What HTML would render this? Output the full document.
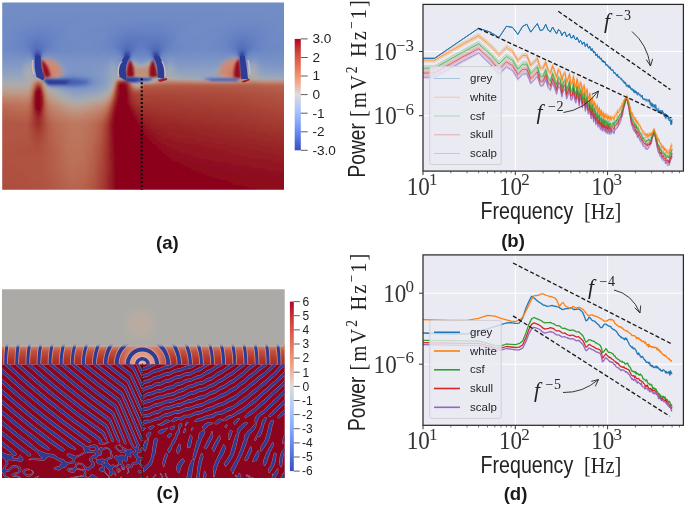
<!DOCTYPE html>
<html><head><meta charset="utf-8"><title>figure</title>
<style>
html,body{margin:0;padding:0;background:#fff;}
svg{display:block}
text{font-family:"Liberation Sans",sans-serif;fill:#262626}
.tk{font-family:"Liberation Serif",serif;font-size:24.8px;fill:#333}
.al{font-family:"Liberation Sans",sans-serif;font-size:23px;fill:#222}
.rm{font-family:"Liberation Serif",serif;font-size:24px;fill:#222}
.lg{font-family:"Liberation Sans",sans-serif;font-size:11.5px;fill:#262626}
.fl{font-family:"Liberation Serif",serif;font-style:italic;font-size:21.5px;fill:#222}
.fe{font-family:"Liberation Serif",serif;font-size:14px;fill:#222;letter-spacing:0.6px}
.pl{font-family:"Liberation Sans",sans-serif;font-weight:bold;font-size:18.6px;fill:#1a1a1a}
.cc{font-family:"Liberation Sans",sans-serif;font-size:12px;fill:#222}
.cb{font-family:"Liberation Sans",sans-serif;font-size:13.6px;fill:#222}
</style></head><body>
<svg width="685" height="505" viewBox="0 0 685 505">
<defs>
<clipPath id="cb"><rect x="423" y="4.4" width="261" height="166.7"/></clipPath>
<clipPath id="cd"><rect x="423" y="254.9" width="261" height="170.4"/></clipPath>
</defs>
<rect width="685" height="505" fill="#fff"/>
<defs>
<clipPath id="ca"><rect x="2.2" y="2.6" width="281.8" height="187.1"/></clipPath>
<linearGradient id="cwv" x1="0" y1="0" x2="0" y2="1">
<stop offset="0" stop-color="#b40426"/><stop offset="0.125" stop-color="#d0473d"/><stop offset="0.25" stop-color="#e7745b"/><stop offset="0.375" stop-color="#f3a283"/><stop offset="0.5" stop-color="#dddcdc"/>
<stop offset="0.625" stop-color="#b1c8f7"/><stop offset="0.75" stop-color="#85a7fa"/><stop offset="0.875" stop-color="#5d7ce6"/><stop offset="1" stop-color="#3b4cc0"/>
</linearGradient>
<linearGradient id="aR" x1="0" y1="3" x2="0" y2="189" gradientUnits="userSpaceOnUse">
<stop offset="0" stop-color="#7b94c9"/><stop offset="0.2" stop-color="#7f97cb"/><stop offset="0.33" stop-color="#8da3d2"/><stop offset="0.385" stop-color="#a3b4d9"/>
<stop offset="0.415" stop-color="#d6cfd3"/><stop offset="0.44" stop-color="#d68a72"/><stop offset="0.47" stop-color="#c35842"/><stop offset="0.58" stop-color="#b03a33"/><stop offset="0.75" stop-color="#9e1d28"/><stop offset="1" stop-color="#930f22"/>
</linearGradient>
<linearGradient id="aL" x1="0" y1="3" x2="0" y2="189" gradientUnits="userSpaceOnUse">
<stop offset="0" stop-color="#7b94c9"/><stop offset="0.25" stop-color="#8199cc"/><stop offset="0.36" stop-color="#98acd8"/><stop offset="0.42" stop-color="#b4c2e0"/>
<stop offset="0.47" stop-color="#dcd6d8"/><stop offset="0.53" stop-color="#e2b29c"/><stop offset="0.62" stop-color="#d17a62"/><stop offset="0.8" stop-color="#c7644d"/><stop offset="1" stop-color="#c25a44"/>
</linearGradient>
<linearGradient id="aLm" x1="2" y1="0" x2="284" y2="0" gradientUnits="userSpaceOnUse">
<stop offset="0" stop-color="#fff"/><stop offset="0.33" stop-color="#fff"/><stop offset="0.42" stop-color="#000"/><stop offset="1" stop-color="#000"/>
</linearGradient>
<mask id="mL"><rect x="0" y="0" width="290" height="195" fill="url(#aLm)"/></mask>
<filter id="b05" filterUnits="userSpaceOnUse" x="-40" y="-40" width="400" height="300"><feGaussianBlur stdDeviation="0.5"/></filter>
<filter id="b1" filterUnits="userSpaceOnUse" x="-40" y="-40" width="400" height="300"><feGaussianBlur stdDeviation="1"/></filter>
<filter id="b2" filterUnits="userSpaceOnUse" x="-40" y="-40" width="400" height="300"><feGaussianBlur stdDeviation="2.2"/></filter>
<filter id="b4" filterUnits="userSpaceOnUse" x="-40" y="-40" width="400" height="300"><feGaussianBlur stdDeviation="4.5"/></filter>
<filter id="b8" filterUnits="userSpaceOnUse" x="-40" y="-40" width="400" height="300"><feGaussianBlur stdDeviation="9"/></filter>
<filter id="b14" filterUnits="userSpaceOnUse" x="-40" y="-40" width="400" height="300"><feGaussianBlur stdDeviation="14"/></filter>
</defs>
<defs><linearGradient id="fa0" x1="2" x2="284.5" y1="0" y2="0" gradientUnits="userSpaceOnUse"><stop offset="0.000" stop-color="#728cc5"/><stop offset="1.000" stop-color="#728cc5"/></linearGradient><linearGradient id="fa1" x1="2" x2="284.5" y1="0" y2="0" gradientUnits="userSpaceOnUse"><stop offset="0.000" stop-color="#728cc5"/><stop offset="1.000" stop-color="#728cc5"/></linearGradient><linearGradient id="fa2" x1="2" x2="284.5" y1="0" y2="0" gradientUnits="userSpaceOnUse"><stop offset="0.000" stop-color="#728cc5"/><stop offset="1.000" stop-color="#728cc5"/></linearGradient><linearGradient id="fa3" x1="2" x2="284.5" y1="0" y2="0" gradientUnits="userSpaceOnUse"><stop offset="0.000" stop-color="#728cc5"/><stop offset="0.638" stop-color="#718cc5"/><stop offset="1.000" stop-color="#728cc5"/></linearGradient><linearGradient id="fa4" x1="2" x2="284.5" y1="0" y2="0" gradientUnits="userSpaceOnUse"><stop offset="0.000" stop-color="#718cc5"/><stop offset="0.241" stop-color="#718cc5"/><stop offset="0.596" stop-color="#708bc5"/><stop offset="1.000" stop-color="#718cc5"/></linearGradient><linearGradient id="fa5" x1="2" x2="284.5" y1="0" y2="0" gradientUnits="userSpaceOnUse"><stop offset="0.000" stop-color="#718cc5"/><stop offset="0.191" stop-color="#708bc5"/><stop offset="0.397" stop-color="#6f8ac5"/><stop offset="0.589" stop-color="#6f8ac5"/><stop offset="0.780" stop-color="#708bc5"/><stop offset="0.965" stop-color="#718bc5"/><stop offset="1.000" stop-color="#718cc5"/></linearGradient><linearGradient id="fa6" x1="2" x2="284.5" y1="0" y2="0" gradientUnits="userSpaceOnUse"><stop offset="0.000" stop-color="#718cc5"/><stop offset="0.170" stop-color="#6e89c5"/><stop offset="0.348" stop-color="#718bc5"/><stop offset="0.532" stop-color="#6c87c5"/><stop offset="0.738" stop-color="#718bc5"/><stop offset="0.894" stop-color="#6e89c5"/><stop offset="1.000" stop-color="#718cc5"/></linearGradient><linearGradient id="fa7" x1="2" x2="284.5" y1="0" y2="0" gradientUnits="userSpaceOnUse"><stop offset="0.000" stop-color="#718cc5"/><stop offset="0.156" stop-color="#6d88c5"/><stop offset="0.312" stop-color="#718cc5"/><stop offset="0.511" stop-color="#6a85c4"/><stop offset="0.723" stop-color="#718cc5"/><stop offset="0.879" stop-color="#6c88c5"/><stop offset="1.000" stop-color="#718cc5"/></linearGradient><linearGradient id="fa8" x1="2" x2="284.5" y1="0" y2="0" gradientUnits="userSpaceOnUse"><stop offset="0.000" stop-color="#718cc5"/><stop offset="0.142" stop-color="#6a85c4"/><stop offset="0.284" stop-color="#728cc5"/><stop offset="0.411" stop-color="#6b86c4"/><stop offset="0.546" stop-color="#6984c4"/><stop offset="0.695" stop-color="#728cc5"/><stop offset="0.872" stop-color="#6a85c4"/><stop offset="1.000" stop-color="#718cc5"/></linearGradient><linearGradient id="fa9" x1="2" x2="284.5" y1="0" y2="0" gradientUnits="userSpaceOnUse"><stop offset="0.000" stop-color="#718cc5"/><stop offset="0.135" stop-color="#6883c3"/><stop offset="0.262" stop-color="#718cc5"/><stop offset="0.376" stop-color="#6d88c5"/><stop offset="0.468" stop-color="#6681c3"/><stop offset="0.574" stop-color="#6984c4"/><stop offset="0.681" stop-color="#718cc5"/><stop offset="0.787" stop-color="#6d88c5"/><stop offset="0.865" stop-color="#6883c3"/><stop offset="0.986" stop-color="#718bc5"/><stop offset="1.000" stop-color="#718bc5"/></linearGradient><linearGradient id="fa10" x1="2" x2="284.5" y1="0" y2="0" gradientUnits="userSpaceOnUse"><stop offset="0.000" stop-color="#718cc5"/><stop offset="0.085" stop-color="#6984c4"/><stop offset="0.142" stop-color="#6681c3"/><stop offset="0.241" stop-color="#718bc5"/><stop offset="0.362" stop-color="#6e89c5"/><stop offset="0.454" stop-color="#637ec2"/><stop offset="0.567" stop-color="#6681c3"/><stop offset="0.652" stop-color="#708bc5"/><stop offset="0.766" stop-color="#6f8ac5"/><stop offset="0.851" stop-color="#6580c2"/><stop offset="0.972" stop-color="#708bc5"/><stop offset="1.000" stop-color="#718bc5"/></linearGradient><linearGradient id="fa11" x1="2" x2="284.5" y1="0" y2="0" gradientUnits="userSpaceOnUse"><stop offset="0.000" stop-color="#718cc5"/><stop offset="0.071" stop-color="#6a85c4"/><stop offset="0.128" stop-color="#627dc2"/><stop offset="0.234" stop-color="#708bc5"/><stop offset="0.355" stop-color="#6f8ac5"/><stop offset="0.447" stop-color="#607bc1"/><stop offset="0.560" stop-color="#627dc2"/><stop offset="0.638" stop-color="#6f8ac5"/><stop offset="0.752" stop-color="#708ac5"/><stop offset="0.851" stop-color="#627dc1"/><stop offset="0.957" stop-color="#708ac5"/><stop offset="1.000" stop-color="#718bc5"/></linearGradient><linearGradient id="fa12" x1="2" x2="284.5" y1="0" y2="0" gradientUnits="userSpaceOnUse"><stop offset="0.000" stop-color="#718cc5"/><stop offset="0.071" stop-color="#6a85c4"/><stop offset="0.121" stop-color="#5f7ac0"/><stop offset="0.163" stop-color="#6580c3"/><stop offset="0.220" stop-color="#6f8ac5"/><stop offset="0.348" stop-color="#6f8ac5"/><stop offset="0.404" stop-color="#6580c3"/><stop offset="0.447" stop-color="#5d78c0"/><stop offset="0.511" stop-color="#5f7ac0"/><stop offset="0.553" stop-color="#5e79c0"/><stop offset="0.631" stop-color="#6f8ac5"/><stop offset="0.745" stop-color="#708bc5"/><stop offset="0.801" stop-color="#6883c3"/><stop offset="0.851" stop-color="#5e79c0"/><stop offset="0.943" stop-color="#6e89c5"/><stop offset="1.000" stop-color="#708bc5"/></linearGradient><linearGradient id="fa13" x1="2" x2="284.5" y1="0" y2="0" gradientUnits="userSpaceOnUse"><stop offset="0.000" stop-color="#718bc5"/><stop offset="0.071" stop-color="#6a85c4"/><stop offset="0.121" stop-color="#5b76bf"/><stop offset="0.149" stop-color="#607bc1"/><stop offset="0.199" stop-color="#6d88c5"/><stop offset="0.312" stop-color="#718cc5"/><stop offset="0.383" stop-color="#6b86c4"/><stop offset="0.440" stop-color="#5974be"/><stop offset="0.504" stop-color="#5f7ac1"/><stop offset="0.546" stop-color="#5974be"/><stop offset="0.617" stop-color="#6d88c5"/><stop offset="0.716" stop-color="#718bc5"/><stop offset="0.787" stop-color="#6b86c4"/><stop offset="0.844" stop-color="#5b76bf"/><stop offset="0.872" stop-color="#5f7ac0"/><stop offset="0.922" stop-color="#6c87c4"/><stop offset="1.000" stop-color="#708bc5"/></linearGradient><linearGradient id="fa14" x1="2" x2="284.5" y1="0" y2="0" gradientUnits="userSpaceOnUse"><stop offset="0.000" stop-color="#718bc5"/><stop offset="0.071" stop-color="#6a85c4"/><stop offset="0.121" stop-color="#5772bd"/><stop offset="0.142" stop-color="#5b76bf"/><stop offset="0.184" stop-color="#6b86c4"/><stop offset="0.284" stop-color="#718cc5"/><stop offset="0.383" stop-color="#6b86c4"/><stop offset="0.418" stop-color="#5e79c0"/><stop offset="0.440" stop-color="#5570bc"/><stop offset="0.461" stop-color="#5973bd"/><stop offset="0.489" stop-color="#617cc1"/><stop offset="0.518" stop-color="#5c77bf"/><stop offset="0.546" stop-color="#5570bc"/><stop offset="0.603" stop-color="#6b86c4"/><stop offset="0.695" stop-color="#718cc5"/><stop offset="0.787" stop-color="#6b87c4"/><stop offset="0.823" stop-color="#5f7bc1"/><stop offset="0.844" stop-color="#5772bd"/><stop offset="0.865" stop-color="#5a75be"/><stop offset="0.908" stop-color="#6a85c4"/><stop offset="1.000" stop-color="#708ac5"/></linearGradient><linearGradient id="fa15" x1="2" x2="284.5" y1="0" y2="0" gradientUnits="userSpaceOnUse"><stop offset="0.000" stop-color="#718bc5"/><stop offset="0.078" stop-color="#6a85c4"/><stop offset="0.099" stop-color="#607cc1"/><stop offset="0.121" stop-color="#536dba"/><stop offset="0.135" stop-color="#556fbb"/><stop offset="0.163" stop-color="#6682c3"/><stop offset="0.213" stop-color="#6f8ac5"/><stop offset="0.333" stop-color="#708bc5"/><stop offset="0.397" stop-color="#6984c4"/><stop offset="0.418" stop-color="#5e79c0"/><stop offset="0.440" stop-color="#516ab9"/><stop offset="0.454" stop-color="#536dba"/><stop offset="0.482" stop-color="#627dc1"/><stop offset="0.504" stop-color="#627dc2"/><stop offset="0.539" stop-color="#516bb9"/><stop offset="0.553" stop-color="#536dba"/><stop offset="0.582" stop-color="#6681c3"/><stop offset="0.617" stop-color="#6d88c5"/><stop offset="0.723" stop-color="#718bc5"/><stop offset="0.801" stop-color="#6a85c4"/><stop offset="0.823" stop-color="#607bc1"/><stop offset="0.844" stop-color="#526dba"/><stop offset="0.858" stop-color="#536ebb"/><stop offset="0.887" stop-color="#6580c3"/><stop offset="0.936" stop-color="#6d88c5"/><stop offset="1.000" stop-color="#6f8ac5"/></linearGradient><linearGradient id="fa16" x1="2" x2="284.5" y1="0" y2="0" gradientUnits="userSpaceOnUse"><stop offset="0.000" stop-color="#738dc5"/><stop offset="0.092" stop-color="#6b86c4"/><stop offset="0.106" stop-color="#5f7ac0"/><stop offset="0.121" stop-color="#4961b3"/><stop offset="0.128" stop-color="#465eb1"/><stop offset="0.149" stop-color="#647fc2"/><stop offset="0.163" stop-color="#6c87c5"/><stop offset="0.284" stop-color="#738dc5"/><stop offset="0.397" stop-color="#6d89c5"/><stop offset="0.418" stop-color="#637ec2"/><stop offset="0.426" stop-color="#5a75be"/><stop offset="0.440" stop-color="#455db0"/><stop offset="0.447" stop-color="#465eb1"/><stop offset="0.461" stop-color="#5a75be"/><stop offset="0.475" stop-color="#6580c3"/><stop offset="0.504" stop-color="#6782c3"/><stop offset="0.518" stop-color="#637ec2"/><stop offset="0.525" stop-color="#5c77bf"/><stop offset="0.539" stop-color="#4860b2"/><stop offset="0.546" stop-color="#445caf"/><stop offset="0.553" stop-color="#4c64b5"/><stop offset="0.567" stop-color="#617cc1"/><stop offset="0.582" stop-color="#6b86c4"/><stop offset="0.652" stop-color="#738dc5"/><stop offset="0.766" stop-color="#718bc5"/><stop offset="0.816" stop-color="#6b86c4"/><stop offset="0.830" stop-color="#607bc1"/><stop offset="0.844" stop-color="#4962b3"/><stop offset="0.851" stop-color="#455db0"/><stop offset="0.872" stop-color="#627dc1"/><stop offset="0.887" stop-color="#6b86c4"/><stop offset="1.000" stop-color="#718cc5"/></linearGradient><linearGradient id="fa17" x1="2" x2="284.5" y1="0" y2="0" gradientUnits="userSpaceOnUse"><stop offset="0.000" stop-color="#7690c6"/><stop offset="0.099" stop-color="#708bc5"/><stop offset="0.106" stop-color="#6782c3"/><stop offset="0.113" stop-color="#506ab8"/><stop offset="0.121" stop-color="#35469e"/><stop offset="0.128" stop-color="#2e3c96"/><stop offset="0.135" stop-color="#4359ad"/><stop offset="0.142" stop-color="#5f7ac0"/><stop offset="0.149" stop-color="#6e89c5"/><stop offset="0.163" stop-color="#748ec5"/><stop offset="0.355" stop-color="#748ec5"/><stop offset="0.404" stop-color="#718cc5"/><stop offset="0.418" stop-color="#6b86c4"/><stop offset="0.426" stop-color="#5e7ac0"/><stop offset="0.433" stop-color="#445caf"/><stop offset="0.440" stop-color="#2e3c96"/><stop offset="0.447" stop-color="#32419a"/><stop offset="0.454" stop-color="#4b64b5"/><stop offset="0.461" stop-color="#617cc1"/><stop offset="0.468" stop-color="#6a85c4"/><stop offset="0.518" stop-color="#6b86c4"/><stop offset="0.525" stop-color="#6480c2"/><stop offset="0.532" stop-color="#526bb9"/><stop offset="0.539" stop-color="#3749a0"/><stop offset="0.546" stop-color="#2e3b95"/><stop offset="0.553" stop-color="#3d53a8"/><stop offset="0.560" stop-color="#5974be"/><stop offset="0.567" stop-color="#6984c4"/><stop offset="0.582" stop-color="#718cc5"/><stop offset="0.695" stop-color="#7790c6"/><stop offset="0.823" stop-color="#738dc5"/><stop offset="0.830" stop-color="#6b86c4"/><stop offset="0.837" stop-color="#556fbb"/><stop offset="0.844" stop-color="#3749a1"/><stop offset="0.851" stop-color="#2e3b95"/><stop offset="0.858" stop-color="#4056ab"/><stop offset="0.865" stop-color="#5b76bf"/><stop offset="0.872" stop-color="#6a86c4"/><stop offset="0.887" stop-color="#718cc5"/><stop offset="1.000" stop-color="#748ec5"/></linearGradient><linearGradient id="fa18" x1="2" x2="284.5" y1="0" y2="0" gradientUnits="userSpaceOnUse"><stop offset="0.000" stop-color="#7992c6"/><stop offset="0.078" stop-color="#7891c6"/><stop offset="0.099" stop-color="#7a93c6"/><stop offset="0.106" stop-color="#758ec6"/><stop offset="0.113" stop-color="#627dc2"/><stop offset="0.121" stop-color="#4157ac"/><stop offset="0.128" stop-color="#3749a1"/><stop offset="0.135" stop-color="#536dba"/><stop offset="0.142" stop-color="#708bc5"/><stop offset="0.149" stop-color="#7d96c6"/><stop offset="0.163" stop-color="#7f97c5"/><stop offset="0.220" stop-color="#7790c6"/><stop offset="0.376" stop-color="#7891c6"/><stop offset="0.397" stop-color="#7992c6"/><stop offset="0.418" stop-color="#728cc5"/><stop offset="0.426" stop-color="#6b87c4"/><stop offset="0.433" stop-color="#556fbb"/><stop offset="0.440" stop-color="#394ca3"/><stop offset="0.447" stop-color="#3f55aa"/><stop offset="0.454" stop-color="#5f7ac0"/><stop offset="0.461" stop-color="#708bc5"/><stop offset="0.475" stop-color="#728cc5"/><stop offset="0.525" stop-color="#728cc5"/><stop offset="0.532" stop-color="#6581c3"/><stop offset="0.539" stop-color="#475fb1"/><stop offset="0.546" stop-color="#3648a0"/><stop offset="0.553" stop-color="#4d66b6"/><stop offset="0.560" stop-color="#6883c3"/><stop offset="0.567" stop-color="#728cc5"/><stop offset="0.596" stop-color="#7b93c6"/><stop offset="0.645" stop-color="#7892c6"/><stop offset="0.787" stop-color="#7a93c6"/><stop offset="0.823" stop-color="#8399c5"/><stop offset="0.830" stop-color="#8098c5"/><stop offset="0.837" stop-color="#6e89c5"/><stop offset="0.844" stop-color="#465db0"/><stop offset="0.851" stop-color="#3648a0"/><stop offset="0.858" stop-color="#4f69b8"/><stop offset="0.865" stop-color="#6a85c4"/><stop offset="0.872" stop-color="#748ec5"/><stop offset="0.894" stop-color="#7992c6"/><stop offset="0.929" stop-color="#758fc6"/><stop offset="1.000" stop-color="#7690c6"/></linearGradient><linearGradient id="fa19" x1="2" x2="284.5" y1="0" y2="0" gradientUnits="userSpaceOnUse"><stop offset="0.000" stop-color="#7c95c6"/><stop offset="0.071" stop-color="#7c94c6"/><stop offset="0.092" stop-color="#869bc4"/><stop offset="0.106" stop-color="#8098c5"/><stop offset="0.113" stop-color="#768fc6"/><stop offset="0.121" stop-color="#637ec2"/><stop offset="0.128" stop-color="#5c77bf"/><stop offset="0.135" stop-color="#6c87c4"/><stop offset="0.142" stop-color="#8299c5"/><stop offset="0.149" stop-color="#93a4bf"/><stop offset="0.156" stop-color="#97a5bd"/><stop offset="0.199" stop-color="#7f97c5"/><stop offset="0.234" stop-color="#7992c6"/><stop offset="0.369" stop-color="#7b93c6"/><stop offset="0.390" stop-color="#8399c5"/><stop offset="0.404" stop-color="#7e96c6"/><stop offset="0.426" stop-color="#758ec6"/><stop offset="0.440" stop-color="#647fc2"/><stop offset="0.447" stop-color="#708bc5"/><stop offset="0.454" stop-color="#8399c5"/><stop offset="0.461" stop-color="#889cc4"/><stop offset="0.489" stop-color="#7a92c6"/><stop offset="0.504" stop-color="#7c95c6"/><stop offset="0.525" stop-color="#899dc3"/><stop offset="0.532" stop-color="#859bc4"/><stop offset="0.539" stop-color="#748ec5"/><stop offset="0.546" stop-color="#627dc2"/><stop offset="0.553" stop-color="#6984c4"/><stop offset="0.560" stop-color="#738dc5"/><stop offset="0.596" stop-color="#849ac5"/><stop offset="0.624" stop-color="#7b94c6"/><stop offset="0.766" stop-color="#7d96c6"/><stop offset="0.794" stop-color="#889dc4"/><stop offset="0.823" stop-color="#9ba7ba"/><stop offset="0.830" stop-color="#9ca7ba"/><stop offset="0.837" stop-color="#8fa2c1"/><stop offset="0.844" stop-color="#6d88c5"/><stop offset="0.851" stop-color="#5c77bf"/><stop offset="0.865" stop-color="#768fc6"/><stop offset="0.887" stop-color="#849ac5"/><stop offset="0.901" stop-color="#8098c5"/><stop offset="0.922" stop-color="#7891c6"/><stop offset="1.000" stop-color="#7992c6"/></linearGradient><linearGradient id="fa20" x1="2" x2="284.5" y1="0" y2="0" gradientUnits="userSpaceOnUse"><stop offset="0.000" stop-color="#8198c5"/><stop offset="0.064" stop-color="#8097c5"/><stop offset="0.092" stop-color="#92a3bf"/><stop offset="0.099" stop-color="#92a3bf"/><stop offset="0.113" stop-color="#849ac5"/><stop offset="0.121" stop-color="#7992c6"/><stop offset="0.128" stop-color="#758fc6"/><stop offset="0.135" stop-color="#7d95c6"/><stop offset="0.142" stop-color="#97a5bd"/><stop offset="0.149" stop-color="#b2a7a1"/><stop offset="0.156" stop-color="#b6a49a"/><stop offset="0.163" stop-color="#b2a7a1"/><stop offset="0.170" stop-color="#ababab"/><stop offset="0.184" stop-color="#99a6bb"/><stop offset="0.206" stop-color="#849ac5"/><stop offset="0.227" stop-color="#7c95c6"/><stop offset="0.355" stop-color="#7d95c6"/><stop offset="0.376" stop-color="#8399c5"/><stop offset="0.390" stop-color="#8c9fc2"/><stop offset="0.404" stop-color="#879cc4"/><stop offset="0.418" stop-color="#7d96c6"/><stop offset="0.433" stop-color="#7d95c6"/><stop offset="0.440" stop-color="#869bc4"/><stop offset="0.447" stop-color="#9ea8b8"/><stop offset="0.454" stop-color="#adaaa8"/><stop offset="0.461" stop-color="#afa9a5"/><stop offset="0.468" stop-color="#ababac"/><stop offset="0.482" stop-color="#97a5bd"/><stop offset="0.489" stop-color="#91a2c0"/><stop offset="0.496" stop-color="#92a3bf"/><stop offset="0.504" stop-color="#9aa6bb"/><stop offset="0.518" stop-color="#adaaa9"/><stop offset="0.525" stop-color="#b0a8a4"/><stop offset="0.532" stop-color="#aeaaa7"/><stop offset="0.539" stop-color="#9fa8b7"/><stop offset="0.546" stop-color="#869bc4"/><stop offset="0.553" stop-color="#7b94c6"/><stop offset="0.574" stop-color="#8098c5"/><stop offset="0.589" stop-color="#8b9fc2"/><stop offset="0.596" stop-color="#8da0c2"/><stop offset="0.624" stop-color="#8097c5"/><stop offset="0.759" stop-color="#8299c5"/><stop offset="0.780" stop-color="#8c9fc2"/><stop offset="0.794" stop-color="#9aa6bb"/><stop offset="0.809" stop-color="#ababac"/><stop offset="0.823" stop-color="#b8a296"/><stop offset="0.830" stop-color="#ba9f92"/><stop offset="0.837" stop-color="#b0a8a4"/><stop offset="0.844" stop-color="#8b9fc2"/><stop offset="0.851" stop-color="#768fc6"/><stop offset="0.858" stop-color="#7891c6"/><stop offset="0.879" stop-color="#8da0c2"/><stop offset="0.887" stop-color="#91a2c0"/><stop offset="0.894" stop-color="#90a2c0"/><stop offset="0.915" stop-color="#7f97c5"/><stop offset="0.943" stop-color="#7c94c6"/><stop offset="1.000" stop-color="#7c94c6"/></linearGradient><linearGradient id="fa21" x1="2" x2="284.5" y1="0" y2="0" gradientUnits="userSpaceOnUse"><stop offset="0.000" stop-color="#859bc4"/><stop offset="0.064" stop-color="#869bc4"/><stop offset="0.078" stop-color="#90a2c0"/><stop offset="0.092" stop-color="#9fa8b8"/><stop offset="0.099" stop-color="#9ea8b8"/><stop offset="0.121" stop-color="#859bc4"/><stop offset="0.128" stop-color="#8198c5"/><stop offset="0.135" stop-color="#899dc3"/><stop offset="0.142" stop-color="#adaaa9"/><stop offset="0.149" stop-color="#bf826a"/><stop offset="0.156" stop-color="#bd755e"/><stop offset="0.163" stop-color="#bf8169"/><stop offset="0.170" stop-color="#bf927d"/><stop offset="0.177" stop-color="#b9a093"/><stop offset="0.184" stop-color="#aeaaa7"/><stop offset="0.191" stop-color="#a1a9b5"/><stop offset="0.206" stop-color="#8da0c2"/><stop offset="0.227" stop-color="#7f97c6"/><stop offset="0.277" stop-color="#7b94c6"/><stop offset="0.362" stop-color="#8198c5"/><stop offset="0.376" stop-color="#889dc3"/><stop offset="0.390" stop-color="#94a4be"/><stop offset="0.397" stop-color="#94a4be"/><stop offset="0.418" stop-color="#849ac5"/><stop offset="0.426" stop-color="#839ac5"/><stop offset="0.433" stop-color="#879cc4"/><stop offset="0.440" stop-color="#97a5bd"/><stop offset="0.447" stop-color="#b1a8a3"/><stop offset="0.454" stop-color="#bd9a8a"/><stop offset="0.461" stop-color="#be9583"/><stop offset="0.468" stop-color="#be9684"/><stop offset="0.489" stop-color="#b6a49a"/><stop offset="0.496" stop-color="#b7a398"/><stop offset="0.511" stop-color="#bd9988"/><stop offset="0.518" stop-color="#be9683"/><stop offset="0.525" stop-color="#be9582"/><stop offset="0.532" stop-color="#bd9a8a"/><stop offset="0.539" stop-color="#b1a8a2"/><stop offset="0.546" stop-color="#97a5bd"/><stop offset="0.553" stop-color="#889cc4"/><stop offset="0.560" stop-color="#849ac5"/><stop offset="0.574" stop-color="#899dc3"/><stop offset="0.589" stop-color="#95a5be"/><stop offset="0.596" stop-color="#98a6bc"/><stop offset="0.624" stop-color="#869bc4"/><stop offset="0.752" stop-color="#889dc4"/><stop offset="0.773" stop-color="#92a3bf"/><stop offset="0.787" stop-color="#a4a9b4"/><stop offset="0.794" stop-color="#aea9a7"/><stop offset="0.801" stop-color="#b9a194"/><stop offset="0.809" stop-color="#bf9480"/><stop offset="0.816" stop-color="#bf836b"/><stop offset="0.823" stop-color="#bc725a"/><stop offset="0.830" stop-color="#ba6a54"/><stop offset="0.837" stop-color="#bf866f"/><stop offset="0.844" stop-color="#a3a9b4"/><stop offset="0.851" stop-color="#869bc4"/><stop offset="0.858" stop-color="#849ac5"/><stop offset="0.872" stop-color="#90a2c0"/><stop offset="0.887" stop-color="#9ea8b8"/><stop offset="0.894" stop-color="#9da8b9"/><stop offset="0.915" stop-color="#879cc4"/><stop offset="0.936" stop-color="#8198c5"/><stop offset="1.000" stop-color="#8198c5"/></linearGradient><linearGradient id="fa22" x1="2" x2="284.5" y1="0" y2="0" gradientUnits="userSpaceOnUse"><stop offset="0.000" stop-color="#8a9ec3"/><stop offset="0.064" stop-color="#8b9fc2"/><stop offset="0.078" stop-color="#97a5bd"/><stop offset="0.092" stop-color="#a6aab1"/><stop offset="0.099" stop-color="#a6aab2"/><stop offset="0.121" stop-color="#8c9fc2"/><stop offset="0.128" stop-color="#899dc3"/><stop offset="0.135" stop-color="#92a3bf"/><stop offset="0.142" stop-color="#bb9d8e"/><stop offset="0.149" stop-color="#aa4639"/><stop offset="0.156" stop-color="#9c2e2a"/><stop offset="0.163" stop-color="#aa4639"/><stop offset="0.170" stop-color="#b96852"/><stop offset="0.177" stop-color="#bf8770"/><stop offset="0.184" stop-color="#bb9d8d"/><stop offset="0.191" stop-color="#aea9a7"/><stop offset="0.199" stop-color="#a0a9b7"/><stop offset="0.213" stop-color="#8b9ec3"/><stop offset="0.234" stop-color="#7d96c6"/><stop offset="0.284" stop-color="#7b94c6"/><stop offset="0.362" stop-color="#8399c5"/><stop offset="0.376" stop-color="#8c9fc2"/><stop offset="0.390" stop-color="#99a6bc"/><stop offset="0.397" stop-color="#99a6bc"/><stop offset="0.418" stop-color="#8a9ec3"/><stop offset="0.426" stop-color="#899ec3"/><stop offset="0.433" stop-color="#8ea1c1"/><stop offset="0.440" stop-color="#9ea8b9"/><stop offset="0.447" stop-color="#b5a59b"/><stop offset="0.454" stop-color="#be9583"/><stop offset="0.461" stop-color="#bf8f7a"/><stop offset="0.482" stop-color="#bf907b"/><stop offset="0.496" stop-color="#bf927d"/><stop offset="0.518" stop-color="#bf8e79"/><stop offset="0.525" stop-color="#bf8f7a"/><stop offset="0.532" stop-color="#be9582"/><stop offset="0.539" stop-color="#b6a49b"/><stop offset="0.546" stop-color="#9ea8b8"/><stop offset="0.553" stop-color="#8fa1c1"/><stop offset="0.560" stop-color="#8b9fc2"/><stop offset="0.574" stop-color="#8fa2c1"/><stop offset="0.589" stop-color="#9ca8b9"/><stop offset="0.596" stop-color="#9fa8b8"/><stop offset="0.624" stop-color="#8ca0c2"/><stop offset="0.745" stop-color="#8da0c2"/><stop offset="0.766" stop-color="#96a5bd"/><stop offset="0.780" stop-color="#a6aab1"/><stop offset="0.787" stop-color="#b1a8a2"/><stop offset="0.794" stop-color="#bc9c8d"/><stop offset="0.801" stop-color="#bf8973"/><stop offset="0.809" stop-color="#bb6e57"/><stop offset="0.816" stop-color="#ad4d3e"/><stop offset="0.823" stop-color="#9c2d2a"/><stop offset="0.830" stop-color="#931923"/><stop offset="0.837" stop-color="#af5241"/><stop offset="0.844" stop-color="#b3a6a0"/><stop offset="0.851" stop-color="#90a2c0"/><stop offset="0.858" stop-color="#8c9fc2"/><stop offset="0.865" stop-color="#90a2c0"/><stop offset="0.879" stop-color="#a2a9b5"/><stop offset="0.887" stop-color="#a7aab0"/><stop offset="0.894" stop-color="#a5aab2"/><stop offset="0.915" stop-color="#8da0c2"/><stop offset="0.936" stop-color="#879cc4"/><stop offset="1.000" stop-color="#879cc4"/></linearGradient><linearGradient id="fa23" x1="2" x2="284.5" y1="0" y2="0" gradientUnits="userSpaceOnUse"><stop offset="0.000" stop-color="#90a2c0"/><stop offset="0.064" stop-color="#91a2c0"/><stop offset="0.078" stop-color="#9ca7ba"/><stop offset="0.092" stop-color="#a9abae"/><stop offset="0.099" stop-color="#a9abae"/><stop offset="0.121" stop-color="#92a3bf"/><stop offset="0.128" stop-color="#8fa1c1"/><stop offset="0.135" stop-color="#99a6bc"/><stop offset="0.142" stop-color="#bf927e"/><stop offset="0.149" stop-color="#941b23"/><stop offset="0.156" stop-color="#8c031d"/><stop offset="0.163" stop-color="#941e24"/><stop offset="0.170" stop-color="#ad4d3e"/><stop offset="0.177" stop-color="#bd765e"/><stop offset="0.184" stop-color="#bf9480"/><stop offset="0.191" stop-color="#b4a59d"/><stop offset="0.199" stop-color="#a5aab2"/><stop offset="0.206" stop-color="#97a5bd"/><stop offset="0.220" stop-color="#859bc4"/><stop offset="0.241" stop-color="#7b93c6"/><stop offset="0.291" stop-color="#7b93c6"/><stop offset="0.362" stop-color="#869bc4"/><stop offset="0.376" stop-color="#8ea1c1"/><stop offset="0.390" stop-color="#9ba7ba"/><stop offset="0.397" stop-color="#9ba7ba"/><stop offset="0.418" stop-color="#90a2c0"/><stop offset="0.426" stop-color="#90a2c0"/><stop offset="0.433" stop-color="#95a4be"/><stop offset="0.440" stop-color="#a3a9b4"/><stop offset="0.447" stop-color="#b7a397"/><stop offset="0.454" stop-color="#bf9481"/><stop offset="0.461" stop-color="#bf8f79"/><stop offset="0.525" stop-color="#bf8e79"/><stop offset="0.532" stop-color="#bf9481"/><stop offset="0.539" stop-color="#b8a397"/><stop offset="0.546" stop-color="#a4a9b4"/><stop offset="0.553" stop-color="#96a5bd"/><stop offset="0.560" stop-color="#92a3bf"/><stop offset="0.574" stop-color="#96a5bd"/><stop offset="0.589" stop-color="#a1a9b6"/><stop offset="0.596" stop-color="#a3a9b4"/><stop offset="0.624" stop-color="#93a3bf"/><stop offset="0.745" stop-color="#93a3bf"/><stop offset="0.766" stop-color="#9da8b9"/><stop offset="0.773" stop-color="#a4aab3"/><stop offset="0.780" stop-color="#adaaa8"/><stop offset="0.787" stop-color="#b8a295"/><stop offset="0.794" stop-color="#bf917d"/><stop offset="0.801" stop-color="#bd7860"/><stop offset="0.809" stop-color="#b05442"/><stop offset="0.816" stop-color="#992828"/><stop offset="0.823" stop-color="#8c031d"/><stop offset="0.830" stop-color="#8c031d"/><stop offset="0.837" stop-color="#9c2d2a"/><stop offset="0.844" stop-color="#ba9f91"/><stop offset="0.851" stop-color="#98a6bc"/><stop offset="0.858" stop-color="#93a3bf"/><stop offset="0.872" stop-color="#9ea8b8"/><stop offset="0.887" stop-color="#aaabac"/><stop offset="0.894" stop-color="#a9abae"/><stop offset="0.915" stop-color="#93a4bf"/><stop offset="0.936" stop-color="#8ea1c1"/><stop offset="1.000" stop-color="#8da0c2"/></linearGradient><linearGradient id="fa24" x1="2" x2="284.5" y1="0" y2="0" gradientUnits="userSpaceOnUse"><stop offset="0.000" stop-color="#96a5bd"/><stop offset="0.064" stop-color="#97a5bd"/><stop offset="0.085" stop-color="#a5aab2"/><stop offset="0.092" stop-color="#a9abae"/><stop offset="0.099" stop-color="#a8abaf"/><stop offset="0.121" stop-color="#98a6bc"/><stop offset="0.128" stop-color="#96a5bd"/><stop offset="0.135" stop-color="#9da8b9"/><stop offset="0.142" stop-color="#bd9988"/><stop offset="0.149" stop-color="#ad4d3e"/><stop offset="0.156" stop-color="#a53d33"/><stop offset="0.163" stop-color="#b15543"/><stop offset="0.170" stop-color="#bc745d"/><stop offset="0.177" stop-color="#bf8f7a"/><stop offset="0.184" stop-color="#b8a297"/><stop offset="0.191" stop-color="#a9abae"/><stop offset="0.199" stop-color="#99a6bb"/><stop offset="0.213" stop-color="#8399c5"/><stop offset="0.227" stop-color="#7790c6"/><stop offset="0.255" stop-color="#718bc5"/><stop offset="0.333" stop-color="#7f97c6"/><stop offset="0.369" stop-color="#8a9ec3"/><stop offset="0.390" stop-color="#9aa6bb"/><stop offset="0.426" stop-color="#9ca7ba"/><stop offset="0.433" stop-color="#a0a9b7"/><stop offset="0.440" stop-color="#a9abae"/><stop offset="0.447" stop-color="#b7a398"/><stop offset="0.454" stop-color="#bd9987"/><stop offset="0.461" stop-color="#bf9581"/><stop offset="0.525" stop-color="#bf9581"/><stop offset="0.532" stop-color="#bd9987"/><stop offset="0.539" stop-color="#b7a499"/><stop offset="0.546" stop-color="#a7aab0"/><stop offset="0.553" stop-color="#9da8b9"/><stop offset="0.567" stop-color="#9aa7bb"/><stop offset="0.596" stop-color="#a6aab2"/><stop offset="0.624" stop-color="#9aa7bb"/><stop offset="0.716" stop-color="#93a4bf"/><stop offset="0.752" stop-color="#90a2c0"/><stop offset="0.766" stop-color="#95a5be"/><stop offset="0.780" stop-color="#a4a9b3"/><stop offset="0.787" stop-color="#aea9a7"/><stop offset="0.794" stop-color="#b9a093"/><stop offset="0.801" stop-color="#bf8f7a"/><stop offset="0.809" stop-color="#bd775f"/><stop offset="0.816" stop-color="#b35946"/><stop offset="0.823" stop-color="#a33b31"/><stop offset="0.830" stop-color="#992828"/><stop offset="0.837" stop-color="#af5241"/><stop offset="0.844" stop-color="#b9a195"/><stop offset="0.851" stop-color="#9ea8b8"/><stop offset="0.858" stop-color="#9aa6bb"/><stop offset="0.872" stop-color="#a2a9b5"/><stop offset="0.887" stop-color="#ababab"/><stop offset="0.894" stop-color="#aaabad"/><stop offset="0.915" stop-color="#99a6bb"/><stop offset="0.943" stop-color="#95a4be"/><stop offset="1.000" stop-color="#94a4be"/></linearGradient><linearGradient id="fa25" x1="2" x2="284.5" y1="0" y2="0" gradientUnits="userSpaceOnUse"><stop offset="0.000" stop-color="#9ea8b9"/><stop offset="0.071" stop-color="#9fa8b8"/><stop offset="0.099" stop-color="#aaabad"/><stop offset="0.128" stop-color="#b1a7a2"/><stop offset="0.149" stop-color="#aeaaa7"/><stop offset="0.163" stop-color="#9ba7ba"/><stop offset="0.177" stop-color="#879cc4"/><stop offset="0.199" stop-color="#6f89c5"/><stop offset="0.220" stop-color="#617cc1"/><stop offset="0.248" stop-color="#5c78bf"/><stop offset="0.291" stop-color="#6a85c4"/><stop offset="0.362" stop-color="#869cc4"/><stop offset="0.390" stop-color="#9aa7bb"/><stop offset="0.397" stop-color="#a0a9b6"/><stop offset="0.404" stop-color="#acabab"/><stop offset="0.411" stop-color="#b9a195"/><stop offset="0.418" stop-color="#bd9988"/><stop offset="0.426" stop-color="#bf9582"/><stop offset="0.433" stop-color="#bf9480"/><stop offset="0.440" stop-color="#be9784"/><stop offset="0.447" stop-color="#ba9f91"/><stop offset="0.454" stop-color="#b1a8a3"/><stop offset="0.461" stop-color="#a9abae"/><stop offset="0.475" stop-color="#a0a9b7"/><stop offset="0.504" stop-color="#a3a9b4"/><stop offset="0.525" stop-color="#a4a9b3"/><stop offset="0.582" stop-color="#ababab"/><stop offset="0.596" stop-color="#aeaaa7"/><stop offset="0.631" stop-color="#a8aaaf"/><stop offset="0.695" stop-color="#a1a9b6"/><stop offset="0.759" stop-color="#8c9fc2"/><stop offset="0.780" stop-color="#8da0c2"/><stop offset="0.801" stop-color="#9aa7bb"/><stop offset="0.823" stop-color="#aeaaa8"/><stop offset="0.830" stop-color="#b3a69f"/><stop offset="0.837" stop-color="#b3a69f"/><stop offset="0.844" stop-color="#ababac"/><stop offset="0.851" stop-color="#a6aab1"/><stop offset="0.872" stop-color="#ababab"/><stop offset="0.887" stop-color="#b1a8a3"/><stop offset="0.901" stop-color="#adaaa9"/><stop offset="0.922" stop-color="#a5aab2"/><stop offset="1.000" stop-color="#a3a9b4"/></linearGradient><linearGradient id="fa26" x1="2" x2="284.5" y1="0" y2="0" gradientUnits="userSpaceOnUse"><stop offset="0.000" stop-color="#a5aab2"/><stop offset="0.078" stop-color="#a6aab1"/><stop offset="0.092" stop-color="#ababab"/><stop offset="0.099" stop-color="#b0a8a4"/><stop offset="0.106" stop-color="#b8a397"/><stop offset="0.113" stop-color="#bf9581"/><stop offset="0.121" stop-color="#bf8169"/><stop offset="0.128" stop-color="#bd755d"/><stop offset="0.135" stop-color="#bf7f67"/><stop offset="0.142" stop-color="#be9785"/><stop offset="0.149" stop-color="#adaaa9"/><stop offset="0.156" stop-color="#96a5bd"/><stop offset="0.163" stop-color="#849ac5"/><stop offset="0.177" stop-color="#708ac5"/><stop offset="0.213" stop-color="#5671bc"/><stop offset="0.241" stop-color="#5069b8"/><stop offset="0.270" stop-color="#5771bc"/><stop offset="0.319" stop-color="#728cc5"/><stop offset="0.369" stop-color="#8b9fc2"/><stop offset="0.383" stop-color="#97a5bd"/><stop offset="0.390" stop-color="#a0a9b7"/><stop offset="0.397" stop-color="#b1a7a2"/><stop offset="0.404" stop-color="#bf846d"/><stop offset="0.411" stop-color="#ad4c3d"/><stop offset="0.418" stop-color="#9d2f2b"/><stop offset="0.426" stop-color="#972427"/><stop offset="0.433" stop-color="#972426"/><stop offset="0.440" stop-color="#9f332d"/><stop offset="0.447" stop-color="#b05442"/><stop offset="0.454" stop-color="#bf8169"/><stop offset="0.461" stop-color="#b9a194"/><stop offset="0.468" stop-color="#a3a9b4"/><stop offset="0.475" stop-color="#92a3c0"/><stop offset="0.482" stop-color="#8fa1c1"/><stop offset="0.489" stop-color="#9ca7ba"/><stop offset="0.496" stop-color="#a9abae"/><stop offset="0.504" stop-color="#a9abad"/><stop offset="0.511" stop-color="#a5aab3"/><stop offset="0.518" stop-color="#a5aab2"/><stop offset="0.525" stop-color="#acabaa"/><stop offset="0.539" stop-color="#bc9c8c"/><stop offset="0.546" stop-color="#bf937f"/><stop offset="0.560" stop-color="#bf8871"/><stop offset="0.596" stop-color="#bf7f67"/><stop offset="0.652" stop-color="#bf846d"/><stop offset="0.738" stop-color="#bf8d77"/><stop offset="0.794" stop-color="#bf907b"/><stop offset="0.872" stop-color="#bf836c"/><stop offset="0.894" stop-color="#bf8068"/><stop offset="0.922" stop-color="#bf8972"/><stop offset="1.000" stop-color="#bf8b75"/></linearGradient><linearGradient id="fa27" x1="2" x2="284.5" y1="0" y2="0" gradientUnits="userSpaceOnUse"><stop offset="0.000" stop-color="#adaaa8"/><stop offset="0.078" stop-color="#acabaa"/><stop offset="0.092" stop-color="#b0a8a4"/><stop offset="0.099" stop-color="#b6a49a"/><stop offset="0.106" stop-color="#be9887"/><stop offset="0.113" stop-color="#bf7f67"/><stop offset="0.121" stop-color="#b35a46"/><stop offset="0.128" stop-color="#a84337"/><stop offset="0.135" stop-color="#af5241"/><stop offset="0.142" stop-color="#be7b63"/><stop offset="0.149" stop-color="#bb9e8f"/><stop offset="0.156" stop-color="#a7aab0"/><stop offset="0.163" stop-color="#96a5bd"/><stop offset="0.177" stop-color="#859ac4"/><stop offset="0.220" stop-color="#6a85c4"/><stop offset="0.248" stop-color="#637ec2"/><stop offset="0.284" stop-color="#6b86c4"/><stop offset="0.355" stop-color="#879cc4"/><stop offset="0.383" stop-color="#9ca7ba"/><stop offset="0.390" stop-color="#a7aab0"/><stop offset="0.397" stop-color="#bb9e8f"/><stop offset="0.404" stop-color="#b96852"/><stop offset="0.411" stop-color="#9b2b29"/><stop offset="0.418" stop-color="#8c031d"/><stop offset="0.433" stop-color="#8c031d"/><stop offset="0.440" stop-color="#8f0e20"/><stop offset="0.447" stop-color="#9f332d"/><stop offset="0.454" stop-color="#b45c48"/><stop offset="0.461" stop-color="#bf846d"/><stop offset="0.468" stop-color="#ba9f92"/><stop offset="0.475" stop-color="#adaaa9"/><stop offset="0.482" stop-color="#ababac"/><stop offset="0.489" stop-color="#b7a398"/><stop offset="0.496" stop-color="#bf826a"/><stop offset="0.504" stop-color="#b96751"/><stop offset="0.582" stop-color="#b35b47"/><stop offset="0.872" stop-color="#b55f4a"/><stop offset="0.894" stop-color="#b55e49"/><stop offset="0.936" stop-color="#b8654f"/><stop offset="1.000" stop-color="#b86650"/></linearGradient><linearGradient id="fa28" x1="2" x2="284.5" y1="0" y2="0" gradientUnits="userSpaceOnUse"><stop offset="0.000" stop-color="#b6a49b"/><stop offset="0.085" stop-color="#b4a59d"/><stop offset="0.092" stop-color="#b7a499"/><stop offset="0.099" stop-color="#bb9d8e"/><stop offset="0.106" stop-color="#bf8c77"/><stop offset="0.113" stop-color="#b96952"/><stop offset="0.121" stop-color="#a1372f"/><stop offset="0.128" stop-color="#8f0d20"/><stop offset="0.135" stop-color="#9a2928"/><stop offset="0.142" stop-color="#b55e49"/><stop offset="0.149" stop-color="#bf8c76"/><stop offset="0.156" stop-color="#b7a499"/><stop offset="0.163" stop-color="#aaabad"/><stop offset="0.177" stop-color="#9ca8b9"/><stop offset="0.227" stop-color="#8299c5"/><stop offset="0.255" stop-color="#7992c6"/><stop offset="0.298" stop-color="#7f97c6"/><stop offset="0.355" stop-color="#8ea1c1"/><stop offset="0.376" stop-color="#9ca7b9"/><stop offset="0.383" stop-color="#a5aab3"/><stop offset="0.390" stop-color="#b2a7a0"/><stop offset="0.397" stop-color="#bf8c76"/><stop offset="0.404" stop-color="#b05342"/><stop offset="0.411" stop-color="#962125"/><stop offset="0.418" stop-color="#8c031d"/><stop offset="0.433" stop-color="#8c031d"/><stop offset="0.440" stop-color="#8d091f"/><stop offset="0.447" stop-color="#992828"/><stop offset="0.454" stop-color="#a94538"/><stop offset="0.461" stop-color="#b7624c"/><stop offset="0.468" stop-color="#bd7860"/><stop offset="0.475" stop-color="#bf846d"/><stop offset="0.482" stop-color="#bf866f"/><stop offset="0.489" stop-color="#bf7d65"/><stop offset="0.496" stop-color="#b8654f"/><stop offset="0.504" stop-color="#b05543"/><stop offset="0.688" stop-color="#b05342"/><stop offset="0.908" stop-color="#b35a47"/><stop offset="1.000" stop-color="#b55f4a"/></linearGradient><linearGradient id="fa29" x1="2" x2="284.5" y1="0" y2="0" gradientUnits="userSpaceOnUse"><stop offset="0.000" stop-color="#bc9d8d"/><stop offset="0.085" stop-color="#ba9f91"/><stop offset="0.092" stop-color="#bc9c8d"/><stop offset="0.099" stop-color="#bf9481"/><stop offset="0.106" stop-color="#bf7f67"/><stop offset="0.113" stop-color="#b05342"/><stop offset="0.121" stop-color="#8f0f20"/><stop offset="0.128" stop-color="#8c031d"/><stop offset="0.135" stop-color="#8c031d"/><stop offset="0.142" stop-color="#a94437"/><stop offset="0.149" stop-color="#be7b63"/><stop offset="0.156" stop-color="#bd9987"/><stop offset="0.163" stop-color="#b5a59c"/><stop offset="0.170" stop-color="#aeaaa8"/><stop offset="0.199" stop-color="#9fa8b7"/><stop offset="0.248" stop-color="#879cc4"/><stop offset="0.277" stop-color="#859bc4"/><stop offset="0.348" stop-color="#93a3bf"/><stop offset="0.369" stop-color="#9fa8b7"/><stop offset="0.376" stop-color="#a6aab2"/><stop offset="0.383" stop-color="#afa9a6"/><stop offset="0.390" stop-color="#bc9c8c"/><stop offset="0.397" stop-color="#bd7860"/><stop offset="0.404" stop-color="#a84337"/><stop offset="0.411" stop-color="#931a23"/><stop offset="0.418" stop-color="#8c031d"/><stop offset="0.433" stop-color="#8c031d"/><stop offset="0.440" stop-color="#8d061e"/><stop offset="0.447" stop-color="#952025"/><stop offset="0.454" stop-color="#a0362e"/><stop offset="0.461" stop-color="#aa4639"/><stop offset="0.468" stop-color="#af5241"/><stop offset="0.475" stop-color="#b25845"/><stop offset="0.482" stop-color="#b35a46"/><stop offset="0.489" stop-color="#b25745"/><stop offset="0.504" stop-color="#ad4d3d"/><stop offset="0.816" stop-color="#af5140"/><stop offset="1.000" stop-color="#b35b47"/></linearGradient><linearGradient id="fa30" x1="2" x2="284.5" y1="0" y2="0" gradientUnits="userSpaceOnUse"><stop offset="0.000" stop-color="#bf937f"/><stop offset="0.085" stop-color="#be9684"/><stop offset="0.092" stop-color="#bf937f"/><stop offset="0.099" stop-color="#bf8973"/><stop offset="0.106" stop-color="#bc7159"/><stop offset="0.113" stop-color="#a74135"/><stop offset="0.121" stop-color="#8c031d"/><stop offset="0.135" stop-color="#8c031d"/><stop offset="0.142" stop-color="#9d302b"/><stop offset="0.149" stop-color="#ba6b54"/><stop offset="0.156" stop-color="#bf8e78"/><stop offset="0.163" stop-color="#bb9d8e"/><stop offset="0.170" stop-color="#b7a499"/><stop offset="0.199" stop-color="#a9abae"/><stop offset="0.234" stop-color="#97a5bd"/><stop offset="0.262" stop-color="#8ea1c1"/><stop offset="0.333" stop-color="#9aa6bb"/><stop offset="0.362" stop-color="#a5aab2"/><stop offset="0.369" stop-color="#aaabad"/><stop offset="0.376" stop-color="#b0a8a4"/><stop offset="0.383" stop-color="#b9a093"/><stop offset="0.390" stop-color="#bf8b75"/><stop offset="0.397" stop-color="#b7634d"/><stop offset="0.404" stop-color="#a1372f"/><stop offset="0.411" stop-color="#901221"/><stop offset="0.418" stop-color="#8c031d"/><stop offset="0.440" stop-color="#8c041e"/><stop offset="0.454" stop-color="#9c2c2a"/><stop offset="0.461" stop-color="#a33a31"/><stop offset="0.475" stop-color="#a94538"/><stop offset="0.823" stop-color="#ad4c3d"/><stop offset="1.000" stop-color="#b15744"/></linearGradient><linearGradient id="fa31" x1="2" x2="284.5" y1="0" y2="0" gradientUnits="userSpaceOnUse"><stop offset="0.000" stop-color="#bf8871"/><stop offset="0.085" stop-color="#bf8c77"/><stop offset="0.092" stop-color="#bf8972"/><stop offset="0.099" stop-color="#bf7e66"/><stop offset="0.106" stop-color="#b8644e"/><stop offset="0.113" stop-color="#a0342e"/><stop offset="0.121" stop-color="#8c031d"/><stop offset="0.135" stop-color="#8c031d"/><stop offset="0.142" stop-color="#962125"/><stop offset="0.149" stop-color="#b55e4a"/><stop offset="0.156" stop-color="#bf836b"/><stop offset="0.163" stop-color="#bf9480"/><stop offset="0.170" stop-color="#bc9c8c"/><stop offset="0.206" stop-color="#afa9a6"/><stop offset="0.227" stop-color="#a5aab2"/><stop offset="0.255" stop-color="#9aa7bb"/><stop offset="0.284" stop-color="#9ba7ba"/><stop offset="0.348" stop-color="#aaabad"/><stop offset="0.369" stop-color="#b4a59d"/><stop offset="0.376" stop-color="#ba9f92"/><stop offset="0.383" stop-color="#bf927e"/><stop offset="0.390" stop-color="#bd7860"/><stop offset="0.397" stop-color="#ae503f"/><stop offset="0.404" stop-color="#9b2b29"/><stop offset="0.411" stop-color="#8e0a1f"/><stop offset="0.418" stop-color="#8c031d"/><stop offset="0.440" stop-color="#8c031d"/><stop offset="0.454" stop-color="#992728"/><stop offset="0.461" stop-color="#9f342e"/><stop offset="0.475" stop-color="#a64034"/><stop offset="0.539" stop-color="#a84337"/><stop offset="0.830" stop-color="#ab493b"/><stop offset="1.000" stop-color="#b05342"/></linearGradient><linearGradient id="fa32" x1="2" x2="284.5" y1="0" y2="0" gradientUnits="userSpaceOnUse"><stop offset="0.000" stop-color="#bf7e66"/><stop offset="0.085" stop-color="#bf836c"/><stop offset="0.092" stop-color="#bf7f67"/><stop offset="0.099" stop-color="#bc745d"/><stop offset="0.106" stop-color="#b45b48"/><stop offset="0.113" stop-color="#9d2f2b"/><stop offset="0.121" stop-color="#8c031d"/><stop offset="0.135" stop-color="#8c031d"/><stop offset="0.142" stop-color="#941b24"/><stop offset="0.149" stop-color="#b15644"/><stop offset="0.156" stop-color="#be7961"/><stop offset="0.163" stop-color="#bf8b75"/><stop offset="0.177" stop-color="#be9887"/><stop offset="0.220" stop-color="#b1a8a3"/><stop offset="0.241" stop-color="#a8abaf"/><stop offset="0.270" stop-color="#a4a9b3"/><stop offset="0.319" stop-color="#aeaaa8"/><stop offset="0.355" stop-color="#b7a499"/><stop offset="0.369" stop-color="#bc9c8c"/><stop offset="0.376" stop-color="#bf937e"/><stop offset="0.383" stop-color="#bf8169"/><stop offset="0.390" stop-color="#b7644e"/><stop offset="0.397" stop-color="#a64035"/><stop offset="0.404" stop-color="#962125"/><stop offset="0.411" stop-color="#8c031d"/><stop offset="0.440" stop-color="#8c031d"/><stop offset="0.447" stop-color="#901021"/><stop offset="0.454" stop-color="#972326"/><stop offset="0.461" stop-color="#9d2f2b"/><stop offset="0.475" stop-color="#a33b32"/><stop offset="0.511" stop-color="#a64034"/><stop offset="0.830" stop-color="#aa4639"/><stop offset="1.000" stop-color="#af5140"/></linearGradient><linearGradient id="fa33" x1="2" x2="284.5" y1="0" y2="0" gradientUnits="userSpaceOnUse"><stop offset="0.000" stop-color="#bc745c"/><stop offset="0.085" stop-color="#be7a62"/><stop offset="0.092" stop-color="#bd765e"/><stop offset="0.099" stop-color="#ba6b54"/><stop offset="0.106" stop-color="#b05442"/><stop offset="0.113" stop-color="#9b2c2a"/><stop offset="0.121" stop-color="#8c031d"/><stop offset="0.135" stop-color="#8c031d"/><stop offset="0.142" stop-color="#941c24"/><stop offset="0.149" stop-color="#ae503f"/><stop offset="0.156" stop-color="#bb7058"/><stop offset="0.163" stop-color="#bf816a"/><stop offset="0.170" stop-color="#bf8a74"/><stop offset="0.213" stop-color="#ba9f90"/><stop offset="0.248" stop-color="#b0a8a3"/><stop offset="0.277" stop-color="#afa9a6"/><stop offset="0.348" stop-color="#bc9b8b"/><stop offset="0.362" stop-color="#bf9581"/><stop offset="0.369" stop-color="#bf8e79"/><stop offset="0.376" stop-color="#bf826b"/><stop offset="0.383" stop-color="#bb6e57"/><stop offset="0.397" stop-color="#9e322c"/><stop offset="0.404" stop-color="#911321"/><stop offset="0.411" stop-color="#8c031d"/><stop offset="0.440" stop-color="#8c031d"/><stop offset="0.447" stop-color="#8e0c20"/><stop offset="0.454" stop-color="#941e24"/><stop offset="0.468" stop-color="#9e322c"/><stop offset="0.489" stop-color="#a33b31"/><stop offset="0.844" stop-color="#a94538"/><stop offset="1.000" stop-color="#ae4e3e"/></linearGradient><linearGradient id="fa34" x1="2" x2="284.5" y1="0" y2="0" gradientUnits="userSpaceOnUse"><stop offset="0.000" stop-color="#ba6b54"/><stop offset="0.064" stop-color="#bc7159"/><stop offset="0.085" stop-color="#bc715a"/><stop offset="0.092" stop-color="#bb6d56"/><stop offset="0.099" stop-color="#b7634d"/><stop offset="0.106" stop-color="#ae4f3f"/><stop offset="0.113" stop-color="#9c2e2a"/><stop offset="0.121" stop-color="#8c031d"/><stop offset="0.135" stop-color="#8c031d"/><stop offset="0.142" stop-color="#972226"/><stop offset="0.149" stop-color="#ad4c3d"/><stop offset="0.156" stop-color="#b96852"/><stop offset="0.163" stop-color="#bd7961"/><stop offset="0.177" stop-color="#bf8770"/><stop offset="0.234" stop-color="#bb9e8f"/><stop offset="0.262" stop-color="#b8a297"/><stop offset="0.298" stop-color="#bb9e90"/><stop offset="0.355" stop-color="#bf8d77"/><stop offset="0.369" stop-color="#bf8068"/><stop offset="0.376" stop-color="#bc725a"/><stop offset="0.383" stop-color="#b45c48"/><stop offset="0.390" stop-color="#a74135"/><stop offset="0.397" stop-color="#982627"/><stop offset="0.404" stop-color="#8d091f"/><stop offset="0.411" stop-color="#8c031d"/><stop offset="0.447" stop-color="#8c031d"/><stop offset="0.461" stop-color="#951f24"/><stop offset="0.475" stop-color="#9d2f2b"/><stop offset="0.496" stop-color="#a1372f"/><stop offset="0.851" stop-color="#a74236"/><stop offset="1.000" stop-color="#ad4c3d"/></linearGradient><linearGradient id="fa35" x1="2" x2="284.5" y1="0" y2="0" gradientUnits="userSpaceOnUse"><stop offset="0.000" stop-color="#b86751"/><stop offset="0.064" stop-color="#ba6c55"/><stop offset="0.085" stop-color="#bb6d55"/><stop offset="0.092" stop-color="#b96952"/><stop offset="0.099" stop-color="#b6604b"/><stop offset="0.106" stop-color="#ae4e3e"/><stop offset="0.113" stop-color="#9f342e"/><stop offset="0.121" stop-color="#8e0b1f"/><stop offset="0.128" stop-color="#8c031d"/><stop offset="0.135" stop-color="#8c031d"/><stop offset="0.142" stop-color="#9c2d2a"/><stop offset="0.149" stop-color="#ad4d3d"/><stop offset="0.156" stop-color="#b8654f"/><stop offset="0.163" stop-color="#bc735c"/><stop offset="0.177" stop-color="#bf8169"/><stop offset="0.241" stop-color="#be9886"/><stop offset="0.270" stop-color="#bc9b8a"/><stop offset="0.305" stop-color="#bf9481"/><stop offset="0.355" stop-color="#bf836b"/><stop offset="0.369" stop-color="#bc735c"/><stop offset="0.376" stop-color="#b7644e"/><stop offset="0.390" stop-color="#a0362f"/><stop offset="0.397" stop-color="#941d24"/><stop offset="0.404" stop-color="#8c031d"/><stop offset="0.447" stop-color="#8c031d"/><stop offset="0.454" stop-color="#8c061e"/><stop offset="0.468" stop-color="#951f25"/><stop offset="0.489" stop-color="#9d302b"/><stop offset="0.539" stop-color="#a0362f"/><stop offset="0.816" stop-color="#a53d33"/><stop offset="1.000" stop-color="#ab493b"/></linearGradient><linearGradient id="fa36" x1="2" x2="284.5" y1="0" y2="0" gradientUnits="userSpaceOnUse"><stop offset="0.000" stop-color="#b7634d"/><stop offset="0.085" stop-color="#b96851"/><stop offset="0.092" stop-color="#b8644e"/><stop offset="0.099" stop-color="#b45c48"/><stop offset="0.106" stop-color="#ad4d3e"/><stop offset="0.121" stop-color="#952025"/><stop offset="0.128" stop-color="#8e0b1f"/><stop offset="0.135" stop-color="#921823"/><stop offset="0.142" stop-color="#9f342e"/><stop offset="0.149" stop-color="#ad4d3d"/><stop offset="0.156" stop-color="#b6614c"/><stop offset="0.163" stop-color="#bb6e57"/><stop offset="0.177" stop-color="#be7b63"/><stop offset="0.241" stop-color="#bf907b"/><stop offset="0.277" stop-color="#bf927e"/><stop offset="0.340" stop-color="#bf8169"/><stop offset="0.362" stop-color="#bc725b"/><stop offset="0.369" stop-color="#b96751"/><stop offset="0.376" stop-color="#b25745"/><stop offset="0.390" stop-color="#9b2c2a"/><stop offset="0.397" stop-color="#911221"/><stop offset="0.404" stop-color="#8c031d"/><stop offset="0.454" stop-color="#8c031d"/><stop offset="0.461" stop-color="#8d091f"/><stop offset="0.475" stop-color="#951f24"/><stop offset="0.496" stop-color="#9c2d2a"/><stop offset="0.539" stop-color="#9f332d"/><stop offset="0.837" stop-color="#a43c32"/><stop offset="1.000" stop-color="#aa4639"/></linearGradient><linearGradient id="fa37" x1="2" x2="284.5" y1="0" y2="0" gradientUnits="userSpaceOnUse"><stop offset="0.000" stop-color="#b6604b"/><stop offset="0.085" stop-color="#b7644e"/><stop offset="0.099" stop-color="#b25946"/><stop offset="0.113" stop-color="#a43b32"/><stop offset="0.121" stop-color="#9a2929"/><stop offset="0.128" stop-color="#951f24"/><stop offset="0.135" stop-color="#982627"/><stop offset="0.149" stop-color="#ad4c3d"/><stop offset="0.156" stop-color="#b55e49"/><stop offset="0.163" stop-color="#b96953"/><stop offset="0.177" stop-color="#bd755d"/><stop offset="0.241" stop-color="#bf8972"/><stop offset="0.277" stop-color="#bf8a74"/><stop offset="0.333" stop-color="#be7c64"/><stop offset="0.355" stop-color="#bb7059"/><stop offset="0.362" stop-color="#b96852"/><stop offset="0.369" stop-color="#b45d48"/><stop offset="0.383" stop-color="#a23930"/><stop offset="0.397" stop-color="#8e0b1f"/><stop offset="0.404" stop-color="#8c031d"/><stop offset="0.461" stop-color="#8c031d"/><stop offset="0.482" stop-color="#941e24"/><stop offset="0.504" stop-color="#9a2a29"/><stop offset="0.553" stop-color="#9d302c"/><stop offset="0.844" stop-color="#a33a31"/><stop offset="1.000" stop-color="#a84337"/></linearGradient><linearGradient id="fa38" x1="2" x2="284.5" y1="0" y2="0" gradientUnits="userSpaceOnUse"><stop offset="0.000" stop-color="#b45d48"/><stop offset="0.085" stop-color="#b6604b"/><stop offset="0.099" stop-color="#b15543"/><stop offset="0.121" stop-color="#9d2f2b"/><stop offset="0.128" stop-color="#992728"/><stop offset="0.135" stop-color="#9c2d2a"/><stop offset="0.149" stop-color="#ac4b3c"/><stop offset="0.156" stop-color="#b35a47"/><stop offset="0.170" stop-color="#ba6c55"/><stop offset="0.206" stop-color="#be7961"/><stop offset="0.255" stop-color="#bf836c"/><stop offset="0.298" stop-color="#bf7f67"/><stop offset="0.340" stop-color="#bc725a"/><stop offset="0.355" stop-color="#b96851"/><stop offset="0.369" stop-color="#b05241"/><stop offset="0.383" stop-color="#9e312c"/><stop offset="0.397" stop-color="#8c051e"/><stop offset="0.440" stop-color="#8c031d"/><stop offset="0.468" stop-color="#8c031d"/><stop offset="0.489" stop-color="#941c24"/><stop offset="0.511" stop-color="#992728"/><stop offset="0.574" stop-color="#9c2e2a"/><stop offset="0.858" stop-color="#a23830"/><stop offset="1.000" stop-color="#a74135"/></linearGradient><linearGradient id="fa39" x1="2" x2="284.5" y1="0" y2="0" gradientUnits="userSpaceOnUse"><stop offset="0.000" stop-color="#b35946"/><stop offset="0.085" stop-color="#b45b48"/><stop offset="0.099" stop-color="#af5241"/><stop offset="0.121" stop-color="#9e322c"/><stop offset="0.128" stop-color="#9b2c2a"/><stop offset="0.135" stop-color="#9e312c"/><stop offset="0.156" stop-color="#b15644"/><stop offset="0.170" stop-color="#b86750"/><stop offset="0.206" stop-color="#bc745c"/><stop offset="0.262" stop-color="#bf7d65"/><stop offset="0.312" stop-color="#bd765e"/><stop offset="0.340" stop-color="#ba6b54"/><stop offset="0.355" stop-color="#b6604b"/><stop offset="0.369" stop-color="#ab493b"/><stop offset="0.383" stop-color="#9a2928"/><stop offset="0.397" stop-color="#8c031d"/><stop offset="0.475" stop-color="#8c041e"/><stop offset="0.504" stop-color="#951f24"/><stop offset="0.546" stop-color="#9a2828"/><stop offset="0.887" stop-color="#a13830"/><stop offset="1.000" stop-color="#a53e33"/></linearGradient><linearGradient id="fa40" x1="2" x2="284.5" y1="0" y2="0" gradientUnits="userSpaceOnUse"><stop offset="0.000" stop-color="#b15644"/><stop offset="0.085" stop-color="#b25744"/><stop offset="0.099" stop-color="#ae4e3e"/><stop offset="0.121" stop-color="#9f332d"/><stop offset="0.128" stop-color="#9d2f2b"/><stop offset="0.135" stop-color="#9e322d"/><stop offset="0.163" stop-color="#b45c48"/><stop offset="0.184" stop-color="#b96952"/><stop offset="0.248" stop-color="#bd7860"/><stop offset="0.291" stop-color="#bd765e"/><stop offset="0.333" stop-color="#b96852"/><stop offset="0.355" stop-color="#b25845"/><stop offset="0.369" stop-color="#a74236"/><stop offset="0.383" stop-color="#972226"/><stop offset="0.390" stop-color="#8f0e20"/><stop offset="0.397" stop-color="#8c031d"/><stop offset="0.482" stop-color="#8c041e"/><stop offset="0.511" stop-color="#931b23"/><stop offset="0.539" stop-color="#972426"/><stop offset="0.922" stop-color="#a1372f"/><stop offset="1.000" stop-color="#a43c32"/></linearGradient><linearGradient id="fa41" x1="2" x2="284.5" y1="0" y2="0" gradientUnits="userSpaceOnUse"><stop offset="0.000" stop-color="#b25744"/><stop offset="0.085" stop-color="#b25745"/><stop offset="0.099" stop-color="#ae4f3f"/><stop offset="0.121" stop-color="#a23930"/><stop offset="0.128" stop-color="#a0352e"/><stop offset="0.135" stop-color="#a23830"/><stop offset="0.163" stop-color="#b45c48"/><stop offset="0.184" stop-color="#b96851"/><stop offset="0.248" stop-color="#bd775f"/><stop offset="0.291" stop-color="#bc755d"/><stop offset="0.333" stop-color="#b96751"/><stop offset="0.355" stop-color="#b15644"/><stop offset="0.369" stop-color="#a64035"/><stop offset="0.383" stop-color="#972326"/><stop offset="0.390" stop-color="#8f0f20"/><stop offset="0.397" stop-color="#8c031d"/><stop offset="0.482" stop-color="#8c031d"/><stop offset="0.496" stop-color="#8e0b1f"/><stop offset="0.525" stop-color="#941d24"/><stop offset="0.574" stop-color="#972426"/><stop offset="0.851" stop-color="#9d302b"/><stop offset="1.000" stop-color="#a23930"/></linearGradient><linearGradient id="fa42" x1="2" x2="284.5" y1="0" y2="0" gradientUnits="userSpaceOnUse"><stop offset="0.000" stop-color="#b25745"/><stop offset="0.085" stop-color="#b25745"/><stop offset="0.106" stop-color="#ac4a3c"/><stop offset="0.121" stop-color="#a53d33"/><stop offset="0.128" stop-color="#a33b31"/><stop offset="0.142" stop-color="#a84437"/><stop offset="0.163" stop-color="#b45c48"/><stop offset="0.191" stop-color="#b96a53"/><stop offset="0.255" stop-color="#bd775f"/><stop offset="0.298" stop-color="#bc735b"/><stop offset="0.333" stop-color="#b86650"/><stop offset="0.355" stop-color="#b05442"/><stop offset="0.376" stop-color="#9e322c"/><stop offset="0.390" stop-color="#901021"/><stop offset="0.397" stop-color="#8c031d"/><stop offset="0.489" stop-color="#8c031d"/><stop offset="0.539" stop-color="#941d24"/><stop offset="0.610" stop-color="#972326"/><stop offset="0.844" stop-color="#9b2c2a"/><stop offset="1.000" stop-color="#a0362f"/></linearGradient><linearGradient id="fa43" x1="2" x2="284.5" y1="0" y2="0" gradientUnits="userSpaceOnUse"><stop offset="0.000" stop-color="#b25745"/><stop offset="0.085" stop-color="#b25744"/><stop offset="0.106" stop-color="#ad4c3d"/><stop offset="0.121" stop-color="#a74135"/><stop offset="0.135" stop-color="#a74135"/><stop offset="0.170" stop-color="#b6614b"/><stop offset="0.234" stop-color="#bc745c"/><stop offset="0.277" stop-color="#bd765e"/><stop offset="0.319" stop-color="#ba6b54"/><stop offset="0.348" stop-color="#b35a47"/><stop offset="0.369" stop-color="#a53e33"/><stop offset="0.383" stop-color="#972326"/><stop offset="0.397" stop-color="#8c031d"/><stop offset="0.496" stop-color="#8c031d"/><stop offset="0.546" stop-color="#931a23"/><stop offset="0.596" stop-color="#962125"/><stop offset="0.887" stop-color="#9b2c2a"/><stop offset="1.000" stop-color="#9f332d"/></linearGradient><linearGradient id="fa44" x1="2" x2="284.5" y1="0" y2="0" gradientUnits="userSpaceOnUse"><stop offset="0.000" stop-color="#b25744"/><stop offset="0.085" stop-color="#b15744"/><stop offset="0.106" stop-color="#ad4d3e"/><stop offset="0.128" stop-color="#a84337"/><stop offset="0.142" stop-color="#ac4a3b"/><stop offset="0.170" stop-color="#b6604b"/><stop offset="0.234" stop-color="#bc745c"/><stop offset="0.277" stop-color="#bd765e"/><stop offset="0.319" stop-color="#ba6a54"/><stop offset="0.348" stop-color="#b25946"/><stop offset="0.369" stop-color="#a43d32"/><stop offset="0.383" stop-color="#972326"/><stop offset="0.397" stop-color="#8c031d"/><stop offset="0.504" stop-color="#8c031d"/><stop offset="0.553" stop-color="#921823"/><stop offset="0.617" stop-color="#952025"/><stop offset="0.936" stop-color="#9b2c2a"/><stop offset="1.000" stop-color="#9d302b"/></linearGradient><linearGradient id="fa45" x1="2" x2="284.5" y1="0" y2="0" gradientUnits="userSpaceOnUse"><stop offset="0.000" stop-color="#b15644"/><stop offset="0.092" stop-color="#b05443"/><stop offset="0.128" stop-color="#aa4639"/><stop offset="0.142" stop-color="#ad4c3d"/><stop offset="0.170" stop-color="#b6604b"/><stop offset="0.241" stop-color="#bc745d"/><stop offset="0.284" stop-color="#bc745c"/><stop offset="0.326" stop-color="#b86650"/><stop offset="0.348" stop-color="#b25744"/><stop offset="0.369" stop-color="#a43c32"/><stop offset="0.383" stop-color="#972326"/><stop offset="0.397" stop-color="#8c041e"/><stop offset="0.518" stop-color="#8c051e"/><stop offset="0.560" stop-color="#921522"/><stop offset="0.645" stop-color="#951e24"/><stop offset="1.000" stop-color="#9c2d2a"/></linearGradient><linearGradient id="fa46" x1="2" x2="284.5" y1="0" y2="0" gradientUnits="userSpaceOnUse"><stop offset="0.000" stop-color="#b15643"/><stop offset="0.092" stop-color="#b05442"/><stop offset="0.128" stop-color="#ab493b"/><stop offset="0.149" stop-color="#b05341"/><stop offset="0.184" stop-color="#b8644e"/><stop offset="0.248" stop-color="#bc755d"/><stop offset="0.291" stop-color="#bc725a"/><stop offset="0.326" stop-color="#b8654f"/><stop offset="0.348" stop-color="#b15543"/><stop offset="0.369" stop-color="#a33a31"/><stop offset="0.383" stop-color="#962226"/><stop offset="0.397" stop-color="#8c041e"/><stop offset="0.525" stop-color="#8c041e"/><stop offset="0.574" stop-color="#911422"/><stop offset="0.688" stop-color="#941d24"/><stop offset="1.000" stop-color="#9a2a29"/></linearGradient><linearGradient id="fa47" x1="2" x2="284.5" y1="0" y2="0" gradientUnits="userSpaceOnUse"><stop offset="0.000" stop-color="#b05443"/><stop offset="0.092" stop-color="#b05342"/><stop offset="0.128" stop-color="#ac4b3c"/><stop offset="0.156" stop-color="#b25845"/><stop offset="0.227" stop-color="#bb7059"/><stop offset="0.270" stop-color="#bc745c"/><stop offset="0.312" stop-color="#ba6a53"/><stop offset="0.340" stop-color="#b35a47"/><stop offset="0.362" stop-color="#a84337"/><stop offset="0.383" stop-color="#962226"/><stop offset="0.397" stop-color="#8c051e"/><stop offset="0.532" stop-color="#8c031e"/><stop offset="0.589" stop-color="#911321"/><stop offset="0.844" stop-color="#962125"/><stop offset="1.000" stop-color="#992828"/></linearGradient><linearGradient id="fa48" x1="2" x2="284.5" y1="0" y2="0" gradientUnits="userSpaceOnUse"><stop offset="0.000" stop-color="#b05342"/><stop offset="0.099" stop-color="#af5140"/><stop offset="0.128" stop-color="#ad4d3d"/><stop offset="0.227" stop-color="#bb6f58"/><stop offset="0.270" stop-color="#bc735c"/><stop offset="0.312" stop-color="#b96952"/><stop offset="0.340" stop-color="#b25845"/><stop offset="0.362" stop-color="#a74236"/><stop offset="0.383" stop-color="#962226"/><stop offset="0.397" stop-color="#8c061e"/><stop offset="0.426" stop-color="#8c031d"/><stop offset="0.539" stop-color="#8c031d"/><stop offset="0.603" stop-color="#901221"/><stop offset="1.000" stop-color="#982627"/></linearGradient><linearGradient id="fa49" x1="2" x2="284.5" y1="0" y2="0" gradientUnits="userSpaceOnUse"><stop offset="0.000" stop-color="#b05341"/><stop offset="0.106" stop-color="#af5040"/><stop offset="0.135" stop-color="#ae503f"/><stop offset="0.234" stop-color="#bb7059"/><stop offset="0.277" stop-color="#bc725a"/><stop offset="0.319" stop-color="#b8654f"/><stop offset="0.348" stop-color="#af5140"/><stop offset="0.369" stop-color="#a1372f"/><stop offset="0.383" stop-color="#962226"/><stop offset="0.397" stop-color="#8d061e"/><stop offset="0.411" stop-color="#8c031d"/><stop offset="0.553" stop-color="#8c041e"/><stop offset="0.617" stop-color="#901121"/><stop offset="1.000" stop-color="#972326"/></linearGradient><linearGradient id="fa50" x1="2" x2="284.5" y1="0" y2="0" gradientUnits="userSpaceOnUse"><stop offset="0.000" stop-color="#af5241"/><stop offset="0.135" stop-color="#af5140"/><stop offset="0.241" stop-color="#bc7159"/><stop offset="0.284" stop-color="#bb7059"/><stop offset="0.319" stop-color="#b8644e"/><stop offset="0.348" stop-color="#ae503f"/><stop offset="0.376" stop-color="#9c2d2a"/><stop offset="0.397" stop-color="#8d071e"/><stop offset="0.404" stop-color="#8c031d"/><stop offset="0.560" stop-color="#8c031e"/><stop offset="0.631" stop-color="#901021"/><stop offset="1.000" stop-color="#962125"/></linearGradient><linearGradient id="fa51" x1="2" x2="284.5" y1="0" y2="0" gradientUnits="userSpaceOnUse"><stop offset="0.000" stop-color="#af5241"/><stop offset="0.135" stop-color="#af5241"/><stop offset="0.241" stop-color="#bb7059"/><stop offset="0.284" stop-color="#bb7058"/><stop offset="0.319" stop-color="#b7634e"/><stop offset="0.348" stop-color="#ae4f3f"/><stop offset="0.376" stop-color="#9c2d2a"/><stop offset="0.397" stop-color="#8d081f"/><stop offset="0.404" stop-color="#8c031d"/><stop offset="0.574" stop-color="#8c041e"/><stop offset="0.660" stop-color="#901021"/><stop offset="1.000" stop-color="#951f24"/></linearGradient><linearGradient id="fa52" x1="2" x2="284.5" y1="0" y2="0" gradientUnits="userSpaceOnUse"><stop offset="0.000" stop-color="#af5241"/><stop offset="0.135" stop-color="#b05341"/><stop offset="0.248" stop-color="#bc7159"/><stop offset="0.291" stop-color="#bb6d56"/><stop offset="0.326" stop-color="#b55e4a"/><stop offset="0.355" stop-color="#aa4739"/><stop offset="0.383" stop-color="#962226"/><stop offset="0.397" stop-color="#8d091f"/><stop offset="0.404" stop-color="#8c031d"/><stop offset="0.589" stop-color="#8c051e"/><stop offset="0.688" stop-color="#8f0f20"/><stop offset="1.000" stop-color="#941b24"/></linearGradient><linearGradient id="fa53" x1="2" x2="284.5" y1="0" y2="0" gradientUnits="userSpaceOnUse"><stop offset="0.000" stop-color="#af5140"/><stop offset="0.135" stop-color="#b05342"/><stop offset="0.248" stop-color="#bb7058"/><stop offset="0.291" stop-color="#ba6c55"/><stop offset="0.326" stop-color="#b45d49"/><stop offset="0.355" stop-color="#a94639"/><stop offset="0.383" stop-color="#972226"/><stop offset="0.397" stop-color="#8e0a1f"/><stop offset="0.404" stop-color="#8c031d"/><stop offset="0.603" stop-color="#8c041e"/><stop offset="0.723" stop-color="#8f0e20"/><stop offset="1.000" stop-color="#931923"/></linearGradient><linearGradient id="fa54" x1="2" x2="284.5" y1="0" y2="0" gradientUnits="userSpaceOnUse"><stop offset="0.000" stop-color="#af5140"/><stop offset="0.135" stop-color="#b05342"/><stop offset="0.248" stop-color="#bb6f57"/><stop offset="0.291" stop-color="#ba6b54"/><stop offset="0.326" stop-color="#b45c48"/><stop offset="0.355" stop-color="#a94538"/><stop offset="0.383" stop-color="#972326"/><stop offset="0.397" stop-color="#8e0a1f"/><stop offset="0.404" stop-color="#8c031d"/><stop offset="0.624" stop-color="#8c051e"/><stop offset="0.865" stop-color="#901121"/><stop offset="1.000" stop-color="#921622"/></linearGradient><linearGradient id="fa55" x1="2" x2="284.5" y1="0" y2="0" gradientUnits="userSpaceOnUse"><stop offset="0.000" stop-color="#af5040"/><stop offset="0.135" stop-color="#b05342"/><stop offset="0.248" stop-color="#bb6e56"/><stop offset="0.291" stop-color="#ba6a53"/><stop offset="0.326" stop-color="#b35b47"/><stop offset="0.362" stop-color="#a43d32"/><stop offset="0.383" stop-color="#972326"/><stop offset="0.397" stop-color="#8e0b1f"/><stop offset="0.404" stop-color="#8c031d"/><stop offset="0.638" stop-color="#8c051e"/><stop offset="1.000" stop-color="#911422"/></linearGradient><linearGradient id="fa56" x1="2" x2="284.5" y1="0" y2="0" gradientUnits="userSpaceOnUse"><stop offset="0.000" stop-color="#ae503f"/><stop offset="0.135" stop-color="#b05341"/><stop offset="0.248" stop-color="#ba6c55"/><stop offset="0.291" stop-color="#b96952"/><stop offset="0.326" stop-color="#b35a46"/><stop offset="0.362" stop-color="#a43c32"/><stop offset="0.390" stop-color="#921722"/><stop offset="0.404" stop-color="#8c031d"/><stop offset="0.660" stop-color="#8c051e"/><stop offset="1.000" stop-color="#901121"/></linearGradient><linearGradient id="fa57" x1="2" x2="284.5" y1="0" y2="0" gradientUnits="userSpaceOnUse"><stop offset="0.000" stop-color="#ae503f"/><stop offset="0.135" stop-color="#b05241"/><stop offset="0.248" stop-color="#ba6b54"/><stop offset="0.291" stop-color="#b96751"/><stop offset="0.326" stop-color="#b25845"/><stop offset="0.362" stop-color="#a43b32"/><stop offset="0.390" stop-color="#921823"/><stop offset="0.404" stop-color="#8c031d"/><stop offset="0.681" stop-color="#8c051e"/><stop offset="1.000" stop-color="#8f0f20"/></linearGradient><linearGradient id="fa58" x1="2" x2="284.5" y1="0" y2="0" gradientUnits="userSpaceOnUse"><stop offset="0.000" stop-color="#ae4f3f"/><stop offset="0.142" stop-color="#b05342"/><stop offset="0.248" stop-color="#b96a53"/><stop offset="0.291" stop-color="#b86650"/><stop offset="0.326" stop-color="#b25744"/><stop offset="0.362" stop-color="#a33a31"/><stop offset="0.390" stop-color="#921823"/><stop offset="0.404" stop-color="#8c031d"/><stop offset="0.709" stop-color="#8c051e"/><stop offset="1.000" stop-color="#8f0d20"/></linearGradient><linearGradient id="fa59" x1="2" x2="284.5" y1="0" y2="0" gradientUnits="userSpaceOnUse"><stop offset="0.000" stop-color="#ae4f3f"/><stop offset="0.142" stop-color="#b05241"/><stop offset="0.248" stop-color="#b96852"/><stop offset="0.291" stop-color="#b8644e"/><stop offset="0.326" stop-color="#b15643"/><stop offset="0.362" stop-color="#a33a31"/><stop offset="0.390" stop-color="#921823"/><stop offset="0.404" stop-color="#8c031d"/><stop offset="0.745" stop-color="#8c051e"/><stop offset="1.000" stop-color="#8e0b1f"/></linearGradient><linearGradient id="fa60" x1="2" x2="284.5" y1="0" y2="0" gradientUnits="userSpaceOnUse"><stop offset="0.000" stop-color="#ae4e3e"/><stop offset="0.142" stop-color="#af5241"/><stop offset="0.248" stop-color="#b86650"/><stop offset="0.291" stop-color="#b7634d"/><stop offset="0.326" stop-color="#b05442"/><stop offset="0.362" stop-color="#a23930"/><stop offset="0.390" stop-color="#921823"/><stop offset="0.404" stop-color="#8c031d"/><stop offset="0.794" stop-color="#8c061e"/><stop offset="1.000" stop-color="#8e091f"/></linearGradient><linearGradient id="fa61" x1="2" x2="284.5" y1="0" y2="0" gradientUnits="userSpaceOnUse"><stop offset="0.000" stop-color="#ae4e3e"/><stop offset="0.142" stop-color="#af5140"/><stop offset="0.248" stop-color="#b8654f"/><stop offset="0.291" stop-color="#b6614c"/><stop offset="0.326" stop-color="#b05341"/><stop offset="0.362" stop-color="#a23830"/><stop offset="0.390" stop-color="#921823"/><stop offset="0.404" stop-color="#8c031e"/><stop offset="0.851" stop-color="#8c061e"/><stop offset="1.000" stop-color="#8d081f"/></linearGradient><filter id="favb" filterUnits="userSpaceOnUse" x="-18" y="-17.4" width="322.5" height="227.4"><feGaussianBlur stdDeviation="0 1.3"/></filter></defs>
<g clip-path="url(#ca)">
<g filter="url(#favb)"><rect x="-6" y="-9.4" width="298.5" height="12.5" fill="url(#fa0)"/><rect x="-6" y="2.00" width="298.5" height="4.22" fill="url(#fa0)"/><rect x="-6" y="5.02" width="298.5" height="4.22" fill="url(#fa1)"/><rect x="-6" y="8.05" width="298.5" height="4.22" fill="url(#fa2)"/><rect x="-6" y="11.07" width="298.5" height="4.22" fill="url(#fa3)"/><rect x="-6" y="14.09" width="298.5" height="4.22" fill="url(#fa4)"/><rect x="-6" y="17.11" width="298.5" height="4.22" fill="url(#fa5)"/><rect x="-6" y="20.14" width="298.5" height="4.22" fill="url(#fa6)"/><rect x="-6" y="23.16" width="298.5" height="4.22" fill="url(#fa7)"/><rect x="-6" y="26.18" width="298.5" height="4.22" fill="url(#fa8)"/><rect x="-6" y="29.20" width="298.5" height="4.22" fill="url(#fa9)"/><rect x="-6" y="32.23" width="298.5" height="4.22" fill="url(#fa10)"/><rect x="-6" y="35.25" width="298.5" height="4.22" fill="url(#fa11)"/><rect x="-6" y="38.27" width="298.5" height="4.22" fill="url(#fa12)"/><rect x="-6" y="41.29" width="298.5" height="4.22" fill="url(#fa13)"/><rect x="-6" y="44.32" width="298.5" height="4.22" fill="url(#fa14)"/><rect x="-6" y="47.34" width="298.5" height="4.22" fill="url(#fa15)"/><rect x="-6" y="50.36" width="298.5" height="4.22" fill="url(#fa16)"/><rect x="-6" y="53.38" width="298.5" height="4.22" fill="url(#fa17)"/><rect x="-6" y="56.41" width="298.5" height="4.22" fill="url(#fa18)"/><rect x="-6" y="59.43" width="298.5" height="4.22" fill="url(#fa19)"/><rect x="-6" y="62.45" width="298.5" height="4.22" fill="url(#fa20)"/><rect x="-6" y="65.47" width="298.5" height="4.22" fill="url(#fa21)"/><rect x="-6" y="68.50" width="298.5" height="4.22" fill="url(#fa22)"/><rect x="-6" y="71.52" width="298.5" height="4.22" fill="url(#fa23)"/><rect x="-6" y="74.54" width="298.5" height="4.22" fill="url(#fa24)"/><rect x="-6" y="77.56" width="298.5" height="4.22" fill="url(#fa25)"/><rect x="-6" y="80.59" width="298.5" height="4.22" fill="url(#fa26)"/><rect x="-6" y="83.61" width="298.5" height="4.22" fill="url(#fa27)"/><rect x="-6" y="86.63" width="298.5" height="4.22" fill="url(#fa28)"/><rect x="-6" y="89.65" width="298.5" height="4.22" fill="url(#fa29)"/><rect x="-6" y="92.68" width="298.5" height="4.22" fill="url(#fa30)"/><rect x="-6" y="95.70" width="298.5" height="4.22" fill="url(#fa31)"/><rect x="-6" y="98.72" width="298.5" height="4.22" fill="url(#fa32)"/><rect x="-6" y="101.75" width="298.5" height="4.22" fill="url(#fa33)"/><rect x="-6" y="104.77" width="298.5" height="4.22" fill="url(#fa34)"/><rect x="-6" y="107.79" width="298.5" height="4.22" fill="url(#fa35)"/><rect x="-6" y="110.81" width="298.5" height="4.22" fill="url(#fa36)"/><rect x="-6" y="113.84" width="298.5" height="4.22" fill="url(#fa37)"/><rect x="-6" y="116.86" width="298.5" height="4.22" fill="url(#fa38)"/><rect x="-6" y="119.88" width="298.5" height="4.22" fill="url(#fa39)"/><rect x="-6" y="122.90" width="298.5" height="4.22" fill="url(#fa40)"/><rect x="-6" y="125.93" width="298.5" height="4.22" fill="url(#fa41)"/><rect x="-6" y="128.95" width="298.5" height="4.22" fill="url(#fa42)"/><rect x="-6" y="131.97" width="298.5" height="4.22" fill="url(#fa43)"/><rect x="-6" y="134.99" width="298.5" height="4.22" fill="url(#fa44)"/><rect x="-6" y="138.02" width="298.5" height="4.22" fill="url(#fa45)"/><rect x="-6" y="141.04" width="298.5" height="4.22" fill="url(#fa46)"/><rect x="-6" y="144.06" width="298.5" height="4.22" fill="url(#fa47)"/><rect x="-6" y="147.08" width="298.5" height="4.22" fill="url(#fa48)"/><rect x="-6" y="150.11" width="298.5" height="4.22" fill="url(#fa49)"/><rect x="-6" y="153.13" width="298.5" height="4.22" fill="url(#fa50)"/><rect x="-6" y="156.15" width="298.5" height="4.22" fill="url(#fa51)"/><rect x="-6" y="159.17" width="298.5" height="4.22" fill="url(#fa52)"/><rect x="-6" y="162.20" width="298.5" height="4.22" fill="url(#fa53)"/><rect x="-6" y="165.22" width="298.5" height="4.22" fill="url(#fa54)"/><rect x="-6" y="168.24" width="298.5" height="4.22" fill="url(#fa55)"/><rect x="-6" y="171.26" width="298.5" height="4.22" fill="url(#fa56)"/><rect x="-6" y="174.29" width="298.5" height="4.22" fill="url(#fa57)"/><rect x="-6" y="177.31" width="298.5" height="4.22" fill="url(#fa58)"/><rect x="-6" y="180.33" width="298.5" height="4.22" fill="url(#fa59)"/><rect x="-6" y="183.35" width="298.5" height="4.22" fill="url(#fa60)"/><rect x="-6" y="186.38" width="298.5" height="4.22" fill="url(#fa61)"/><rect x="-6" y="189.5" width="298.5" height="12.5" fill="url(#fa61)"/></g>
<path d="M42 58.5L52 59.5Q61 63 63 76L45 79Q41.5 68 42 58.5Z" fill="#d4846c" opacity="0.85" filter="url(#b2)"/>
<path d="M239.5 58.5L229 59.5Q219 63 218 76L240.5 79Z" fill="#d4846c" opacity="0.85" filter="url(#b2)"/>
<path d="M41.5 59.5Q48 64 50.5 76L45.5 77.5Q41.5 68 41.5 59.5Z" fill="#941022" filter="url(#b1)"/>
<path d="M130 59.5Q134.5 66 134 77L126.5 77Q126 66 130 59.5Z" fill="#900d1e" filter="url(#b1)"/>
<path d="M153 59.5Q148.5 66 149.5 77L157.5 77Q156.5 66 153 59.5Z" fill="#900d1e" filter="url(#b1)"/>
<path d="M239.8 59Q233.5 61 234 77.5L241 78.5Z" fill="#941022" filter="url(#b1)"/>
<path d="M43 79L90 81L86 84L50 85.2Z" fill="#3d52a8" opacity="0.85" filter="url(#b2)"/>
<path d="M43 79.2L70 80.8L66 84L48 84.6Z" fill="#2e3b95" filter="url(#b1)"/>
<path d="M123 77.8L153.5 78L150 80.6L136 82.2L127 81.5Z" fill="#3a50a8" filter="url(#b1)"/><path d="M123 78L140 78.2L134 81.8L127 81.2Z" fill="#2e3b95" filter="url(#b1)"/>
<path d="M203 78.6L238 78.3L238 81.2L212 80.9Z" fill="#4560b8" filter="url(#b1)"/>
<path d="M35 55.5Q33.8 68 36.5 77L43 80.5L44.5 77.5Q40.5 68 40.8 55.5Z" fill="#2e3b95" filter="url(#b05)"/>
<path d="M125 55.5Q116.5 66 119.5 77L125.5 80L126.5 76.5Q124 66 130 56.5Z" fill="#2e3b95" filter="url(#b05)"/>
<path d="M153.5 56.5Q158.5 66 157.5 77.5L164 79Q165.5 66 159 55.5Z" fill="#2e3b95" filter="url(#b05)"/>
<path d="M239.8 56Q240.3 68 241.2 79.2L248 79Q247 66 244.7 56Z" fill="#2e3b95" filter="url(#b05)"/>
<path d="M157.5 79.8L167 78L167 80L160 82Z" fill="#a51625" filter="url(#b05)"/>
<path d="M241 81.5L249.5 78.5L249.5 80.3L244 82.5Z" fill="#a51625" filter="url(#b05)"/>
<path d="M33 60Q31.5 66 34 74" stroke="#dcc3c0" stroke-opacity="0.75" stroke-width="1.6" fill="none" filter="url(#b05)"/>
<path d="M122 61Q117 67 118.6 76" stroke="#dcc8c6" stroke-opacity="0.7" stroke-width="1.4" fill="none" filter="url(#b05)"/>
<path d="M161.8 61Q165.8 68 165.2 76" stroke="#dcc8c6" stroke-opacity="0.7" stroke-width="1.4" fill="none" filter="url(#b05)"/>
<path d="M248 60Q250 66 249.5 75" stroke="#dcc3c0" stroke-opacity="0.75" stroke-width="1.6" fill="none" filter="url(#b05)"/>
<line x1="141.75" x2="141.75" y1="78.35" y2="190" stroke="#0a0a0a" stroke-width="2.1" stroke-dasharray="2 1.95"/>
</g>
<rect x="294.7" y="38.9" width="6.1" height="111.4" fill="url(#cwv)"/>
<line x1="300.8" x2="307.7" y1="38.9" y2="38.9" stroke="#333" stroke-width="0.8"/>
<text x="312.5" y="43.3" class="cb">3.0</text>
<line x1="300.8" x2="307.7" y1="57.5" y2="57.5" stroke="#333" stroke-width="0.8"/>
<text x="312.5" y="61.9" class="cb">2</text>
<line x1="300.8" x2="307.7" y1="76.0" y2="76.0" stroke="#333" stroke-width="0.8"/>
<text x="312.5" y="80.4" class="cb">1</text>
<line x1="300.8" x2="307.7" y1="94.6" y2="94.6" stroke="#333" stroke-width="0.8"/>
<text x="312.5" y="99.0" class="cb">0</text>
<line x1="300.8" x2="307.7" y1="113.2" y2="113.2" stroke="#333" stroke-width="0.8"/>
<text x="312.5" y="117.6" class="cb">-1</text>
<line x1="300.8" x2="307.7" y1="131.8" y2="131.8" stroke="#333" stroke-width="0.8"/>
<text x="312.5" y="136.2" class="cb">-2</text>
<line x1="300.8" x2="307.7" y1="150.3" y2="150.3" stroke="#333" stroke-width="0.8"/>
<text x="312.5" y="154.7" class="cb">-3.0</text>
<defs>
<clipPath id="cc"><rect x="2.0" y="289.3" width="282.7" height="188.7"/></clipPath>
<clipPath id="ccl"><rect x="2.0" y="364.5" width="282.7" height="113.5"/></clipPath>
<clipPath id="ccb"><rect x="2.0" y="344.8" width="282.7" height="19.7"/></clipPath>
<linearGradient id="bandg" x1="0" y1="345.0" x2="0" y2="364.5" gradientUnits="userSpaceOnUse">
<stop offset="0" stop-color="#aeaaa4"/><stop offset="0.1" stop-color="#cc7d64"/><stop offset="0.3" stop-color="#c25540"/><stop offset="0.7" stop-color="#b2362b"/><stop offset="1" stop-color="#a82a26"/>
</linearGradient>
<linearGradient id="fadeg" x1="0" y1="344.4" x2="0" y2="347.6" gradientUnits="userSpaceOnUse">
<stop offset="0" stop-color="#abaaa6" stop-opacity="1"/><stop offset="0.4" stop-color="#b0b2bd" stop-opacity="0.7"/><stop offset="1" stop-color="#b8bccb" stop-opacity="0"/>
</linearGradient>
<radialGradient id="srcg" cx="142.4" cy="364.2" r="30" gradientUnits="userSpaceOnUse">
<stop offset="0" stop-color="#ecb59c" stop-opacity="1"/><stop offset="0.45" stop-color="#e09a80" stop-opacity="0.9"/><stop offset="1" stop-color="#d4765c" stop-opacity="0"/>
</radialGradient>
<radialGradient id="glow" cx="140" cy="324" r="21" gradientUnits="userSpaceOnUse">
<stop offset="0" stop-color="#c9ac98" stop-opacity="0.6"/><stop offset="0.6" stop-color="#c2ae9f" stop-opacity="0.4"/><stop offset="1" stop-color="#abaaa6" stop-opacity="0"/>
</radialGradient>
</defs>
<g clip-path="url(#cc)">
<rect x="0" y="287.3" width="290" height="60.69999999999999" fill="#abaaa6"/>
<circle cx="140" cy="324" r="21" fill="url(#glow)"/>
<ellipse cx="232" cy="332" rx="38" ry="17" fill="none" stroke="#bcb8ae" stroke-width="3" opacity="0.6" filter="url(#b2)"/>
<rect x="0" y="345.0" width="290" height="19.5" fill="url(#bandg)"/>
<g clip-path="url(#ccb)"><circle cx="142.4" cy="364.2" r="30" fill="url(#srcg)"/>
<path d="M6.0 342.0L8.9 342.0L8.1 347.6L7.4 354.4L7.2 360.4L7.1 366.0L4.1 366.0L4.4 354.8L5.2 347.2L5.9 342.0ZM17.2 342.0L20.2 342.0L19.3 347.6L18.6 354.0L18.3 360.0L18.2 366.0L15.2 366.0L15.3 360.4L15.6 354.1L16.4 346.8L17.2 342.0ZM28.4 342.2L28.4 342.0L31.5 342.0L30.6 347.2L29.8 353.6L29.4 359.6L29.3 366.0L26.3 366.0L26.4 359.3L26.8 353.4L27.6 346.9L28.4 342.4ZM40.0 342.0L42.8 342.0L41.8 347.6L40.9 353.6L40.5 359.6L40.4 366.0L37.4 366.0L37.5 359.2L38.0 353.2L38.8 347.1L39.8 342.0ZM51.2 342.0L54.2 342.0L53.0 347.6L52.1 353.6L51.6 359.6L51.5 366.0L48.5 366.0L48.5 365.6L48.6 359.2L49.2 352.8L50.0 347.5L51.2 342.0ZM62.8 342.0L65.7 342.0L64.3 348.0L63.3 353.6L62.7 360.0L62.6 366.0L59.6 366.0L59.6 364.0L59.8 358.4L60.4 352.7L61.2 348.0L62.6 342.0ZM74.4 342.0L77.4 342.0L75.7 347.6L74.5 353.6L73.8 360.0L73.7 366.0L70.7 366.0L70.7 362.8L71.0 358.0L71.6 352.8L72.8 346.9L74.2 342.0ZM86.0 342.0L89.3 342.0L87.4 347.2L85.8 353.6L85.0 359.6L84.9 366.0L81.8 366.0L81.8 361.2L82.4 355.6L83.2 351.1L84.4 346.5L86.0 342.0ZM98.0 342.1L101.7 342.0L99.1 347.6L97.4 353.2L96.3 359.6L96.1 366.0L92.8 366.0L92.9 360.8L93.5 356.0L94.4 351.6L96.0 346.6L97.8 342.4ZM110.8 342.0L115.3 342.0L113.5 344.4L111.7 347.2L110.2 350.4L109.1 353.2L108.2 356.4L107.7 359.2L107.4 362.4L107.4 366.0L103.8 366.0L103.8 362.8L104.1 359.2L104.8 355.1L106.4 350.1L108.4 345.8L110.7 342.0ZM125.6 342.1L125.8 342.0L133.8 342.0L130.0 343.9L127.2 345.8L124.6 348.4L122.2 351.6L120.5 354.8L119.3 358.4L118.7 362.0L118.6 366.0L114.7 366.0L114.8 361.4L115.6 357.1L117.2 352.6L119.2 349.0L122.0 345.4L125.3 342.4ZM151.2 342.0L159.0 342.0L161.6 344.2L164.0 346.8L166.8 351.0L168.8 355.7L169.5 358.4L169.9 360.8L170.1 363.2L170.1 366.0L166.2 366.0L166.1 361.6L165.7 359.2L165.1 356.8L163.3 352.8L160.9 349.2L158.8 346.9L156.4 344.9L154.0 343.4L151.0 342.0ZM169.6 342.0L174.1 342.0L175.6 344.4L177.2 347.3L179.2 352.3L180.4 356.8L181.0 361.2L181.0 366.0L177.4 366.0L177.4 362.4L177.1 359.2L176.6 356.4L175.7 353.2L174.6 350.4L173.1 347.2L171.3 344.4L169.5 342.0ZM183.2 342.0L186.8 342.0L188.8 346.6L190.4 351.6L191.3 355.6L191.9 360.8L192.0 366.0L188.7 366.0L188.5 359.6L187.4 353.2L185.7 347.6L183.1 342.0ZM195.6 342.0L198.8 342.0L200.4 346.5L201.6 351.1L202.4 355.6L202.9 360.8L203.0 366.0L199.9 366.0L199.8 359.6L199.0 353.6L197.4 347.2L195.5 342.0ZM207.6 342.0L210.6 342.0L211.6 345.4L212.8 350.6L213.6 355.7L214.0 361.2L214.0 366.0L211.1 366.0L211.0 360.0L210.3 353.6L209.1 347.6L207.4 342.0ZM219.2 342.0L222.2 342.0L222.8 344.4L224.0 350.1L224.8 356.0L225.1 361.2L225.2 366.0L222.2 366.0L222.1 360.0L221.5 353.6L220.5 348.0L219.1 342.0ZM230.8 342.0L233.6 342.0L234.0 343.5L235.2 349.9L235.8 354.8L236.2 360.4L236.3 366.0L233.3 366.0L233.2 359.6L232.7 353.6L231.8 347.6L230.6 342.0ZM242.0 342.0L245.0 342.0L245.2 342.8L246.4 349.7L246.9 354.0L247.3 360.0L247.4 366.0L244.4 366.0L244.3 359.6L243.9 353.6L243.0 347.6L242.0 342.0ZM253.6 342.0L256.4 342.0L256.4 342.2L257.2 346.9L258.0 353.4L258.4 359.3L258.5 366.0L255.5 366.0L255.4 359.6L255.0 353.6L254.2 347.2L253.3 342.0ZM264.8 342.0L267.6 342.0L268.4 346.8L269.2 354.1L269.5 360.4L269.6 366.0L266.6 366.0L266.5 360.0L266.2 354.0L265.5 347.6L264.6 342.0ZM276.0 342.0L278.9 342.0L279.6 347.2L280.4 354.8L280.7 366.0L277.7 366.0L277.6 360.4L277.4 354.4L276.7 347.6L275.9 342.0ZM140.8 347.6L144.4 347.6L148.0 348.5L151.2 350.0L154.2 352.4L156.5 355.2L158.1 358.4L159.0 362.0L159.1 364.0L159.0 366.0L154.9 366.0L155.0 362.8L154.2 359.6L152.7 356.8L150.8 354.7L148.8 353.3L146.8 352.3L144.8 351.8L142.4 351.5L140.0 351.8L138.0 352.3L136.0 353.3L134.0 354.7L132.1 356.8L130.6 359.6L129.8 362.8L129.9 366.0L125.8 366.0L125.7 362.8L126.3 359.6L127.6 356.4L129.2 353.9L131.4 351.6L134.3 349.6L137.2 348.3L140.4 347.6Z" fill="#2e3b95" stroke="#e0ad9a" stroke-width="1.6" stroke-opacity="0.75" paint-order="stroke" fill-rule="evenodd"/>
<path d="M136.70000000000002 365.2A5.7 5.7 0 1 1 148.1 363.7Q147.9 366.7 142.9 367.2" fill="none" stroke="#e3b9a8" stroke-width="4.8" stroke-opacity="0.8"/>
<path d="M136.70000000000002 365.2A5.7 5.7 0 1 1 148.1 363.7Q147.9 366.7 142.9 367.2" fill="none" stroke="#2e3b95" stroke-width="3.4"/>
</g>
<rect x="0" y="344.4" width="290" height="3.2" fill="url(#fadeg)"/>
<rect x="0" y="364.5" width="290" height="115.5" fill="#8c031d"/>
<g clip-path="url(#ccl)"><path d="M4.8 363.5L8.7 363.5L8.9 364.7L19.6 374.5L34.8 387.7L49.2 399.7L73.6 418.8L101.0 438.7L101.3 439.1L101.7 441.5L102.7 442.7L103.6 443.2L104.8 443.4L106.0 442.8L107.2 441.7L108.4 441.9L108.8 442.3L104.8 443.9L104.0 444.0L99.6 443.9L99.4 443.5L99.2 441.3L98.0 439.9L72.0 421.1L48.4 402.7L34.4 391.1L19.2 377.9L4.7 364.7L4.5 363.5ZM16.0 363.5L19.8 363.5L20.0 364.7L27.2 371.2L41.6 383.7L56.0 395.7L79.6 414.1L104.1 431.9L106.8 438.3L107.0 439.5L106.8 440.3L106.0 440.0L105.2 439.1L103.2 434.7L102.8 434.3L76.9 415.5L52.4 396.3L38.0 384.3L25.6 373.5L15.8 364.7L15.6 363.5ZM26.8 363.5L30.9 363.5L31.1 364.7L34.4 367.6L48.8 380.1L62.8 391.7L84.8 408.9L107.2 425.2L113.7 440.7L113.6 441.2L112.8 441.5L111.6 441.2L111.4 439.9L106.0 427.7L81.6 409.9L59.2 392.3L45.2 380.7L32.8 369.9L26.9 364.7L26.7 363.5ZM38.0 363.5L42.0 363.5L42.0 364.3L42.4 364.9L56.4 376.9L70.0 388.1L90.0 403.7L110.4 418.7L118.8 438.9L119.7 441.5L119.6 442.6L118.4 441.9L117.2 440.2L109.2 421.1L86.8 404.7L66.4 388.7L52.4 377.1L40.3 366.7L38.0 364.7L37.8 363.5ZM49.2 363.5L53.1 363.5L53.1 364.3L53.3 364.7L75.6 383.3L94.0 397.7L113.2 411.9L113.6 412.4L116.8 419.9L125.2 440.3L126.0 443.1L126.0 443.9L125.6 444.2L125.2 444.0L124.4 443.0L123.2 440.5L112.4 414.7L92.4 399.9L73.5 385.1L49.1 364.7L48.9 363.5ZM60.4 363.5L64.2 363.5L64.2 364.3L64.4 364.7L81.6 378.9L98.4 392.1L116.4 405.5L122.8 420.2L131.9 442.3L134.0 446.4L135.2 447.8L136.0 447.9L136.7 447.1L136.7 445.5L136.1 443.5L127.0 421.5L118.4 401.6L92.0 381.5L77.6 369.9L71.1 364.3L71.1 363.5L75.3 363.5L75.3 364.3L75.5 364.7L86.4 373.6L101.2 385.3L119.5 399.1L128.0 418.7L137.1 440.7L139.0 444.3L139.1 445.5L138.1 448.3L138.0 449.7L138.7 450.3L139.8 450.3L140.4 449.8L141.2 448.2L141.6 447.9L142.1 447.9L142.3 449.1L142.0 450.7L141.8 451.1L140.4 452.0L138.4 452.1L137.7 452.3L137.2 453.0L137.0 453.9L137.7 455.9L139.2 457.4L140.0 457.6L142.0 457.1L142.2 458.7L142.1 459.9L140.8 459.9L140.4 460.1L140.0 461.1L140.2 462.7L140.6 463.9L142.0 465.6L142.0 467.6L141.2 466.3L138.4 463.3L136.8 463.9L133.8 463.9L133.0 464.7L132.2 467.1L131.6 467.7L128.8 466.7L128.4 466.7L128.1 467.1L128.1 468.3L128.7 470.3L128.6 472.3L127.9 473.1L127.6 473.3L127.2 473.1L128.2 472.3L128.4 471.1L128.1 469.9L126.9 467.1L126.7 465.9L127.0 464.7L127.6 464.3L128.0 464.4L130.0 465.4L130.8 465.5L131.2 465.2L132.8 462.7L136.0 462.1L136.6 461.5L137.1 460.3L136.7 458.7L134.8 456.3L133.6 453.9L132.4 452.6L131.2 452.1L130.8 452.4L130.5 453.1L130.9 456.3L130.8 457.1L130.4 457.1L128.4 455.8L127.6 455.8L127.2 456.3L127.0 457.1L127.5 459.5L127.2 460.6L126.8 461.2L126.4 461.4L125.6 461.2L123.2 459.7L122.8 459.7L122.4 460.5L122.0 462.3L122.2 463.5L124.1 466.3L124.7 467.5L124.6 468.7L124.2 469.5L122.8 469.6L122.2 469.1L121.7 465.5L121.2 464.7L120.0 464.0L119.2 464.2L118.8 464.5L117.2 467.0L114.0 466.5L113.0 467.1L112.4 468.3L112.3 469.5L113.0 470.7L115.4 473.1L115.8 475.1L115.6 475.7L114.6 473.5L114.0 472.9L113.2 472.6L112.8 472.7L112.4 473.1L111.6 475.3L111.2 475.6L110.7 475.5L110.2 474.7L109.8 471.5L108.8 469.5L107.6 468.0L106.4 466.9L105.6 466.5L105.2 466.4L104.8 466.7L104.1 468.3L104.2 469.9L105.7 472.7L109.1 476.3L109.2 478.0L108.5 476.3L104.0 471.6L103.2 471.2L101.6 471.7L100.8 471.3L100.0 470.5L99.6 469.5L99.8 468.3L100.4 467.8L102.4 467.6L102.8 466.7L102.7 465.5L102.0 464.6L100.8 463.8L98.8 463.9L97.6 463.5L96.7 462.7L96.4 461.5L96.5 460.3L96.8 459.5L99.6 460.1L101.6 459.1L102.4 459.0L105.2 459.7L106.0 459.5L107.6 458.0L110.0 457.6L110.8 457.2L111.1 456.7L111.1 455.9L110.0 450.7L109.1 449.5L107.6 448.6L106.0 448.5L102.1 449.9L101.7 450.7L101.5 453.5L101.2 454.7L100.4 455.3L98.4 455.3L97.6 455.7L96.4 458.1L96.0 458.3L93.6 457.7L92.8 457.9L92.3 458.3L91.9 459.1L92.0 459.9L94.2 463.1L94.4 464.3L94.2 465.5L93.6 466.8L91.2 467.9L89.2 470.1L88.0 470.1L85.2 469.2L83.1 465.5L82.4 464.7L81.6 464.2L79.2 463.8L78.0 463.9L77.2 464.3L76.7 465.1L76.3 466.7L76.2 467.5L76.5 468.3L78.0 468.9L84.4 469.7L85.2 470.2L85.8 472.3L85.5 475.9L85.8 476.7L87.6 477.5L88.8 477.7L89.7 477.1L90.8 475.0L91.2 474.7L92.0 474.6L96.4 476.8L97.6 478.1L98.4 479.9L94.8 479.9L94.0 479.1L92.8 478.7L92.2 479.1L92.0 479.9L85.6 479.9L85.2 477.2L84.8 476.7L84.0 476.4L81.6 476.6L79.6 476.3L82.8 475.7L83.8 475.1L84.4 474.2L84.6 472.7L84.1 471.5L83.2 470.6L82.0 470.1L78.4 469.5L76.0 469.6L75.2 470.2L74.4 472.2L74.0 472.5L73.2 472.6L68.8 471.5L67.7 470.7L67.2 469.9L67.3 469.1L67.6 468.7L68.4 468.4L73.2 468.4L74.4 468.1L75.2 466.7L75.7 463.9L76.0 463.4L76.8 463.2L80.0 463.2L82.0 463.6L83.2 464.3L84.8 466.4L86.0 467.4L87.6 468.0L88.8 467.8L90.4 465.9L91.9 464.7L92.2 463.9L91.8 462.7L89.7 460.3L89.6 459.5L89.7 458.7L90.4 457.5L91.6 456.4L93.2 455.7L94.4 455.7L95.2 455.3L95.8 453.9L95.6 453.1L95.2 452.8L88.4 452.3L86.4 452.6L84.4 453.2L75.4 457.9L74.7 459.1L74.5 462.3L74.0 462.7L70.0 463.4L68.4 463.9L67.3 464.7L65.6 466.8L62.3 467.9L59.6 469.9L58.0 469.9L55.0 469.1L54.2 468.7L54.0 468.3L54.2 467.9L55.0 467.5L58.7 466.7L60.0 465.9L61.4 463.1L61.5 462.3L61.0 461.5L57.2 460.0L54.4 458.1L52.8 457.3L49.6 456.6L48.0 456.6L47.2 457.0L45.5 459.5L44.8 460.0L43.7 460.3L40.0 460.2L34.4 459.4L30.4 459.7L28.8 459.5L30.8 459.2L33.2 458.1L38.0 459.1L40.4 459.2L41.9 458.7L42.0 458.3L41.9 457.9L40.2 456.3L38.4 453.5L36.0 451.2L30.0 447.1L21.2 440.3L0.0 423.1L0.0 419.1L17.6 433.6L33.4 445.9L36.4 448.9L38.0 450.2L40.4 451.3L47.6 454.0L52.4 454.4L54.0 454.8L55.2 455.5L58.7 458.3L64.0 460.0L66.4 462.4L68.4 462.5L71.6 462.0L72.6 461.5L73.1 460.3L72.9 459.1L72.2 458.3L68.8 456.8L67.6 455.9L67.1 455.1L67.2 454.2L68.0 453.9L70.0 454.1L71.9 454.7L74.8 456.2L76.8 456.2L78.8 455.6L80.4 454.7L84.0 452.3L84.9 451.1L84.6 450.3L83.1 449.1L84.2 448.7L84.6 448.3L84.4 447.9L78.8 444.6L52.4 425.1L33.2 409.9L15.2 394.7L0.0 381.2L0.0 377.3L21.2 396.1L42.0 413.3L64.8 430.9L86.4 446.4L87.2 446.8L88.0 446.7L92.0 445.3L93.6 445.0L95.2 445.0L96.4 445.4L97.9 447.1L98.3 448.3L97.5 452.3L98.0 453.1L99.2 453.6L100.0 453.5L100.4 452.7L100.4 451.4L99.7 448.3L100.3 447.5L103.2 448.4L106.0 447.8L106.8 447.8L108.2 448.3L110.0 449.3L110.6 449.9L110.9 450.7L111.4 453.5L112.6 456.3L112.6 457.1L112.2 457.9L111.2 458.6L108.8 458.8L108.0 459.2L107.2 460.3L107.0 461.5L107.7 462.7L110.8 466.0L111.2 466.1L112.4 465.1L113.2 465.0L115.6 465.8L116.8 465.9L117.6 465.1L118.2 463.9L118.6 462.7L118.7 461.9L114.9 458.3L114.4 457.1L114.8 456.3L116.0 455.9L118.8 456.5L120.8 455.2L121.6 455.1L124.0 456.3L124.8 456.4L125.2 456.1L125.7 455.1L125.6 453.9L124.4 452.6L122.8 451.9L120.8 452.1L120.0 451.9L118.8 451.1L115.3 447.9L115.0 447.1L115.5 446.3L116.4 445.4L116.9 445.5L116.2 446.7L116.5 447.9L118.4 449.9L119.6 450.7L120.8 450.8L122.3 449.9L122.8 449.1L122.4 447.5L123.2 447.3L125.0 448.7L128.0 450.1L128.8 450.0L130.4 449.2L131.2 449.2L132.0 449.8L134.0 452.1L134.8 452.5L135.6 452.1L136.1 451.1L136.0 450.3L133.1 447.9L130.8 444.3L129.6 441.9L119.8 418.3L115.2 407.9L96.4 393.9L79.6 380.7L60.3 364.7L60.0 364.3L60.0 363.5ZM92.0 446.7L90.8 447.0L90.1 447.5L89.4 448.7L89.4 449.5L90.0 450.2L91.2 450.7L94.0 450.8L95.2 450.5L95.9 449.9L96.1 449.1L95.9 448.3L95.2 447.5L94.4 447.0L92.0 446.7ZM123.5 449.5L123.8 450.3L124.6 451.1L126.0 451.9L126.4 451.5L126.0 450.7L124.4 449.6L123.6 449.4ZM102.7 461.1L102.4 461.9L102.8 462.7L103.6 463.6L104.5 463.9L105.0 463.1L104.8 461.9L103.7 461.1L102.8 461.1ZM122.7 467.1L122.4 468.3L122.8 469.3L123.6 469.4L124.1 469.1L124.0 467.7L123.2 466.7L122.8 466.8ZM69.1 469.5L68.9 469.9L69.0 470.3L70.0 471.0L71.6 471.3L72.8 471.1L73.2 470.3L72.5 469.5L70.8 469.1L69.2 469.4ZM82.4 363.5L86.4 363.5L86.4 364.3L86.6 364.7L92.8 369.7L108.0 381.7L122.4 392.5L131.6 413.4L142.0 438.3L142.0 440.9L141.6 441.0L140.8 440.4L140.1 439.1L131.0 417.1L121.4 395.1L104.0 381.9L90.8 371.5L82.5 364.7L82.2 364.3L82.2 363.5ZM93.6 363.5L97.5 363.5L97.5 364.3L98.0 364.9L125.5 386.3L132.8 402.7L142.0 424.2L142.4 422.0L144.8 420.7L146.4 420.4L150.8 420.3L154.9 418.3L159.2 417.2L163.4 414.7L165.1 413.9L169.6 413.0L174.8 411.0L180.0 410.4L185.6 407.8L187.2 407.5L190.8 407.2L196.0 405.0L202.0 403.6L208.8 400.0L214.8 398.0L220.4 394.6L225.6 392.5L230.5 389.1L235.6 386.5L239.5 383.1L244.0 380.1L248.8 375.5L253.2 372.4L258.8 367.7L262.9 364.7L263.1 364.3L263.1 363.5L267.1 363.5L266.9 364.7L264.8 366.7L258.4 371.3L253.2 375.7L249.2 378.5L244.4 383.1L240.4 385.7L235.9 389.5L230.8 392.2L225.9 395.5L220.0 397.8L213.2 401.4L207.6 403.2L201.6 406.3L196.0 407.3L190.6 409.5L184.4 411.0L179.4 413.1L174.4 413.5L169.2 415.8L164.8 416.4L159.6 419.4L155.2 420.1L150.9 421.9L145.2 423.3L142.4 424.7L142.2 425.1L142.2 427.5L142.4 428.6L144.4 428.1L145.5 428.3L144.9 429.1L142.4 431.6L142.0 429.5L139.4 423.1L124.4 388.7L107.1 375.5L93.6 364.7L93.3 364.3L93.3 363.5ZM104.8 363.5L108.6 363.5L108.6 364.3L108.8 364.7L128.4 379.8L142.0 410.4L142.4 408.6L144.4 407.9L148.8 407.1L155.1 403.9L160.4 402.9L166.8 400.3L170.8 400.0L172.4 399.7L178.1 397.1L183.6 395.6L189.2 392.3L194.0 391.2L199.2 388.8L203.2 388.3L204.8 387.7L208.5 385.5L213.6 383.5L217.6 380.6L222.4 378.2L227.0 374.7L232.0 372.1L241.0 364.7L241.3 364.3L241.3 363.5L245.5 363.5L245.3 364.7L244.4 365.5L237.6 370.7L232.8 374.7L227.6 377.4L223.2 380.8L218.4 383.0L213.7 386.3L209.6 387.7L204.4 390.6L199.6 391.5L194.4 393.9L189.2 395.0L184.0 397.9L182.1 398.7L177.6 399.7L171.2 402.3L165.6 402.9L159.2 405.8L154.0 406.9L148.8 409.6L142.4 411.0L142.2 411.5L142.1 413.1L142.4 415.0L144.0 414.6L148.4 414.2L153.6 411.8L158.4 410.6L163.0 407.9L164.8 407.1L170.0 406.4L175.7 404.3L181.2 403.2L188.0 399.9L193.2 399.0L199.2 396.4L203.2 395.6L205.2 394.9L210.0 392.1L215.2 390.2L219.6 387.2L224.0 385.3L228.7 381.9L233.2 379.7L237.3 376.3L243.2 372.1L248.4 367.0L251.2 364.7L251.5 364.3L251.5 363.5L256.3 363.5L256.3 364.3L256.0 364.7L249.2 369.6L242.8 375.7L238.0 378.9L234.4 382.0L229.2 384.7L225.2 387.6L220.4 389.6L215.0 393.1L210.0 394.8L205.2 397.6L203.2 398.5L198.0 399.6L192.0 402.1L186.8 403.0L180.0 406.1L175.2 406.8L169.6 408.9L164.4 409.7L162.8 410.4L158.8 413.1L153.6 414.1L149.2 416.4L148.0 416.6L144.4 416.6L142.4 417.2L142.0 415.5L139.8 410.3L127.3 382.3L104.7 364.7L104.4 364.3L104.4 363.5ZM115.6 363.5L119.7 363.5L119.7 364.3L119.9 364.7L131.2 373.4L142.0 397.0L142.4 396.1L147.2 393.1L152.4 392.0L157.2 389.8L161.6 389.4L162.8 389.0L167.2 386.7L170.8 386.1L172.4 385.6L176.4 383.1L181.2 382.1L185.6 379.7L190.8 378.8L195.6 376.5L200.4 375.2L202.0 374.3L206.4 371.2L210.8 369.2L212.8 368.1L217.6 364.7L217.9 364.3L217.9 363.5L223.6 363.5L223.6 364.3L223.2 364.7L217.6 367.6L211.6 371.9L206.0 374.4L201.2 377.5L196.0 378.8L191.2 381.0L186.4 382.0L182.0 384.5L177.2 385.6L173.7 387.9L172.4 388.5L168.0 389.2L163.2 391.6L161.6 391.9L157.6 392.2L152.4 394.5L148.0 395.4L146.4 395.9L142.4 398.5L142.0 402.0L130.2 375.9L115.8 364.7L115.5 364.3L115.5 363.5ZM126.8 363.5L130.8 363.5L130.8 364.3L131.0 364.7L134.1 367.1L142.0 384.0L142.4 382.1L143.3 381.5L145.1 380.7L149.2 379.7L154.0 376.8L158.8 375.8L164.0 373.3L169.2 372.5L175.2 369.5L180.4 368.6L186.1 366.3L191.2 365.3L192.6 364.7L193.0 364.3L193.0 363.5L196.7 363.5L196.7 364.3L196.4 364.7L192.9 367.1L191.2 367.9L189.6 368.4L185.6 368.9L180.0 371.2L174.8 372.1L169.2 375.1L164.0 375.9L159.2 378.3L155.6 378.9L154.0 379.4L149.6 382.0L144.8 383.3L142.3 385.1L142.0 388.9L133.2 369.7L126.9 364.7L126.6 364.3L126.6 363.5ZM136.8 363.5L138.8 363.5L138.9 364.7L142.1 371.5L142.2 374.3L142.4 375.2L144.0 374.5L148.4 373.2L152.8 370.3L154.4 369.6L159.6 368.5L165.6 365.9L170.0 365.2L171.6 364.7L172.2 364.3L172.2 363.5L177.6 363.5L177.6 364.3L175.2 365.3L170.8 367.6L168.8 368.2L164.8 368.7L158.8 371.4L154.0 372.4L152.4 373.2L148.4 375.8L144.0 377.0L142.4 377.7L142.0 376.0L136.7 364.7L136.6 363.5ZM152.0 363.5L156.4 363.5L156.4 364.3L153.6 365.7L148.8 368.6L144.4 370.0L142.4 371.0L142.2 370.3L142.4 368.6L145.1 367.1L150.4 365.3L151.7 364.3L151.7 363.5ZM205.2 363.5L209.5 363.5L209.5 364.3L206.4 366.3L202.0 369.6L200.0 370.7L195.6 372.2L190.4 374.9L184.8 375.7L180.3 377.9L175.2 379.0L170.8 381.6L165.6 382.6L161.6 384.8L156.4 385.6L152.0 387.9L147.2 389.0L145.6 389.7L142.4 391.9L142.3 389.5L146.0 386.9L151.2 385.7L154.8 383.5L155.9 383.1L160.4 382.5L165.2 380.0L170.0 379.2L175.2 376.3L180.0 375.4L185.2 373.1L189.2 372.7L190.8 372.3L196.4 369.2L202.0 366.7L204.9 364.7L205.1 364.3L205.1 363.5ZM230.4 363.5L235.2 363.5L235.2 364.3L234.0 365.4L227.6 369.3L221.6 373.7L216.4 376.3L212.3 379.5L207.6 381.3L203.6 383.7L202.0 384.2L198.0 384.8L193.6 386.8L188.8 387.9L183.6 391.1L178.8 392.5L173.2 395.5L167.6 396.2L161.6 398.5L156.4 399.2L150.7 401.9L145.2 403.2L142.4 404.6L142.2 403.1L142.4 402.3L146.0 400.3L151.2 399.1L157.2 396.5L162.4 395.9L168.0 393.7L173.2 392.9L178.4 389.9L183.6 388.4L188.0 385.7L192.8 384.6L197.2 382.5L201.2 381.9L202.8 381.3L206.4 379.1L211.2 377.2L216.7 373.1L222.4 370.2L229.8 364.7L230.2 364.3L230.2 363.5ZM272.8 363.5L276.4 363.5L276.2 364.7L273.2 367.7L264.0 376.2L259.2 379.5L255.5 383.1L250.8 386.5L246.7 390.3L241.6 393.7L236.8 397.9L234.8 399.3L229.6 401.6L224.2 404.7L220.4 405.9L218.0 406.4L211.0 409.9L206.0 411.2L201.0 413.5L195.6 414.6L190.5 416.7L188.8 417.1L187.6 416.8L186.4 416.9L184.8 417.8L182.0 419.8L180.8 419.9L179.2 419.3L178.4 419.3L173.2 421.7L171.7 421.1L171.6 420.7L173.5 418.7L174.8 417.9L176.8 417.5L178.8 417.9L180.0 417.7L184.4 415.4L185.6 415.2L187.2 415.4L189.2 415.1L191.2 414.4L195.1 412.3L200.8 411.2L206.4 408.3L212.0 406.9L217.2 404.2L223.2 402.3L230.4 397.9L235.2 395.6L237.2 394.2L241.6 390.3L246.0 387.5L250.0 383.6L254.4 380.5L258.5 376.7L264.4 372.6L272.4 364.7L272.7 363.5ZM281.6 363.5L285.7 363.5L285.5 364.7L280.4 369.6L274.8 375.7L270.0 379.6L265.6 383.9L261.6 386.9L257.2 391.1L252.0 394.8L245.8 400.3L243.2 402.3L239.2 404.5L235.2 407.5L232.0 409.5L226.8 411.5L222.8 413.9L220.4 414.4L218.8 414.2L218.0 414.3L216.4 415.0L214.0 416.6L211.6 417.6L210.4 417.9L206.8 418.1L201.6 420.5L197.6 420.9L194.8 421.6L194.6 421.5L194.7 421.1L195.3 420.3L197.6 418.8L201.6 418.0L206.4 415.8L211.2 414.9L216.0 412.4L220.0 412.0L226.4 408.6L231.6 406.8L233.6 405.8L240.0 400.8L246.4 396.3L251.8 391.5L256.8 388.0L261.0 383.9L265.2 380.9L269.0 377.1L273.2 373.7L275.1 371.9L281.4 364.7L281.6 363.5ZM0.3 367.1L20.8 385.6L43.2 404.5L64.0 420.9L89.7 439.9L90.9 441.5L90.8 442.0L90.4 442.4L89.6 442.5L88.8 442.2L86.2 440.7L62.7 423.5L40.4 405.9L20.4 389.1L0.0 370.7L0.0 366.8ZM286.4 370.1L286.4 373.9L285.6 374.7L280.0 379.4L276.0 383.6L272.0 386.8L267.6 391.2L262.4 395.3L256.4 401.1L254.0 403.1L248.4 406.9L242.8 411.4L239.2 413.3L236.8 414.2L235.2 415.5L233.2 416.6L229.6 418.1L226.4 420.1L225.6 420.2L224.4 420.0L223.6 420.6L222.6 420.3L222.4 419.9L222.7 419.5L224.4 418.9L225.9 417.5L228.0 416.2L231.2 415.4L232.4 414.9L236.1 412.3L242.4 408.5L244.8 406.8L250.1 402.3L256.4 397.6L262.4 391.9L267.2 388.2L271.2 384.1L275.6 380.6L279.6 376.4L283.9 372.7L286.2 370.3ZM286.4 379.7L286.4 383.1L282.4 386.2L278.4 390.4L272.8 395.2L265.2 402.7L258.8 407.9L253.5 412.7L247.9 416.3L246.0 417.9L245.2 417.8L244.8 417.1L245.4 415.5L247.3 413.5L254.4 408.7L260.8 402.7L267.6 397.0L272.8 391.7L277.6 387.7L281.6 383.6L286.2 379.9ZM0.2 387.9L16.8 402.5L35.2 417.7L50.0 429.3L71.4 445.1L75.8 448.7L76.1 449.1L75.6 449.4L74.0 449.1L70.8 447.9L68.8 446.8L49.2 432.3L32.8 419.5L16.8 406.3L0.0 391.7L0.0 387.7ZM286.4 388.7L286.4 392.2L283.2 394.9L276.4 402.0L270.0 407.4L265.2 412.3L262.4 414.3L261.6 414.6L260.8 415.2L258.6 417.9L256.2 423.1L255.9 425.9L255.2 427.9L253.8 429.9L249.4 434.7L248.2 436.7L245.2 446.0L243.2 451.2L239.6 459.2L234.5 469.1L233.4 471.9L233.7 472.3L233.2 472.5L232.8 473.7L232.4 471.8L232.0 471.5L232.1 471.1L231.6 470.4L230.8 470.1L230.8 469.5L232.0 467.1L236.6 459.5L239.0 454.3L241.9 446.7L243.1 442.7L244.6 439.9L244.6 438.7L244.0 438.3L245.2 434.7L246.7 432.7L252.8 426.7L255.1 423.9L255.4 422.7L255.0 420.3L255.0 419.1L256.1 416.7L258.4 414.1L263.6 410.4L270.9 403.1L278.0 396.8L283.2 391.3L286.4 388.7ZM0.1 398.3L17.6 413.3L34.4 426.9L58.4 445.2L63.4 448.3L64.3 449.5L64.3 450.3L64.0 450.7L63.2 451.0L62.4 450.9L60.4 450.0L47.0 440.3L30.4 427.5L15.1 415.1L0.0 402.1L0.0 398.2ZM286.4 398.5L286.4 402.2L280.0 407.7L275.2 412.6L272.8 414.5L271.2 416.2L269.6 416.6L268.8 416.5L268.6 416.3L268.8 415.5L269.7 414.3L271.2 412.7L274.0 410.4L281.6 402.7L286.1 398.7ZM286.4 408.1L286.4 411.5L284.4 413.6L281.1 416.3L279.6 417.8L278.8 418.1L278.2 417.9L278.0 417.5L278.1 416.7L278.7 415.5L280.3 413.5L286.2 408.3ZM0.0 408.7L22.8 427.7L48.5 447.5L49.4 448.3L49.8 449.1L49.7 449.5L49.2 450.0L47.6 449.9L41.5 446.3L39.2 444.7L34.6 440.7L14.4 424.7L0.1 412.7L0.0 408.7ZM265.2 417.8L266.4 417.7L266.5 418.3L263.8 424.7L262.4 430.3L260.4 435.5L260.0 436.4L258.8 435.8L258.0 436.1L257.2 437.1L255.6 440.4L255.2 440.6L254.8 440.5L254.3 439.9L260.6 428.3L261.3 425.9L262.0 422.3L262.8 420.3L263.9 418.7L264.9 417.9ZM237.6 418.7L239.2 418.5L239.5 418.7L239.3 419.1L235.2 424.3L234.8 424.3L234.0 423.8L233.8 423.5L233.8 422.7L235.4 420.3L237.5 418.7ZM219.6 419.1L221.2 419.2L222.4 419.9L222.2 420.3L220.3 421.9L217.2 423.9L215.2 423.9L214.8 423.5L214.7 423.1L215.2 422.3L217.4 420.3L219.6 419.1ZM166.0 420.3L168.0 420.1L169.8 420.7L170.2 421.1L169.1 421.9L165.6 423.3L162.4 425.1L161.2 425.1L159.2 424.7L158.0 425.0L157.6 424.7L158.3 424.3L159.2 424.4L161.2 423.7L164.8 420.9L165.9 420.3ZM271.2 420.6L273.2 420.3L273.4 421.5L271.8 426.7L270.4 433.5L269.2 437.8L268.0 440.9L266.8 443.2L261.2 451.3L260.8 451.2L260.6 449.9L261.2 446.3L263.7 442.7L265.4 439.5L267.8 431.1L269.3 424.3L270.1 422.3L271.1 420.7ZM186.4 422.3L186.8 422.1L187.6 422.2L188.2 422.3L188.4 422.7L186.8 424.0L185.7 425.5L185.6 425.9L185.7 423.9L186.4 422.3ZM208.0 422.6L210.0 422.5L211.2 423.1L212.0 423.0L213.0 423.5L212.7 423.9L212.0 424.2L211.2 423.6L208.8 425.2L206.2 427.5L204.5 429.5L204.4 430.3L204.6 432.3L204.4 433.5L202.2 437.5L199.1 445.5L194.5 459.5L194.4 460.3L194.1 460.7L192.6 467.5L191.5 475.9L191.0 478.3L190.2 479.9L185.6 479.9L186.7 477.9L186.2 477.5L187.0 477.1L187.4 475.9L189.1 467.1L192.0 459.9L193.6 460.1L194.0 459.9L193.0 457.1L193.1 456.7L196.8 442.0L197.2 440.8L198.0 440.2L198.3 439.5L199.2 434.7L200.0 432.8L201.0 431.5L202.8 431.0L203.5 429.9L203.4 428.7L202.4 427.1L202.6 426.3L203.8 425.1L207.7 422.7ZM245.2 422.6L246.4 422.4L247.2 422.6L247.2 423.5L245.6 425.5L240.9 429.9L239.7 431.5L238.9 433.1L235.2 449.1L232.9 455.9L231.2 458.9L225.6 466.8L224.3 463.5L228.8 457.1L230.6 453.5L235.6 436.0L236.0 434.8L236.4 434.3L237.1 433.9L237.5 433.1L237.5 432.3L237.2 430.7L237.5 429.9L238.7 427.9L240.8 425.7L243.2 423.7L245.0 422.7ZM180.8 423.4L181.2 423.3L181.6 423.7L181.8 424.7L181.2 426.2L179.4 429.1L179.5 431.1L179.2 432.6L176.9 436.3L176.3 438.7L175.6 440.4L174.0 443.2L172.4 445.1L170.9 449.5L168.8 452.8L168.4 452.5L168.0 449.5L171.0 444.7L172.7 440.7L175.3 436.7L175.5 434.3L175.8 433.5L178.8 429.1L178.6 426.3L178.9 425.1L179.6 424.0L180.5 423.5ZM226.4 424.6L226.9 424.7L227.1 425.5L226.0 427.8L224.9 426.7L225.3 425.9L226.3 424.7ZM174.0 425.9L174.5 425.9L174.7 427.1L174.2 428.3L173.2 429.4L171.2 429.8L170.3 429.1L170.0 428.3L171.6 426.9L172.8 426.7L174.0 425.9ZM151.2 426.3L153.6 426.0L154.2 426.3L152.9 427.9L150.8 429.3L150.0 429.2L148.5 427.9L148.6 427.5L149.3 427.1L151.2 426.3ZM192.4 427.3L192.9 427.5L193.1 428.3L192.4 429.9L191.6 430.6L191.4 429.9L191.6 428.7L192.3 427.5ZM166.0 428.2L166.8 428.0L167.5 428.3L167.2 429.1L164.0 431.9L160.8 433.7L159.6 433.4L158.6 432.3L158.6 431.5L159.4 430.7L162.0 429.6L164.4 429.2L165.9 428.3ZM185.2 428.3L185.8 429.9L185.7 430.7L184.8 432.3L184.0 432.7L183.5 432.7L184.1 430.7L184.8 428.9L185.1 428.7ZM0.3 429.9L14.8 441.6L25.6 450.1L28.4 452.0L30.2 453.9L30.8 455.1L30.8 455.5L30.4 455.8L27.9 455.9L26.8 454.3L25.6 453.2L22.0 451.0L0.4 433.9L0.0 433.6L0.0 429.6ZM230.4 430.2L232.3 431.1L229.2 440.0L229.0 436.7L228.6 434.7L229.6 431.6L230.3 430.3ZM286.4 430.5L286.4 438.4L283.6 442.9L282.8 444.0L282.5 443.5L283.2 438.7L286.3 430.7ZM212.0 431.3L212.2 434.3L212.9 436.3L206.8 448.2L205.6 448.7L204.8 448.5L204.2 447.9L208.0 440.1L210.6 435.5L211.9 431.5ZM149.2 432.2L150.0 432.2L150.4 432.4L150.7 433.1L150.7 433.9L148.4 437.9L147.9 441.9L145.6 450.3L145.2 451.2L143.0 447.5L143.1 447.1L145.2 440.9L146.4 441.4L147.0 440.7L147.5 439.5L147.6 437.9L147.3 437.1L146.7 436.7L146.7 434.7L147.6 433.3L149.1 432.3ZM170.4 433.4L171.2 433.6L171.6 434.7L170.9 435.9L169.2 437.5L167.4 436.7L167.3 435.9L168.1 434.7L170.1 433.5ZM190.4 434.8L191.2 435.5L192.1 437.5L190.4 446.3L190.0 447.3L188.8 447.3L187.6 448.0L187.4 447.1L188.0 443.3L190.0 435.7L190.3 435.1ZM219.2 435.7L219.6 435.7L219.8 436.3L220.3 439.1L217.4 443.9L214.0 451.5L212.1 448.7L212.3 448.3L214.4 443.9L219.1 435.9ZM155.2 438.3L157.4 439.1L157.7 439.5L157.6 440.7L156.7 442.7L154.9 453.9L153.2 457.5L152.4 462.3L150.8 465.1L149.2 467.0L143.6 471.6L143.3 471.5L144.3 467.1L146.8 465.1L148.6 463.1L149.8 461.1L151.0 458.3L152.2 453.5L153.0 446.3L153.8 442.7L154.1 440.3L154.7 438.7L155.2 438.3ZM0.3 440.3L13.9 451.1L15.8 453.1L16.2 453.9L16.3 454.7L15.6 455.2L12.8 455.9L12.1 457.1L12.6 457.9L15.1 458.7L18.0 458.8L18.8 458.3L19.0 456.7L19.2 456.3L20.8 455.8L22.7 458.7L23.0 459.5L22.8 460.2L22.3 460.7L20.8 461.3L16.0 460.4L9.2 459.7L8.0 459.9L7.5 460.7L7.8 463.1L7.7 464.3L5.5 467.1L5.2 468.3L5.3 469.1L6.0 469.8L6.8 470.0L8.0 469.9L9.4 469.1L11.4 466.3L13.2 465.6L16.5 465.9L18.4 466.4L19.6 467.0L20.4 467.9L20.7 468.7L20.8 470.3L20.5 471.5L19.8 472.3L18.8 473.0L14.7 474.3L14.2 474.7L14.2 475.1L14.8 475.6L17.6 476.2L19.2 476.8L21.2 478.4L21.4 478.7L21.2 479.0L20.0 477.8L18.4 477.0L16.8 476.6L12.9 476.3L12.0 475.6L12.0 474.7L12.6 473.9L13.6 473.5L17.2 472.6L18.3 471.9L18.9 471.1L19.1 469.5L18.4 468.0L16.9 467.1L15.2 466.8L14.0 466.8L12.8 467.2L10.0 470.5L8.4 471.2L5.6 471.8L4.7 472.7L4.7 474.3L5.6 476.1L6.8 476.9L10.0 477.9L10.7 478.7L11.0 479.9L9.3 479.9L8.4 478.9L5.2 477.5L4.1 475.9L2.5 471.9L1.6 471.2L0.0 470.7L0.0 469.6L2.0 469.6L3.0 469.1L4.2 466.7L6.0 464.3L6.3 462.7L5.2 459.8L4.0 458.0L2.4 457.1L0.0 456.6L0.0 450.6L4.0 453.4L6.0 454.2L11.2 455.3L12.3 455.1L12.5 454.7L12.5 454.3L11.1 452.7L0.0 444.0L0.0 440.1ZM272.8 442.4L273.0 442.7L273.0 446.3L269.8 452.3L266.8 461.5L265.2 465.1L264.8 465.8L264.4 465.9L263.6 460.9L265.6 455.4L267.1 451.9L272.6 442.7ZM179.2 443.9L179.6 444.1L180.0 444.7L180.5 446.3L180.5 448.7L180.0 450.3L178.0 453.8L177.6 453.7L177.2 452.9L176.5 450.7L179.2 443.9ZM120.0 444.2L120.8 444.5L121.8 445.5L122.0 446.3L121.6 446.7L118.7 445.1L119.9 444.3ZM223.6 444.5L224.8 446.3L225.4 447.9L225.4 448.7L223.3 453.9L219.4 460.7L217.7 464.3L216.6 467.5L214.0 477.2L213.8 476.3L213.8 471.9L213.2 468.7L213.6 467.5L215.6 461.9L223.5 444.7ZM250.8 446.5L251.1 447.1L251.7 450.7L249.1 455.9L247.2 460.2L246.0 460.0L244.8 460.1L244.6 459.9L246.0 456.5L250.7 446.7ZM286.4 446.4L286.4 449.7L285.2 450.7L284.1 452.3L282.9 455.9L282.0 463.9L281.2 467.2L280.8 466.9L280.3 465.5L279.3 464.7L280.4 455.9L281.2 453.3L282.4 451.1L286.1 446.7ZM258.0 450.6L258.4 450.7L258.6 451.1L258.8 452.3L258.6 455.9L256.4 460.7L254.0 460.8L252.8 461.7L252.7 461.1L254.8 456.1L257.9 450.7ZM201.6 453.0L203.0 456.3L201.1 463.5L200.1 468.3L199.2 475.9L198.3 479.9L196.0 479.9L197.0 475.5L198.0 466.4L198.3 465.9L198.3 464.3L198.8 461.9L200.0 457.2L201.6 453.1ZM274.4 452.9L276.3 453.9L274.7 463.1L273.2 466.8L269.2 473.1L269.0 471.1L268.3 469.9L270.7 465.9L271.9 463.1L274.3 453.1ZM166.0 453.3L167.4 455.1L165.8 459.5L164.0 466.5L163.6 466.9L163.5 466.7L162.8 462.7L164.4 456.9L165.2 454.7L165.9 453.5ZM182.4 458.7L182.8 458.7L183.4 459.1L184.4 461.5L182.3 464.3L181.1 466.3L180.2 468.7L179.2 472.7L178.4 472.7L177.6 471.9L176.7 469.5L176.5 467.5L177.2 465.4L178.4 463.1L180.0 461.0L182.4 458.7ZM286.4 468.1L286.4 474.3L285.5 475.9L286.4 476.2L286.4 476.4L285.2 476.5L283.4 479.9L279.8 479.9L282.6 475.1L282.1 474.3L282.4 474.2L282.8 474.7L283.2 474.2L285.0 471.1L286.3 468.3ZM117.6 468.6L118.0 468.4L118.8 468.6L120.1 469.5L120.2 470.7L119.6 471.9L119.2 472.4L118.4 472.6L117.3 471.9L117.0 470.3L117.5 468.7ZM118.2 469.5L117.8 470.3L118.0 471.5L118.4 471.8L119.2 471.7L119.8 470.7L119.6 469.9L119.2 469.5L118.4 469.4ZM277.6 468.7L277.8 469.1L277.9 472.7L274.6 478.3L274.5 479.9L274.1 479.9L274.0 479.7L273.9 479.9L271.0 479.9L272.7 476.3L272.3 473.9L272.4 473.8L273.2 475.4L277.6 468.7ZM24.8 469.4L26.8 469.1L29.9 469.5L29.6 469.7L27.6 469.7L26.0 469.9L25.2 470.3L24.5 471.1L24.3 472.3L24.8 473.5L26.0 474.5L27.6 475.1L30.0 475.0L32.0 473.9L32.7 473.1L32.8 471.9L32.3 471.1L31.1 470.3L31.6 470.2L32.8 471.1L33.4 472.3L33.2 473.6L32.0 475.0L30.4 475.9L28.4 476.2L26.8 476.0L25.2 475.2L23.7 473.9L22.9 472.7L22.7 471.5L23.3 470.3L24.5 469.5ZM138.8 470.3L140.0 470.5L141.1 471.5L141.1 472.7L140.4 473.4L139.6 473.1L138.4 471.9L138.2 471.1L138.7 470.3ZM204.8 471.3L206.2 474.7L204.8 479.9L204.0 479.9L203.6 475.5L204.5 471.5ZM160.4 473.3L162.6 476.3L162.3 479.9L161.7 479.9L161.8 476.3L160.2 473.5ZM165.6 473.4L166.0 475.5L168.0 478.3L168.5 479.9L167.5 479.9L167.0 478.3L165.5 475.9L165.3 475.1L165.6 473.5ZM239.2 473.1L239.6 473.1L240.0 474.8L240.8 476.1L240.9 476.7L240.1 478.7L240.8 479.9L236.4 479.9L237.3 477.9L236.1 476.7L235.4 475.1L235.6 474.8L236.3 476.3L237.2 477.1L237.6 477.1L239.1 473.5ZM155.6 474.4L155.8 474.7L155.2 475.9L152.7 478.7L152.3 479.9L151.7 479.9L151.9 479.1L155.4 475.1L155.4 474.7ZM246.4 474.6L246.8 474.5L247.2 475.9L248.4 476.8L248.6 476.7L249.2 475.4L249.2 476.2L248.8 476.7L249.0 477.1L252.4 477.5L253.2 477.8L253.8 478.7L253.9 479.9L253.3 479.9L253.0 478.7L252.4 478.2L248.0 477.4L246.8 476.2L246.4 474.7ZM38.4 476.1L38.6 476.3L34.0 479.9L32.1 479.9L32.7 479.1L38.1 476.3ZM147.6 476.1L147.5 479.9L144.9 479.9L145.2 477.9L145.6 478.7L147.5 476.3ZM76.4 476.7L77.6 476.5L79.1 476.7L76.8 477.0L72.7 478.3L71.1 479.1L70.8 479.9L68.6 479.9L68.3 479.1L68.8 478.5L76.2 476.7ZM120.8 477.1L121.2 476.9L121.6 477.1L120.9 477.5L120.2 478.3L120.1 479.9L118.5 479.9L117.8 478.7L118.0 478.6L119.2 479.4L120.8 477.1ZM141.2 477.3L142.0 477.5L142.1 479.9L139.5 479.9L140.2 478.3L140.8 477.5Z" fill="#2e3b95" stroke="#c49a9a" stroke-width="1.0" stroke-opacity="0.75" paint-order="stroke" fill-rule="evenodd"/></g>
<line x1="142.4" x2="142.4" y1="363.5" y2="478.0" stroke="#111" stroke-width="0.9" stroke-dasharray="1.2 1.3"/>
</g>
<rect x="289.9" y="301.6" width="3.9" height="169.5" fill="url(#cwv)"/>
<line x1="293.8" x2="299.8" y1="301.6" y2="301.6" stroke="#333" stroke-width="0.8"/>
<text x="302.6" y="305.9" class="cc">6</text>
<line x1="293.8" x2="299.8" y1="315.7" y2="315.7" stroke="#333" stroke-width="0.8"/>
<text x="302.6" y="320.0" class="cc">5</text>
<line x1="293.8" x2="299.8" y1="329.9" y2="329.9" stroke="#333" stroke-width="0.8"/>
<text x="302.6" y="334.2" class="cc">4</text>
<line x1="293.8" x2="299.8" y1="344.0" y2="344.0" stroke="#333" stroke-width="0.8"/>
<text x="302.6" y="348.3" class="cc">3</text>
<line x1="293.8" x2="299.8" y1="358.1" y2="358.1" stroke="#333" stroke-width="0.8"/>
<text x="302.6" y="362.4" class="cc">2</text>
<line x1="293.8" x2="299.8" y1="372.2" y2="372.2" stroke="#333" stroke-width="0.8"/>
<text x="302.6" y="376.5" class="cc">1</text>
<line x1="293.8" x2="299.8" y1="386.4" y2="386.4" stroke="#333" stroke-width="0.8"/>
<text x="302.6" y="390.7" class="cc">0</text>
<line x1="293.8" x2="299.8" y1="400.5" y2="400.5" stroke="#333" stroke-width="0.8"/>
<text x="302.0" y="404.8" class="cc">-1</text>
<line x1="293.8" x2="299.8" y1="414.6" y2="414.6" stroke="#333" stroke-width="0.8"/>
<text x="302.0" y="418.9" class="cc">-2</text>
<line x1="293.8" x2="299.8" y1="428.7" y2="428.7" stroke="#333" stroke-width="0.8"/>
<text x="302.0" y="433.0" class="cc">-3</text>
<line x1="293.8" x2="299.8" y1="442.9" y2="442.9" stroke="#333" stroke-width="0.8"/>
<text x="302.0" y="447.2" class="cc">-4</text>
<line x1="293.8" x2="299.8" y1="457.0" y2="457.0" stroke="#333" stroke-width="0.8"/>
<text x="302.0" y="461.3" class="cc">-5</text>
<line x1="293.8" x2="299.8" y1="471.1" y2="471.1" stroke="#333" stroke-width="0.8"/>
<text x="302.0" y="475.4" class="cc">-6</text>
<g id="pb">
<rect x="423" y="4.4" width="260.4" height="166.7" fill="#eaeaf2"/>
<line x1="515.3" x2="515.3" y1="4.4" y2="171.1" stroke="#fff" stroke-width="1"/>
<line x1="607.6" x2="607.6" y1="4.4" y2="171.1" stroke="#fff" stroke-width="1"/>
<line x1="423" x2="683.4" y1="51.5" y2="51.5" stroke="#fff" stroke-width="1"/>
<line x1="423" x2="683.4" y1="115.7" y2="115.7" stroke="#fff" stroke-width="1"/>
<g clip-path="url(#cb)" fill="none" stroke-linejoin="round">
<path d="M423.0 75.0L434.5 74.9L462.3 59.2L478.6 50.6L490.1 61.4L499.0 71.8L506.4 64.1L512.5 67.8L517.9 76.7L522.6 71.6L526.8 71.3L530.7 80.9L534.1 77.6L537.3 74.0L540.3 83.3L543.1 83.1L545.7 77.2L548.1 85.1L550.4 87.9L552.6 80.6L554.6 85.9L556.6 91.8L558.4 84.2L560.2 86.3L561.9 94.6L563.6 88.2L565.1 87.0L566.6 96.7L568.1 92.8L569.5 88.2L570.9 97.8L572.2 97.1L573.5 90.2L574.7 98.0L575.9 100.8L577.0 92.8L578.2 97.8L579.3 103.8L580.3 95.8L581.4 97.7L582.4 105.5L583.4 99.9L584.4 99.3L585.3 108.4L586.2 105.6L587.1 102.6L588.0 111.4L588.9 111.9L589.7 106.9L590.5 113.1L591.3 116.1L592.1 110.7L592.9 116.1L593.7 119.4L594.4 115.0L595.2 116.9L595.9 123.2L596.6 119.2L597.3 118.5L598.0 125.0L598.7 123.2L599.3 120.9L600.0 126.9L600.6 126.3L601.2 123.2L601.9 127.9L602.5 128.8L603.1 124.7L603.7 126.6L604.3 129.8L604.8 126.7L605.4 127.4L606.0 131.2L606.5 128.7L607.1 128.7L607.6 130.7L608.1 131.5L608.7 129.1L609.2 132.0L609.7 130.2L610.2 130.0L611.2 131.6L612.1 129.8L613.1 128.9L614.0 130.6L614.9 127.5L615.8 128.0L616.7 128.0L617.5 123.0L618.3 125.1L619.1 121.9L619.9 120.0L620.7 119.5L621.5 115.7L622.2 113.4L623.0 111.1L623.7 107.3L624.4 106.1L625.1 100.9L625.8 98.9L626.4 101.0L627.1 99.6L627.8 103.0L628.4 105.0L629.0 106.7L629.6 112.2L630.3 115.8L630.9 121.0L631.5 123.1L632.0 124.8L632.6 126.4L633.2 126.7L633.7 126.3L634.3 130.9L634.8 129.1L635.4 130.0L635.9 131.6L636.4 131.0L637.0 134.7L637.5 134.3L638.0 134.3L638.7 134.7L639.4 136.4L640.2 137.9L640.9 138.1L641.6 140.8L642.2 139.4L642.9 143.7L643.6 144.6L644.2 144.4L644.9 145.7L645.5 146.3L646.1 146.2L646.7 146.0L647.3 146.7L647.9 146.5L648.5 145.3L649.1 144.1L649.6 144.4L650.2 145.5L650.7 142.5L651.3 143.4L651.8 140.3L652.3 136.8L652.9 136.4L653.4 134.9L653.9 133.0L654.4 132.2L655.1 136.8L655.7 137.5L656.3 142.2L657.0 145.1L657.6 148.5L658.2 151.1L658.8 151.0L659.4 153.0L660.0 153.5L660.5 154.3L661.1 155.9L661.7 157.5L662.2 156.1L662.8 157.3L663.3 158.5L663.8 158.8L664.4 161.0L664.9 160.6L665.4 161.5L665.9 161.3L666.5 160.5L667.1 161.6L667.7 161.8L668.3 162.1L668.9 164.7L669.5 163.4L670.0 160.4L670.6 159.4L671.1 158.7L671.7 154.9L672.1 153.9" stroke="#9467bd" stroke-width="0.55" stroke-opacity="0.5"/>
<path d="M423.0 76.0L434.5 76.0L462.3 60.3L478.6 51.7L490.1 62.6L499.0 73.0L506.4 65.4L512.5 69.1L517.9 77.9L522.6 72.8L526.8 72.5L530.7 82.0L534.1 78.7L537.3 75.1L540.3 84.5L543.1 84.2L545.7 78.3L548.1 86.2L550.4 89.0L552.6 81.7L554.6 87.0L556.6 92.9L558.4 85.3L560.2 87.4L561.9 95.6L563.6 89.2L565.1 88.0L566.6 97.7L568.1 93.8L569.5 89.2L570.9 98.8L572.2 98.2L573.5 91.2L574.7 99.0L575.9 101.9L577.0 93.8L578.2 98.9L579.3 104.6L580.3 97.0L581.4 98.6L582.4 106.6L583.4 100.7L584.4 100.0L585.3 109.8L586.2 107.1L587.1 103.6L588.0 112.0L588.9 113.1L589.7 107.3L590.5 114.4L591.3 117.2L592.1 111.5L592.9 116.2L593.7 121.3L594.4 115.8L595.2 117.3L595.9 123.6L596.6 120.1L597.3 119.9L598.0 125.3L598.7 123.7L599.3 121.0L600.0 127.4L600.6 127.0L601.2 124.6L601.9 128.8L602.5 129.9L603.1 126.3L603.7 126.8L604.3 131.2L604.8 127.7L605.4 127.7L606.0 129.1L606.5 129.3L607.1 128.8L607.6 133.9L608.1 131.1L608.7 129.0L609.2 131.5L609.7 132.4L610.2 130.9L611.2 132.3L612.1 131.4L613.1 129.1L614.0 132.7L614.9 127.9L615.8 128.5L616.7 127.4L617.5 125.3L618.3 126.2L619.1 122.7L619.9 120.3L620.7 119.6L621.5 114.9L622.2 115.8L623.0 114.0L623.7 107.2L624.4 106.1L625.1 102.1L625.8 100.7L626.4 97.5L627.1 100.1L627.8 103.4L628.4 105.9L629.0 108.2L629.6 113.7L630.3 117.8L630.9 120.6L631.5 124.2L632.0 123.2L632.6 126.0L633.2 128.0L633.7 127.7L634.3 132.1L634.8 131.1L635.4 132.3L635.9 131.5L636.4 132.2L637.0 133.7L637.5 135.4L638.0 136.1L638.7 136.4L639.4 137.7L640.2 139.3L640.9 138.8L641.6 141.1L642.2 142.1L642.9 144.0L643.6 145.8L644.2 146.0L644.9 146.0L645.5 148.1L646.1 149.0L646.7 147.5L647.3 147.5L647.9 146.5L648.5 147.7L649.1 144.9L649.6 144.0L650.2 145.2L650.7 143.2L651.3 142.9L651.8 139.1L652.3 137.5L652.9 134.6L653.4 134.2L653.9 133.1L654.4 134.5L655.1 136.1L655.7 138.6L656.3 141.2L657.0 144.7L657.6 148.5L658.2 150.0L658.8 150.2L659.4 153.6L660.0 155.2L660.5 155.4L661.1 155.9L661.7 156.7L662.2 159.2L662.8 158.8L663.3 157.9L663.8 159.4L664.4 160.9L664.9 159.9L665.4 160.5L665.9 163.7L666.5 162.3L667.1 162.1L667.7 162.8L668.3 164.2L668.9 163.4L669.5 163.0L670.0 160.1L670.6 160.7L671.1 159.4L671.7 155.6L672.1 156.7" stroke="#9467bd" stroke-width="0.55" stroke-opacity="0.5"/>
<path d="M423.0 77.2L434.5 77.1L462.3 61.4L478.6 52.8L490.1 63.8L499.0 74.3L506.4 66.6L512.5 70.3L517.9 79.2L522.6 73.9L526.8 73.7L530.7 83.2L534.1 79.9L537.3 76.3L540.3 85.6L543.1 85.3L545.7 79.4L548.1 87.3L550.4 90.1L552.6 82.8L554.6 88.1L556.6 93.9L558.4 86.3L560.2 88.5L561.9 96.7L563.6 90.3L565.1 89.1L566.6 98.8L568.1 94.9L569.5 90.3L570.9 99.8L572.2 99.2L573.5 92.2L574.7 100.0L575.9 102.8L577.0 94.8L578.2 100.0L579.3 105.7L580.3 98.0L581.4 99.6L582.4 107.7L583.4 102.0L584.4 101.2L585.3 111.2L586.2 108.3L587.1 104.6L588.0 113.6L588.9 113.0L589.7 108.4L590.5 116.1L591.3 118.8L592.1 113.3L592.9 117.3L593.7 121.9L594.4 116.9L595.2 118.6L595.9 124.5L596.6 121.4L597.3 120.3L598.0 126.8L598.7 125.4L599.3 122.3L600.0 127.9L600.6 129.3L601.2 124.6L601.9 128.8L602.5 131.1L603.1 126.7L603.7 128.7L604.3 130.8L604.8 129.2L605.4 129.0L606.0 132.6L606.5 130.4L607.1 130.5L607.6 133.1L608.1 131.5L608.7 130.3L609.2 134.2L609.7 132.4L610.2 130.7L611.2 133.6L612.1 131.1L613.1 131.2L614.0 133.9L614.9 128.6L615.8 129.3L616.7 128.2L617.5 127.8L618.3 125.9L619.1 124.3L619.9 122.6L620.7 121.4L621.5 116.5L622.2 116.8L623.0 111.6L623.7 107.3L624.4 106.6L625.1 102.6L625.8 99.9L626.4 100.1L627.1 98.4L627.8 103.8L628.4 105.7L629.0 108.2L629.6 113.8L630.3 117.0L630.9 121.4L631.5 124.6L632.0 123.7L632.6 127.2L633.2 129.2L633.7 128.8L634.3 131.3L634.8 129.8L635.4 131.7L635.9 133.9L636.4 132.9L637.0 134.6L637.5 137.8L638.0 134.8L638.7 137.0L639.4 138.8L640.2 141.4L640.9 141.3L641.6 142.1L642.2 143.3L642.9 145.9L643.6 146.7L644.2 146.3L644.9 147.0L645.5 147.2L646.1 148.4L646.7 149.2L647.3 149.8L647.9 148.9L648.5 147.5L649.1 146.1L649.6 145.6L650.2 144.2L650.7 143.7L651.3 141.5L651.8 141.7L652.3 137.2L652.9 137.6L653.4 133.9L653.9 133.2L654.4 133.1L655.1 135.4L655.7 137.7L656.3 143.4L657.0 147.1L657.6 149.3L658.2 152.0L658.8 153.0L659.4 154.0L660.0 155.8L660.5 155.8L661.1 156.6L661.7 157.2L662.2 159.0L662.8 158.9L663.3 159.0L663.8 160.2L664.4 160.5L664.9 160.9L665.4 160.3L665.9 163.5L666.5 161.8L667.1 164.1L667.7 164.9L668.3 165.4L668.9 164.6L669.5 164.7L670.0 162.0L670.6 160.1L671.1 159.0L671.7 156.3L672.1 158.2" stroke="#9467bd" stroke-width="0.75" stroke-opacity="1.0"/>
<path d="M423.0 78.2L434.5 78.2L462.3 62.5L478.6 53.9L490.1 65.0L499.0 75.6L506.4 67.8L512.5 71.5L517.9 80.4L522.6 75.1L526.8 74.8L530.7 84.3L534.1 81.0L537.3 77.4L540.3 86.7L543.1 86.5L545.7 80.5L548.1 88.4L550.4 91.2L552.6 83.8L554.6 89.2L556.6 95.0L558.4 87.4L560.2 89.5L561.9 97.7L563.6 91.4L565.1 90.1L566.6 99.8L568.1 95.9L569.5 91.3L570.9 100.9L572.2 100.2L573.5 93.2L574.7 101.1L575.9 103.8L577.0 95.8L578.2 100.9L579.3 106.6L580.3 99.0L581.4 100.6L582.4 108.4L583.4 102.6L584.4 102.1L585.3 111.6L586.2 108.8L587.1 105.9L588.0 114.6L588.9 114.5L589.7 109.8L590.5 116.7L591.3 119.3L592.1 113.4L592.9 117.4L593.7 122.9L594.4 117.5L595.2 119.7L595.9 125.4L596.6 122.0L597.3 122.1L598.0 128.1L598.7 126.5L599.3 124.0L600.0 129.6L600.6 130.7L601.2 126.6L601.9 130.2L602.5 131.8L603.1 128.2L603.7 130.0L604.3 132.5L604.8 130.6L605.4 129.9L606.0 134.0L606.5 130.4L607.1 130.6L607.6 134.4L608.1 132.9L608.7 130.0L609.2 134.3L609.7 135.0L610.2 132.2L611.2 134.8L612.1 132.6L613.1 132.1L614.0 132.8L614.9 130.6L615.8 130.5L616.7 127.3L617.5 126.8L618.3 126.0L619.1 124.8L619.9 124.6L620.7 121.7L621.5 118.6L622.2 115.4L623.0 114.4L623.7 106.9L624.4 108.9L625.1 103.8L625.8 100.9L626.4 101.2L627.1 101.4L627.8 103.7L628.4 105.0L629.0 106.8L629.6 113.8L630.3 118.3L630.9 121.7L631.5 126.1L632.0 124.3L632.6 129.7L633.2 129.3L633.7 130.0L634.3 132.2L634.8 131.6L635.4 133.7L635.9 134.0L636.4 133.2L637.0 136.7L637.5 135.5L638.0 137.0L638.7 138.0L639.4 139.6L640.2 139.8L640.9 143.2L641.6 143.3L642.2 144.3L642.9 145.7L643.6 145.8L644.2 146.7L644.9 149.0L645.5 148.0L646.1 149.9L646.7 147.4L647.3 149.3L647.9 149.0L648.5 147.7L649.1 148.3L649.6 147.0L650.2 146.5L650.7 144.0L651.3 143.6L651.8 141.1L652.3 137.4L652.9 136.6L653.4 135.2L653.9 132.2L654.4 134.1L655.1 138.4L655.7 140.4L656.3 142.8L657.0 144.3L657.6 149.9L658.2 152.6L658.8 151.7L659.4 155.6L660.0 156.9L660.5 156.7L661.1 158.8L661.7 158.2L662.2 160.4L662.8 161.3L663.3 159.6L663.8 161.3L664.4 162.6L664.9 163.6L665.4 160.4L665.9 162.6L666.5 162.9L667.1 166.2L667.7 165.7L668.3 165.8L668.9 165.1L669.5 165.8L670.0 161.2L670.6 160.1L671.1 160.3L671.7 156.7L672.1 156.8" stroke="#9467bd" stroke-width="0.55" stroke-opacity="0.5"/>
<path d="M423.0 70.8L434.5 70.7L462.3 55.0L478.6 46.3L490.1 56.9L499.0 66.9L506.4 59.4L512.5 63.2L517.9 72.2L522.6 67.0L526.8 66.8L530.7 76.4L534.1 73.2L537.3 69.6L540.3 79.0L543.1 78.8L545.7 73.0L548.1 80.8L550.4 83.7L552.6 76.4L554.6 81.8L556.6 87.7L558.4 80.1L560.2 82.3L561.9 90.5L563.6 84.2L565.1 83.0L566.6 92.7L568.1 88.8L569.5 84.2L570.9 93.9L572.2 93.2L573.5 86.3L574.7 94.1L575.9 96.9L577.0 88.9L578.2 93.9L579.3 99.8L580.3 92.1L581.4 93.8L582.4 102.0L583.4 96.2L584.4 95.4L585.3 104.9L586.2 102.5L587.1 99.0L588.0 107.7L588.9 108.3L589.7 103.0L590.5 110.1L591.3 112.3L592.1 106.9L592.9 111.4L593.7 115.9L594.4 111.1L595.2 112.1L595.9 119.8L596.6 115.9L597.3 116.1L598.0 121.0L598.7 119.9L599.3 117.2L600.0 123.7L600.6 123.2L601.2 120.8L601.9 123.1L602.5 125.7L603.1 121.2L603.7 122.9L604.3 126.5L604.8 121.8L605.4 123.9L606.0 127.6L606.5 124.1L607.1 122.8L607.6 127.8L608.1 127.1L608.7 124.7L609.2 128.6L609.7 127.8L610.2 125.4L611.2 127.5L612.1 127.0L613.1 125.1L614.0 126.2L614.9 125.1L615.8 123.4L616.7 120.6L617.5 118.8L618.3 121.7L619.1 118.9L619.9 117.4L620.7 116.7L621.5 113.7L622.2 111.4L623.0 109.2L623.7 104.2L624.4 104.9L625.1 100.6L625.8 97.7L626.4 98.2L627.1 97.5L627.8 102.4L628.4 105.0L629.0 105.6L629.6 114.5L630.3 114.5L630.9 117.3L631.5 122.0L632.0 120.8L632.6 122.9L633.2 123.2L633.7 124.8L634.3 126.8L634.8 124.6L635.4 126.7L635.9 128.3L636.4 127.1L637.0 129.3L637.5 130.4L638.0 130.5L638.7 132.0L639.4 135.1L640.2 133.6L640.9 135.9L641.6 137.2L642.2 137.5L642.9 139.6L643.6 140.5L644.2 142.4L644.9 144.1L645.5 144.9L646.1 144.8L646.7 142.5L647.3 143.6L647.9 143.7L648.5 142.4L649.1 141.2L649.6 143.3L650.2 143.7L650.7 139.9L651.3 139.7L651.8 137.1L652.3 136.1L652.9 133.3L653.4 132.7L653.9 129.1L654.4 133.0L655.1 134.2L655.7 137.1L656.3 138.6L657.0 143.4L657.6 144.4L658.2 147.1L658.8 147.2L659.4 149.0L660.0 150.9L660.5 150.9L661.1 152.4L661.7 152.9L662.2 156.9L662.8 154.9L663.3 153.9L663.8 156.1L664.4 156.2L664.9 156.8L665.4 157.2L665.9 156.8L666.5 158.3L667.1 160.4L667.7 159.7L668.3 160.4L668.9 160.4L669.5 159.8L670.0 156.5L670.6 154.6L671.1 154.3L671.7 152.9L672.1 154.7" stroke="#d62728" stroke-width="0.55" stroke-opacity="0.5"/>
<path d="M423.0 71.8L434.5 71.8L462.3 56.1L478.6 47.5L490.1 58.1L499.0 68.2L506.4 60.6L512.5 64.4L517.9 73.4L522.6 68.2L526.8 68.0L530.7 77.6L534.1 74.4L537.3 70.8L540.3 80.2L543.1 79.9L545.7 74.1L548.1 81.9L550.4 84.8L552.6 77.5L554.6 82.9L556.6 88.7L558.4 81.2L560.2 83.3L561.9 91.6L563.6 85.2L565.1 84.0L566.6 93.7L568.1 89.9L569.5 85.3L570.9 94.9L572.2 94.2L573.5 87.3L574.7 95.1L575.9 98.0L577.0 89.9L578.2 95.0L579.3 100.6L580.3 93.0L581.4 94.7L582.4 102.8L583.4 97.0L584.4 96.3L585.3 105.8L586.2 103.5L587.1 99.9L588.0 109.2L588.9 109.3L589.7 103.7L590.5 110.5L591.3 113.9L592.1 107.7L592.9 112.4L593.7 117.5L594.4 112.5L595.2 114.2L595.9 119.8L596.6 115.8L597.3 114.9L598.0 122.1L598.7 121.5L599.3 117.2L600.0 124.7L600.6 123.1L601.2 120.0L601.9 124.3L602.5 127.1L603.1 121.7L603.7 125.1L604.3 128.1L604.8 124.8L605.4 124.7L606.0 128.5L606.5 126.2L607.1 125.7L607.6 128.6L608.1 127.1L608.7 123.5L609.2 127.9L609.7 128.8L610.2 127.4L611.2 129.0L612.1 126.3L613.1 125.2L614.0 128.0L614.9 126.4L615.8 124.3L616.7 123.4L617.5 121.9L618.3 121.1L619.1 118.2L619.9 117.5L620.7 116.4L621.5 114.1L622.2 112.8L623.0 110.2L623.7 106.4L624.4 104.9L625.1 101.5L625.8 98.4L626.4 98.5L627.1 97.0L627.8 102.4L628.4 104.9L629.0 108.8L629.6 112.9L630.3 114.0L630.9 119.3L631.5 121.1L632.0 121.8L632.6 124.8L633.2 125.1L633.7 125.5L634.3 127.9L634.8 127.2L635.4 128.3L635.9 130.4L636.4 129.9L637.0 131.5L637.5 131.9L638.0 130.8L638.7 133.2L639.4 134.5L640.2 136.6L640.9 136.9L641.6 138.6L642.2 140.1L642.9 142.0L643.6 142.3L644.2 142.6L644.9 142.2L645.5 142.3L646.1 145.6L646.7 145.1L647.3 143.9L647.9 143.9L648.5 144.1L649.1 142.4L649.6 142.5L650.2 142.6L650.7 141.5L651.3 141.2L651.8 137.8L652.3 136.5L652.9 135.8L653.4 133.8L653.9 131.5L654.4 132.8L655.1 136.1L655.7 138.5L656.3 141.4L657.0 141.1L657.6 146.2L658.2 146.4L658.8 148.0L659.4 149.7L660.0 152.8L660.5 152.3L661.1 152.0L661.7 154.2L662.2 154.6L662.8 155.7L663.3 156.4L663.8 155.9L664.4 157.4L664.9 157.7L665.4 157.9L665.9 158.4L666.5 158.4L667.1 160.5L667.7 160.0L668.3 162.1L668.9 162.7L669.5 161.1L670.0 158.5L670.6 158.3L671.1 156.0L671.7 152.7L672.1 152.2" stroke="#d62728" stroke-width="0.55" stroke-opacity="0.5"/>
<path d="M423.0 73.0L434.5 72.9L462.3 57.2L478.6 48.6L490.1 59.3L499.0 69.5L506.4 61.9L512.5 65.6L517.9 74.6L522.6 69.4L526.8 69.2L530.7 78.7L534.1 75.5L537.3 71.9L540.3 81.3L543.1 81.1L545.7 75.2L548.1 83.0L550.4 85.9L552.6 78.6L554.6 84.0L556.6 89.8L558.4 82.2L560.2 84.4L561.9 92.6L563.6 86.3L565.1 85.1L566.6 94.8L568.1 90.9L569.5 86.3L570.9 95.9L572.2 95.3L573.5 88.3L574.7 96.2L575.9 99.0L577.0 90.9L578.2 96.0L579.3 101.6L580.3 93.9L581.4 95.9L582.4 103.9L583.4 98.0L584.4 97.3L585.3 106.9L586.2 103.9L587.1 100.7L588.0 109.6L588.9 110.3L589.7 105.1L590.5 111.2L591.3 114.8L592.1 108.8L592.9 113.0L593.7 118.5L594.4 113.7L595.2 115.3L595.9 120.6L596.6 117.3L597.3 117.0L598.0 123.7L598.7 121.2L599.3 119.1L600.0 124.2L600.6 124.5L601.2 122.2L601.9 126.4L602.5 127.1L603.1 123.8L603.7 125.7L604.3 127.9L604.8 125.1L605.4 126.6L606.0 129.0L606.5 127.8L607.1 124.1L607.6 130.1L608.1 128.4L608.7 126.4L609.2 129.8L609.7 128.2L610.2 127.2L611.2 131.2L612.1 127.6L613.1 128.1L614.0 128.8L614.9 125.8L615.8 125.1L616.7 124.6L617.5 122.4L618.3 122.7L619.1 119.3L619.9 118.6L620.7 118.0L621.5 116.2L622.2 113.1L623.0 108.8L623.7 106.6L624.4 105.1L625.1 101.9L625.8 100.5L626.4 99.7L627.1 99.8L627.8 102.5L628.4 104.2L629.0 107.2L629.6 111.0L630.3 114.4L630.9 117.9L631.5 121.3L632.0 122.9L632.6 124.5L633.2 124.2L633.7 125.9L634.3 126.8L634.8 128.6L635.4 129.0L635.9 130.1L636.4 130.5L637.0 133.4L637.5 131.7L638.0 131.6L638.7 133.0L639.4 135.8L640.2 135.8L640.9 137.7L641.6 139.9L642.2 140.1L642.9 140.7L643.6 142.3L644.2 143.3L644.9 143.7L645.5 143.7L646.1 144.8L646.7 144.4L647.3 146.0L647.9 143.7L648.5 144.7L649.1 144.9L649.6 143.2L650.2 142.7L650.7 144.2L651.3 139.3L651.8 139.0L652.3 137.7L652.9 135.3L653.4 134.1L653.9 131.6L654.4 132.8L655.1 135.6L655.7 138.4L656.3 141.2L657.0 143.0L657.6 146.6L658.2 147.0L658.8 149.2L659.4 151.0L660.0 152.2L660.5 154.0L661.1 152.1L661.7 154.7L662.2 157.2L662.8 156.7L663.3 155.8L663.8 157.5L664.4 158.3L664.9 159.2L665.4 158.1L665.9 159.9L666.5 160.9L667.1 160.1L667.7 160.0L668.3 162.5L668.9 160.5L669.5 162.7L670.0 158.8L670.6 158.8L671.1 155.8L671.7 154.5L672.1 153.2" stroke="#d62728" stroke-width="0.75" stroke-opacity="1.0"/>
<path d="M423.0 74.0L434.5 74.0L462.3 58.3L478.6 49.7L490.1 60.5L499.0 70.7L506.4 63.1L512.5 66.8L517.9 75.8L522.6 70.6L526.8 70.4L530.7 79.9L534.1 76.7L537.3 73.1L540.3 82.4L543.1 82.2L545.7 76.3L548.1 84.2L550.4 87.0L552.6 79.7L554.6 85.0L556.6 90.9L558.4 83.3L560.2 85.5L561.9 93.7L563.6 87.3L565.1 86.1L566.6 95.8L568.1 91.9L569.5 87.3L570.9 96.9L572.2 96.3L573.5 89.3L574.7 97.2L575.9 100.0L577.0 92.0L578.2 96.9L579.3 103.0L580.3 95.0L581.4 97.1L582.4 105.0L583.4 99.2L584.4 98.5L585.3 108.5L586.2 105.1L587.1 101.7L588.0 110.5L588.9 111.3L589.7 105.5L590.5 113.1L591.3 115.5L592.1 109.5L592.9 113.8L593.7 118.9L594.4 113.5L595.2 116.1L595.9 122.4L596.6 118.9L597.3 117.5L598.0 124.3L598.7 122.4L599.3 120.5L600.0 126.0L600.6 126.1L601.2 121.5L601.9 126.4L602.5 128.1L603.1 123.7L603.7 126.2L604.3 128.4L604.8 125.6L605.4 126.8L606.0 131.4L606.5 126.9L607.1 126.9L607.6 129.7L608.1 129.2L608.7 127.3L609.2 131.3L609.7 131.4L610.2 128.4L611.2 131.9L612.1 130.5L613.1 129.8L614.0 129.2L614.9 125.6L615.8 126.2L616.7 125.0L617.5 123.1L618.3 125.0L619.1 121.6L619.9 120.1L620.7 118.4L621.5 112.5L622.2 111.6L623.0 111.0L623.7 106.6L624.4 104.5L625.1 102.8L625.8 99.6L626.4 98.9L627.1 96.9L627.8 101.6L628.4 107.0L629.0 108.8L629.6 112.9L630.3 116.1L630.9 120.0L631.5 122.7L632.0 122.1L632.6 124.0L633.2 126.0L633.7 127.6L634.3 128.8L634.8 128.9L635.4 131.9L635.9 130.6L636.4 130.0L637.0 134.5L637.5 133.4L638.0 133.8L638.7 135.3L639.4 136.0L640.2 138.7L640.9 139.8L641.6 141.0L642.2 139.8L642.9 143.1L643.6 144.3L644.2 142.8L644.9 144.8L645.5 144.8L646.1 146.6L646.7 146.3L647.3 145.2L647.9 144.7L648.5 145.2L649.1 145.0L649.6 143.8L650.2 144.4L650.7 142.6L651.3 141.5L651.8 137.6L652.3 137.7L652.9 136.2L653.4 133.8L653.9 133.7L654.4 133.4L655.1 136.6L655.7 138.9L656.3 141.5L657.0 144.6L657.6 148.1L658.2 149.4L658.8 149.2L659.4 152.8L660.0 152.8L660.5 154.2L661.1 153.7L661.7 155.4L662.2 156.2L662.8 156.8L663.3 158.1L663.8 157.9L664.4 159.4L664.9 159.0L665.4 158.5L665.9 159.8L666.5 161.8L667.1 162.6L667.7 161.5L668.3 160.7L668.9 163.7L669.5 163.0L670.0 158.7L670.6 156.8L671.1 156.2L671.7 156.2L672.1 154.1" stroke="#d62728" stroke-width="0.55" stroke-opacity="0.5"/>
<path d="M423.0 65.8L434.5 65.8L462.3 50.1L478.6 41.4L490.1 51.5L499.0 61.2L506.4 53.8L512.5 57.7L517.9 66.7L522.6 61.7L526.8 61.6L530.7 71.2L534.1 68.0L537.3 64.5L540.3 73.9L543.1 73.8L545.7 68.0L548.1 75.9L550.4 78.8L552.6 71.5L554.6 76.9L556.6 82.8L558.4 75.3L560.2 77.5L561.9 85.7L563.6 79.4L565.1 78.2L566.6 88.0L568.1 84.2L569.5 79.6L570.9 89.2L572.2 88.6L573.5 81.7L574.7 89.5L575.9 92.4L577.0 84.3L578.2 89.6L579.3 95.1L580.3 87.5L581.4 89.5L582.4 97.5L583.4 91.5L584.4 90.9L585.3 100.9L586.2 97.8L587.1 94.8L588.0 103.9L588.9 103.6L589.7 98.5L590.5 104.8L591.3 108.6L592.1 103.1L592.9 107.4L593.7 111.3L594.4 107.6L595.2 109.5L595.9 115.0L596.6 110.8L597.3 110.1L598.0 117.0L598.7 114.5L599.3 112.4L600.0 118.5L600.6 118.5L601.2 115.0L601.9 118.7L602.5 121.7L603.1 116.3L603.7 119.5L604.3 122.0L604.8 119.0L605.4 119.3L606.0 123.0L606.5 120.5L607.1 119.8L607.6 124.0L608.1 123.1L608.7 120.2L609.2 124.1L609.7 121.8L610.2 121.4L611.2 124.0L612.1 122.9L613.1 120.5L614.0 124.2L614.9 119.6L615.8 121.4L616.7 120.1L617.5 117.5L618.3 117.3L619.1 115.3L619.9 114.1L620.7 113.8L621.5 109.1L622.2 107.6L623.0 107.7L623.7 103.2L624.4 103.3L625.1 98.9L625.8 100.9L626.4 97.3L627.1 97.9L627.8 100.8L628.4 103.9L629.0 102.9L629.6 109.6L630.3 112.2L630.9 114.8L631.5 119.0L632.0 117.4L632.6 118.6L633.2 120.8L633.7 119.4L634.3 122.1L634.8 124.0L635.4 122.9L635.9 125.3L636.4 123.8L637.0 126.8L637.5 127.2L638.0 126.4L638.7 128.1L639.4 131.6L640.2 131.9L640.9 132.4L641.6 134.2L642.2 133.4L642.9 136.0L643.6 138.9L644.2 137.3L644.9 138.0L645.5 139.2L646.1 141.5L646.7 140.4L647.3 139.0L647.9 137.5L648.5 139.4L649.1 138.9L649.6 139.3L650.2 139.4L650.7 137.0L651.3 137.6L651.8 135.8L652.3 134.0L652.9 132.9L653.4 132.0L653.9 131.0L654.4 130.0L655.1 133.8L655.7 135.5L656.3 137.0L657.0 140.9L657.6 144.9L658.2 144.2L658.8 145.8L659.4 145.4L660.0 147.1L660.5 148.2L661.1 149.3L661.7 151.8L662.2 151.4L662.8 152.6L663.3 150.8L663.8 151.9L664.4 152.7L664.9 154.9L665.4 152.1L665.9 153.4L666.5 154.2L667.1 156.0L667.7 155.4L668.3 156.5L668.9 155.3L669.5 154.6L670.0 153.4L670.6 152.7L671.1 149.7L671.7 148.7L672.1 148.2" stroke="#2ca02c" stroke-width="0.55" stroke-opacity="0.5"/>
<path d="M423.0 67.0L434.5 67.0L462.3 51.3L478.6 42.6L490.1 52.8L499.0 62.6L506.4 55.2L512.5 59.0L517.9 68.0L522.6 63.0L526.8 62.8L530.7 72.5L534.1 69.3L537.3 65.7L540.3 75.2L543.1 75.0L545.7 69.2L548.1 77.1L550.4 80.0L552.6 72.7L554.6 78.1L556.6 84.0L558.4 76.5L560.2 78.6L561.9 86.9L563.6 80.6L565.1 79.4L566.6 89.1L568.1 85.3L569.5 80.7L570.9 90.3L572.2 89.7L573.5 82.8L574.7 90.7L575.9 93.5L577.0 85.5L578.2 90.6L579.3 96.3L580.3 88.6L581.4 90.3L582.4 98.4L583.4 92.6L584.4 91.9L585.3 102.0L586.2 98.9L587.1 95.4L588.0 104.2L588.9 105.2L589.7 100.2L590.5 106.3L591.3 109.6L592.1 104.0L592.9 107.5L593.7 112.3L594.4 107.4L595.2 110.9L595.9 116.0L596.6 112.5L597.3 111.6L598.0 117.8L598.7 117.4L599.3 113.6L600.0 119.9L600.6 121.4L601.2 116.4L601.9 120.4L602.5 121.9L603.1 117.4L603.7 120.3L604.3 124.1L604.8 119.7L605.4 120.6L606.0 123.2L606.5 120.0L607.1 121.7L607.6 123.4L608.1 122.9L608.7 121.3L609.2 125.9L609.7 123.8L610.2 123.0L611.2 125.7L612.1 123.5L613.1 122.5L614.0 123.8L614.9 120.3L615.8 120.5L616.7 119.4L617.5 115.5L618.3 116.5L619.1 117.1L619.9 114.0L620.7 114.3L621.5 113.1L622.2 110.2L623.0 107.1L623.7 102.9L624.4 102.7L625.1 101.1L625.8 97.7L626.4 97.4L627.1 97.8L627.8 101.3L628.4 102.9L629.0 104.8L629.6 109.1L630.3 111.9L630.9 113.5L631.5 117.9L632.0 116.8L632.6 120.1L633.2 121.0L633.7 121.6L634.3 123.4L634.8 122.3L635.4 124.4L635.9 126.0L636.4 124.5L637.0 125.4L637.5 128.5L638.0 126.9L638.7 127.7L639.4 131.2L640.2 132.3L640.9 132.9L641.6 135.1L642.2 136.1L642.9 139.0L643.6 137.3L644.2 139.0L644.9 139.2L645.5 141.7L646.1 141.2L646.7 140.7L647.3 140.8L647.9 141.3L648.5 139.4L649.1 140.2L649.6 139.3L650.2 139.1L650.7 137.2L651.3 137.0L651.8 136.8L652.3 136.5L652.9 134.1L653.4 132.5L653.9 130.0L654.4 131.3L655.1 134.9L655.7 134.8L656.3 137.5L657.0 140.5L657.6 142.7L658.2 143.9L658.8 145.5L659.4 145.0L660.0 149.7L660.5 148.5L661.1 147.3L661.7 149.5L662.2 150.5L662.8 151.2L663.3 151.7L663.8 154.2L664.4 154.9L664.9 153.0L665.4 153.9L665.9 155.5L666.5 154.4L667.1 157.5L667.7 155.4L668.3 157.4L668.9 156.0L669.5 158.6L670.0 154.8L670.6 152.7L671.1 150.4L671.7 150.8L672.1 149.7" stroke="#2ca02c" stroke-width="0.55" stroke-opacity="0.5"/>
<path d="M423.0 68.2L434.5 68.2L462.3 52.5L478.6 43.8L490.1 54.1L499.0 64.0L506.4 56.5L512.5 60.3L517.9 69.4L522.6 64.3L526.8 64.1L530.7 73.7L534.1 70.5L537.3 67.0L540.3 76.4L543.1 76.2L545.7 70.4L548.1 78.3L550.4 81.2L552.6 73.9L554.6 79.3L556.6 85.2L558.4 77.6L560.2 79.8L561.9 88.1L563.6 81.7L565.1 80.5L566.6 90.3L568.1 86.4L569.5 81.8L570.9 91.5L572.2 90.8L573.5 83.9L574.7 91.8L575.9 94.6L577.0 86.5L578.2 91.7L579.3 97.5L580.3 90.0L581.4 91.5L582.4 99.6L583.4 93.6L584.4 93.0L585.3 102.7L586.2 99.6L587.1 96.4L588.0 105.0L588.9 106.1L589.7 100.8L590.5 107.7L591.3 110.5L592.1 104.4L592.9 109.2L593.7 114.0L594.4 108.5L595.2 110.7L595.9 117.6L596.6 114.0L597.3 112.5L598.0 118.9L598.7 116.2L599.3 114.8L600.0 119.8L600.6 120.4L601.2 117.9L601.9 120.5L602.5 124.0L603.1 119.0L603.7 122.1L604.3 124.8L604.8 120.3L605.4 121.1L606.0 124.3L606.5 122.7L607.1 121.6L607.6 125.0L608.1 125.4L608.7 123.7L609.2 127.1L609.7 126.0L610.2 123.0L611.2 126.3L612.1 125.8L613.1 122.7L614.0 125.1L614.9 122.2L615.8 122.2L616.7 119.9L617.5 119.4L618.3 117.8L619.1 115.5L619.9 114.3L620.7 114.0L621.5 112.8L622.2 109.7L623.0 109.9L623.7 105.1L624.4 103.4L625.1 99.6L625.8 98.1L626.4 98.2L627.1 98.9L627.8 101.3L628.4 103.5L629.0 106.7L629.6 108.9L630.3 114.3L630.9 117.1L631.5 118.5L632.0 119.2L632.6 120.3L633.2 121.9L633.7 122.6L634.3 123.6L634.8 125.5L635.4 126.0L635.9 127.7L636.4 125.8L637.0 129.2L637.5 129.5L638.0 128.4L638.7 129.9L639.4 131.5L640.2 133.6L640.9 133.4L641.6 135.0L642.2 136.9L642.9 138.7L643.6 138.9L644.2 139.4L644.9 140.8L645.5 141.5L646.1 142.2L646.7 140.6L647.3 140.4L647.9 140.7L648.5 139.2L649.1 140.8L649.6 140.4L650.2 140.6L650.7 140.9L651.3 139.2L651.8 138.4L652.3 135.9L652.9 135.1L653.4 132.5L653.9 132.3L654.4 130.8L655.1 134.1L655.7 137.2L656.3 138.1L657.0 140.1L657.6 144.5L658.2 144.6L658.8 145.8L659.4 147.8L660.0 149.7L660.5 149.6L661.1 149.7L661.7 152.3L662.2 153.3L662.8 153.0L663.3 152.6L663.8 153.4L664.4 154.2L664.9 155.0L665.4 155.2L665.9 157.4L666.5 157.4L667.1 156.1L667.7 156.4L668.3 157.6L668.9 156.9L669.5 158.3L670.0 153.8L670.6 152.4L671.1 152.6L671.7 151.0L672.1 148.5" stroke="#2ca02c" stroke-width="0.75" stroke-opacity="1.0"/>
<path d="M423.0 69.4L434.5 69.4L462.3 53.7L478.6 45.0L490.1 55.4L499.0 65.4L506.4 57.9L512.5 61.7L517.9 70.7L522.6 65.6L526.8 65.4L530.7 75.0L534.1 71.8L537.3 68.2L540.3 77.6L543.1 77.4L545.7 71.6L548.1 79.5L550.4 82.4L552.6 75.1L554.6 80.5L556.6 86.3L558.4 78.8L560.2 81.0L561.9 89.2L563.6 82.9L565.1 81.7L566.6 91.4L568.1 87.6L569.5 83.0L570.9 92.6L572.2 92.0L573.5 85.0L574.7 92.9L575.9 95.7L577.0 87.7L578.2 92.7L579.3 98.6L580.3 90.7L581.4 92.7L582.4 100.6L583.4 95.1L584.4 94.1L585.3 103.7L586.2 100.8L587.1 97.8L588.0 106.3L588.9 106.8L589.7 101.6L590.5 109.2L591.3 111.2L592.1 105.3L592.9 110.2L593.7 115.0L594.4 109.9L595.2 112.2L595.9 118.3L596.6 114.6L597.3 114.7L598.0 119.8L598.7 119.0L599.3 115.8L600.0 122.1L600.6 120.5L601.2 118.3L601.9 122.9L602.5 124.7L603.1 120.1L603.7 121.8L604.3 126.0L604.8 123.0L605.4 121.3L606.0 126.1L606.5 124.0L607.1 123.3L607.6 125.4L608.1 125.6L608.7 123.7L609.2 126.6L609.7 127.5L610.2 125.1L611.2 128.4L612.1 127.1L613.1 125.7L614.0 126.9L614.9 122.2L615.8 122.0L616.7 122.3L617.5 119.7L618.3 122.4L619.1 117.9L619.9 116.2L620.7 115.0L621.5 112.4L622.2 110.0L623.0 109.0L623.7 104.2L624.4 104.5L625.1 99.6L625.8 96.5L626.4 99.8L627.1 95.9L627.8 100.3L628.4 104.4L629.0 106.5L629.6 109.8L630.3 113.1L630.9 117.9L631.5 118.0L632.0 118.9L632.6 121.1L633.2 121.9L633.7 122.2L634.3 125.6L634.8 125.0L635.4 124.8L635.9 129.4L636.4 126.6L637.0 129.3L637.5 128.8L638.0 130.3L638.7 131.8L639.4 132.4L640.2 135.3L640.9 135.6L641.6 138.3L642.2 138.2L642.9 138.6L643.6 140.7L644.2 140.5L644.9 140.6L645.5 143.5L646.1 143.1L646.7 143.7L647.3 141.4L647.9 141.7L648.5 141.8L649.1 141.7L649.6 141.1L650.2 140.6L650.7 141.6L651.3 139.4L651.8 137.6L652.3 134.6L652.9 133.6L653.4 132.5L653.9 131.5L654.4 132.6L655.1 135.2L655.7 137.4L656.3 139.5L657.0 141.9L657.6 143.9L658.2 145.6L658.8 146.4L659.4 146.8L660.0 150.6L660.5 150.4L661.1 151.2L661.7 150.9L662.2 153.9L662.8 153.1L663.3 153.6L663.8 154.8L664.4 156.7L664.9 154.6L665.4 156.6L665.9 156.8L666.5 157.4L667.1 157.7L667.7 157.3L668.3 157.6L668.9 159.4L669.5 158.7L670.0 155.7L670.6 155.2L671.1 152.9L671.7 152.2L672.1 151.2" stroke="#2ca02c" stroke-width="0.55" stroke-opacity="0.5"/>
<path d="M423.0 58.1L434.5 58.1L462.3 42.4L478.6 33.6L490.1 43.1L499.0 52.4L506.4 45.1L512.5 49.1L517.9 58.3L522.6 53.4L526.8 53.3L530.7 63.1L534.1 60.0L537.3 56.5L540.3 66.0L543.1 65.9L545.7 60.2L548.1 68.1L550.4 71.1L552.6 63.9L554.6 69.3L556.6 75.3L558.4 67.8L560.2 70.0L561.9 78.3L563.6 72.0L565.1 70.9L566.6 80.7L568.1 76.9L569.5 72.3L570.9 82.0L572.2 81.4L573.5 74.5L574.7 82.4L575.9 85.3L577.0 77.2L578.2 82.5L579.3 88.2L580.3 80.7L581.4 82.3L582.4 90.3L583.4 84.7L584.4 83.9L585.3 94.1L586.2 91.2L587.1 87.8L588.0 96.7L588.9 97.3L589.7 92.3L590.5 99.2L591.3 101.8L592.1 95.0L592.9 100.1L593.7 105.4L594.4 100.7L595.2 102.8L595.9 108.1L596.6 105.4L597.3 103.4L598.0 110.0L598.7 108.4L599.3 106.6L600.0 112.5L600.6 112.6L601.2 109.9L601.9 112.4L602.5 115.9L603.1 110.9L603.7 113.4L604.3 114.8L604.8 112.5L605.4 113.0L606.0 116.0L606.5 113.9L607.1 112.9L607.6 116.8L608.1 115.8L608.7 114.6L609.2 117.9L609.7 117.8L610.2 115.0L611.2 117.9L612.1 115.7L613.1 114.8L614.0 116.3L614.9 114.5L615.8 112.3L616.7 111.4L617.5 109.2L618.3 109.9L619.1 108.4L619.9 107.7L620.7 107.1L621.5 104.5L622.2 102.0L623.0 103.7L623.7 99.6L624.4 101.1L625.1 98.9L625.8 96.4L626.4 96.9L627.1 97.5L627.8 97.2L628.4 102.4L629.0 101.8L629.6 105.9L630.3 106.4L630.9 110.9L631.5 113.2L632.0 112.3L632.6 113.9L633.2 113.7L633.7 114.5L634.3 118.3L634.8 117.6L635.4 117.9L635.9 117.4L636.4 120.4L637.0 120.7L637.5 122.4L638.0 121.7L638.7 123.4L639.4 123.8L640.2 124.9L640.9 127.8L641.6 128.2L642.2 130.8L642.9 130.6L643.6 131.2L644.2 131.5L644.9 131.6L645.5 133.6L646.1 132.9L646.7 134.0L647.3 133.8L647.9 134.6L648.5 134.4L649.1 132.9L649.6 132.4L650.2 134.6L650.7 133.4L651.3 132.7L651.8 133.3L652.3 132.1L652.9 130.8L653.4 130.8L653.9 128.4L654.4 128.5L655.1 132.0L655.7 134.0L656.3 133.4L657.0 135.0L657.6 136.8L658.2 136.9L658.8 139.7L659.4 140.9L660.0 143.1L660.5 143.0L661.1 143.2L661.7 144.3L662.2 147.0L662.8 145.6L663.3 147.5L663.8 147.1L664.4 146.9L664.9 148.5L665.4 148.3L665.9 148.8L666.5 149.0L667.1 149.5L667.7 149.6L668.3 151.4L668.9 149.6L669.5 152.6L670.0 149.6L670.6 146.6L671.1 144.3L671.7 142.9L672.1 144.3" stroke="#ff7f0e" stroke-width="0.55" stroke-opacity="0.5"/>
<path d="M423.0 59.1L434.5 59.1L462.3 43.4L478.6 34.7L490.1 44.2L499.0 53.5L506.4 46.2L512.5 50.2L517.9 59.4L522.6 54.5L526.8 54.4L530.7 64.1L534.1 61.0L537.3 57.6L540.3 67.1L543.1 67.0L545.7 61.2L548.1 69.1L550.4 72.1L552.6 64.9L554.6 70.3L556.6 76.3L558.4 68.8L560.2 71.0L561.9 79.3L563.6 73.0L565.1 71.9L566.6 81.6L568.1 77.8L569.5 73.3L570.9 82.9L572.2 82.4L573.5 75.4L574.7 83.3L575.9 86.2L577.0 78.3L578.2 83.4L579.3 89.3L580.3 81.6L581.4 83.4L582.4 91.3L583.4 85.6L584.4 84.8L585.3 95.0L586.2 92.2L587.1 88.4L588.0 97.3L588.9 97.5L589.7 92.9L590.5 99.1L591.3 102.4L592.1 97.2L592.9 101.5L593.7 106.5L594.4 100.7L595.2 103.3L595.9 109.0L596.6 106.2L597.3 104.8L598.0 112.2L598.7 109.9L599.3 107.8L600.0 112.8L600.6 113.2L601.2 109.7L601.9 114.4L602.5 115.1L603.1 111.4L603.7 114.6L604.3 117.0L604.8 113.1L605.4 114.2L606.0 116.5L606.5 114.0L607.1 114.7L607.6 120.0L608.1 118.3L608.7 117.0L609.2 118.7L609.7 117.9L610.2 116.7L611.2 116.2L612.1 117.7L613.1 117.3L614.0 118.2L614.9 114.2L615.8 114.0L616.7 113.9L617.5 110.3L618.3 109.8L619.1 110.5L619.9 107.5L620.7 108.7L621.5 104.3L622.2 103.3L623.0 102.4L623.7 100.4L624.4 100.7L625.1 98.1L625.8 96.4L626.4 95.7L627.1 94.3L627.8 98.3L628.4 99.7L629.0 101.7L629.6 105.8L630.3 107.2L630.9 111.2L631.5 114.6L632.0 112.4L632.6 113.3L633.2 114.4L633.7 115.8L634.3 118.3L634.8 117.9L635.4 117.0L635.9 121.5L636.4 119.6L637.0 122.6L637.5 123.4L638.0 120.8L638.7 124.0L639.4 124.1L640.2 126.7L640.9 127.3L641.6 128.9L642.2 130.0L642.9 130.1L643.6 130.4L644.2 133.1L644.9 134.0L645.5 133.6L646.1 135.3L646.7 135.4L647.3 134.3L647.9 134.5L648.5 135.9L649.1 132.8L649.6 135.5L650.2 132.6L650.7 133.9L651.3 134.8L651.8 133.6L652.3 130.0L652.9 130.6L653.4 129.0L653.9 128.0L654.4 129.9L655.1 131.4L655.7 134.5L656.3 135.2L657.0 135.3L657.6 138.1L658.2 138.3L658.8 138.5L659.4 140.9L660.0 142.9L660.5 143.5L661.1 143.2L661.7 144.5L662.2 145.7L662.8 146.5L663.3 145.6L663.8 147.2L664.4 148.4L664.9 148.7L665.4 149.9L665.9 150.0L666.5 151.8L667.1 152.8L667.7 150.3L668.3 152.8L668.9 153.2L669.5 152.5L670.0 148.2L670.6 148.9L671.1 144.5L671.7 144.8L672.1 144.2" stroke="#ff7f0e" stroke-width="0.55" stroke-opacity="0.5"/>
<path d="M423.0 60.1L434.5 60.1L462.3 44.4L478.6 35.7L490.1 45.3L499.0 54.7L506.4 47.4L512.5 51.4L517.9 60.5L522.6 55.5L526.8 55.5L530.7 65.2L534.1 62.1L537.3 58.6L540.3 68.1L543.1 68.0L545.7 62.2L548.1 70.1L550.4 73.1L552.6 65.9L554.6 71.3L556.6 77.2L558.4 69.7L560.2 72.0L561.9 80.3L563.6 74.0L565.1 72.8L566.6 82.6L568.1 78.8L569.5 74.2L570.9 83.9L572.2 83.3L573.5 76.4L574.7 84.3L575.9 87.1L577.0 79.1L578.2 84.3L579.3 90.1L580.3 82.4L581.4 84.1L582.4 92.3L583.4 86.3L584.4 85.6L585.3 96.0L586.2 92.7L587.1 89.3L588.0 97.8L588.9 98.8L589.7 93.3L590.5 100.3L591.3 103.7L592.1 98.0L592.9 101.8L593.7 107.3L594.4 102.3L595.2 103.8L595.9 109.5L596.6 106.6L597.3 105.1L598.0 112.4L598.7 110.5L599.3 107.5L600.0 113.3L600.6 115.7L601.2 109.6L601.9 114.7L602.5 116.1L603.1 112.7L603.7 114.9L604.3 118.1L604.8 114.6L605.4 114.8L606.0 117.3L606.5 115.7L607.1 115.6L607.6 119.2L608.1 118.5L608.7 115.8L609.2 118.2L609.7 118.7L610.2 116.9L611.2 120.2L612.1 116.6L613.1 117.2L614.0 119.5L614.9 115.7L615.8 114.7L616.7 114.2L617.5 111.5L618.3 113.0L619.1 111.8L619.9 109.6L620.7 108.4L621.5 106.0L622.2 107.0L623.0 103.8L623.7 101.6L624.4 99.7L625.1 98.9L625.8 96.4L626.4 98.6L627.1 96.7L627.8 100.3L628.4 100.9L629.0 102.7L629.6 104.8L630.3 108.0L630.9 111.0L631.5 113.3L632.0 112.6L632.6 116.2L633.2 116.6L633.7 117.2L634.3 119.6L634.8 118.5L635.4 118.7L635.9 121.4L636.4 120.3L637.0 123.1L637.5 122.6L638.0 124.0L638.7 125.1L639.4 125.3L640.2 125.8L640.9 127.8L641.6 129.3L642.2 130.7L642.9 131.3L643.6 131.9L644.2 133.5L644.9 135.0L645.5 133.7L646.1 136.3L646.7 135.1L647.3 133.5L647.9 137.2L648.5 135.7L649.1 134.5L649.6 135.3L650.2 134.0L650.7 135.9L651.3 133.4L651.8 135.9L652.3 132.1L652.9 132.2L653.4 132.0L653.9 130.2L654.4 130.8L655.1 132.6L655.7 133.0L656.3 136.0L657.0 139.0L657.6 139.1L658.2 140.2L658.8 138.9L659.4 141.4L660.0 143.1L660.5 143.5L661.1 143.6L661.7 146.0L662.2 147.5L662.8 147.2L663.3 147.3L663.8 149.0L664.4 150.7L664.9 148.0L665.4 149.3L665.9 149.8L666.5 150.2L667.1 152.5L667.7 153.1L668.3 153.6L668.9 153.5L669.5 151.6L670.0 149.1L670.6 148.6L671.1 146.4L671.7 145.1L672.1 146.3" stroke="#ff7f0e" stroke-width="0.75" stroke-opacity="1.0"/>
<path d="M423.0 61.1L434.5 61.1L462.3 45.4L478.6 36.7L490.1 46.4L499.0 55.8L506.4 48.5L512.5 52.5L517.9 61.6L522.6 56.6L526.8 56.5L530.7 66.2L534.1 63.1L537.3 59.6L540.3 69.1L543.1 69.0L545.7 63.2L548.1 71.1L550.4 74.1L552.6 66.9L554.6 72.3L556.6 78.2L558.4 70.7L560.2 72.9L561.9 81.2L563.6 74.9L565.1 73.8L566.6 83.5L568.1 79.7L569.5 75.2L570.9 84.8L572.2 84.2L573.5 77.3L574.7 85.2L575.9 88.0L577.0 80.0L578.2 85.0L579.3 91.0L580.3 83.4L581.4 85.1L582.4 93.1L583.4 87.5L584.4 86.8L585.3 96.5L586.2 93.7L587.1 90.3L588.0 99.5L588.9 99.5L589.7 94.4L590.5 101.2L591.3 104.2L592.1 98.7L592.9 103.2L593.7 108.0L594.4 102.8L595.2 103.9L595.9 111.1L596.6 106.8L597.3 106.6L598.0 113.6L598.7 111.5L599.3 108.6L600.0 115.1L600.6 114.9L601.2 111.3L601.9 116.3L602.5 117.5L603.1 115.2L603.7 114.8L604.3 118.4L604.8 115.2L605.4 116.5L606.0 119.0L606.5 117.9L607.1 116.2L607.6 119.1L608.1 118.3L608.7 116.7L609.2 119.8L609.7 119.5L610.2 117.4L611.2 121.0L612.1 117.8L613.1 119.4L614.0 119.9L614.9 116.4L615.8 116.1L616.7 114.7L617.5 111.0L618.3 112.2L619.1 110.0L619.9 109.0L620.7 109.7L621.5 105.6L622.2 103.5L623.0 104.6L623.7 101.6L624.4 99.8L625.1 99.6L625.8 97.6L626.4 97.5L627.1 96.2L627.8 97.6L628.4 103.6L629.0 103.0L629.6 108.4L630.3 109.9L630.9 112.4L631.5 115.6L632.0 113.5L632.6 114.7L633.2 117.9L633.7 115.5L634.3 118.9L634.8 119.1L635.4 119.6L635.9 121.5L636.4 120.5L637.0 122.7L637.5 123.8L638.0 123.2L638.7 123.2L639.4 125.0L640.2 126.9L640.9 128.8L641.6 128.2L642.2 132.4L642.9 132.8L643.6 133.6L644.2 134.0L644.9 135.8L645.5 135.7L646.1 138.0L646.7 136.7L647.3 137.6L647.9 135.1L648.5 136.3L649.1 137.5L649.6 136.4L650.2 135.2L650.7 134.4L651.3 135.0L651.8 132.6L652.3 132.9L652.9 133.0L653.4 131.2L653.9 129.2L654.4 129.9L655.1 132.7L655.7 134.5L656.3 135.3L657.0 135.4L657.6 139.9L658.2 141.1L658.8 142.5L659.4 141.8L660.0 144.1L660.5 144.3L661.1 146.5L661.7 146.6L662.2 146.8L662.8 148.1L663.3 145.7L663.8 148.7L664.4 149.9L664.9 148.4L665.4 150.6L665.9 150.5L666.5 151.1L667.1 151.8L667.7 153.6L668.3 153.1L668.9 153.4L669.5 152.5L670.0 151.2L670.6 147.9L671.1 146.8L671.7 145.6L672.1 146.0" stroke="#ff7f0e" stroke-width="0.55" stroke-opacity="0.5"/>
<path d="M423.0 62.1L434.5 62.1L462.3 46.4L478.6 37.7L490.1 47.5L499.0 57.0L506.4 49.6L512.5 53.6L517.9 62.7L522.6 57.7L526.8 57.6L530.7 67.3L534.1 64.2L537.3 60.7L540.3 70.1L543.1 70.0L545.7 64.2L548.1 72.2L550.4 75.1L552.6 67.8L554.6 73.3L556.6 79.2L558.4 71.7L560.2 73.9L561.9 82.2L563.6 75.9L565.1 74.7L566.6 84.5L568.1 80.7L569.5 76.1L570.9 85.7L572.2 85.2L573.5 78.2L574.7 86.1L575.9 89.0L577.0 80.9L578.2 86.1L579.3 92.0L580.3 84.2L581.4 86.1L582.4 94.2L583.4 88.3L584.4 87.2L585.3 97.5L586.2 94.9L587.1 91.3L588.0 100.1L588.9 100.4L589.7 94.9L590.5 102.1L591.3 105.8L592.1 99.9L592.9 104.1L593.7 108.6L594.4 103.7L595.2 105.8L595.9 111.7L596.6 108.1L597.3 107.3L598.0 114.1L598.7 111.8L599.3 109.8L600.0 116.1L600.6 114.9L601.2 112.7L601.9 115.7L602.5 116.4L603.1 113.3L603.7 115.6L604.3 119.8L604.8 116.5L605.4 118.0L606.0 119.7L606.5 117.3L607.1 116.8L607.6 121.6L608.1 119.8L608.7 117.6L609.2 120.1L609.7 122.3L610.2 117.0L611.2 120.9L612.1 118.2L613.1 118.3L614.0 119.8L614.9 116.3L615.8 116.0L616.7 117.9L617.5 114.2L618.3 112.3L619.1 111.9L619.9 111.5L620.7 110.4L621.5 107.9L622.2 106.7L623.0 103.8L623.7 103.2L624.4 100.1L625.1 99.9L625.8 97.5L626.4 96.7L627.1 96.8L627.8 98.8L628.4 101.1L629.0 102.0L629.6 108.1L630.3 110.5L630.9 114.0L631.5 115.7L632.0 113.1L632.6 117.5L633.2 117.1L633.7 116.8L634.3 119.5L634.8 120.0L635.4 122.1L635.9 121.6L636.4 122.4L637.0 122.5L637.5 123.5L638.0 123.3L638.7 126.1L639.4 126.8L640.2 127.7L640.9 129.7L641.6 131.4L642.2 132.1L642.9 132.5L643.6 134.3L644.2 135.4L644.9 135.4L645.5 138.0L646.1 137.5L646.7 137.6L647.3 136.7L647.9 136.3L648.5 135.7L649.1 136.9L649.6 135.9L650.2 135.8L650.7 135.5L651.3 135.9L651.8 133.1L652.3 133.4L652.9 131.8L653.4 130.7L653.9 129.1L654.4 129.6L655.1 132.0L655.7 133.8L656.3 136.6L657.0 137.6L657.6 139.4L658.2 141.1L658.8 140.6L659.4 142.3L660.0 144.2L660.5 145.4L661.1 148.0L661.7 146.2L662.2 150.6L662.8 149.8L663.3 147.5L663.8 149.4L664.4 150.1L664.9 150.7L665.4 149.4L665.9 152.8L666.5 150.8L667.1 152.9L667.7 153.6L668.3 155.0L668.9 152.1L669.5 152.7L670.0 151.8L670.6 149.4L671.1 147.1L671.7 146.9L672.1 146.2" stroke="#ff7f0e" stroke-width="0.55" stroke-opacity="0.5"/>
<path d="M423.0 58.3L434.5 58.3L462.3 39.4L478.6 28.3L490.1 32.1L499.0 37.5L506.4 26.3L512.5 27.4L517.9 34.3L522.6 26.4L526.8 24.2L530.7 32.1L534.1 27.7L537.3 23.6L540.3 30.7L543.1 29.5L545.7 24.4L548.1 30.1L550.4 31.9L552.6 27.0L554.6 30.5L556.6 33.9L558.4 29.6L560.2 30.9L561.9 35.5L563.6 32.5L565.1 32.2L566.6 36.9L568.1 35.3L569.5 33.6L570.9 37.8L572.2 37.8L573.5 35.1L574.7 38.5L575.9 40.0L577.0 37.4L578.2 39.7L579.3 42.6L580.3 40.3L581.4 41.3L582.4 44.5L583.4 42.5L584.4 42.4L585.3 46.5L586.2 45.2L587.1 43.8L588.0 47.4L588.9 48.1L589.7 46.0L590.5 49.2L591.3 50.7L592.1 48.6L592.9 50.6L593.7 53.0L594.4 51.4L595.2 52.7L595.9 55.8L596.6 54.4L597.3 54.2L598.0 57.6L598.7 56.6L599.3 56.3L600.0 59.2L600.6 59.0L601.2 57.9L601.9 60.5L602.5 62.0L603.1 60.4L603.7 62.1L604.3 63.0L604.8 61.5L605.4 62.6L606.0 65.5L606.5 64.6L607.1 64.6L607.6 65.7L608.1 66.8L608.7 66.2L609.2 68.3L609.7 68.1L610.2 67.3L611.2 70.2L612.1 70.0L613.1 70.1L614.0 73.0L614.9 72.7L615.8 74.1L616.7 76.2L617.5 73.9L618.3 77.3L619.1 76.7L619.9 77.4L620.7 79.1L621.5 79.0L622.2 79.9L623.0 80.6L623.7 81.2L624.4 83.5L625.1 81.9L625.8 83.2L626.4 86.5L627.1 85.7L627.8 85.5L628.4 87.2L629.0 84.8L629.6 87.3L630.3 86.7L630.9 89.2L631.5 89.8L632.0 90.1L632.6 90.4L633.2 90.6L633.7 89.4L634.3 93.0L634.8 90.9L635.4 91.0L635.9 92.8L636.4 91.5L637.0 94.4L637.5 93.7L638.0 93.2L638.7 93.0L639.4 94.8L640.2 94.3L640.9 96.0L641.6 96.9L642.2 95.0L642.9 99.0L643.6 99.2L644.2 98.5L644.9 99.9L645.5 100.0L646.1 98.9L646.7 99.3L647.3 100.3L647.9 100.4L648.5 100.1L649.1 99.5L649.6 101.1L650.2 104.6L650.7 103.4L651.3 106.5L651.8 105.2L652.3 103.8L652.9 107.0L653.4 106.7L653.9 106.0L654.4 104.7L655.1 108.4L655.7 105.0L656.3 110.1L657.0 109.5L657.6 109.8L658.2 112.8L658.8 110.1L659.4 112.0L660.0 111.1L660.5 110.6L661.1 112.7L661.7 113.9L662.2 110.1L662.8 112.9L663.3 113.9L663.8 115.1L664.4 116.8L664.9 116.1L665.4 118.1L665.9 116.4L666.5 114.5L667.1 116.5L667.7 115.4L668.3 116.1L668.9 120.6L669.5 120.9L670.0 119.6L670.6 121.9L671.1 124.7L671.7 120.4L672.1 119.2" stroke="#1f77b4" stroke-width="1.0" stroke-opacity="1"/>
<path d="M423.0 58.3L434.5 58.3L462.3 39.4L478.6 28.3L490.1 32.1L499.0 37.5L506.4 26.3L512.5 27.4L517.9 34.3L522.6 26.4L526.8 24.2L530.7 32.1L534.1 27.7L537.3 23.6L540.3 30.7L543.1 29.5L545.7 24.4L548.1 30.1L550.4 31.9L552.6 27.0L554.6 30.5L556.6 33.9L558.4 29.6L560.2 30.9L561.9 35.5L563.6 32.5L565.1 32.2L566.6 36.9L568.1 35.3L569.5 33.6L570.9 37.8L572.2 37.8L573.5 35.1L574.7 38.5L575.9 40.0L577.0 37.4L578.2 39.7L579.3 42.6L580.3 40.3L581.4 41.3L582.4 44.5L583.4 42.5L584.4 42.4L585.3 46.5L586.2 45.2L587.1 43.8L588.0 47.4L588.9 48.1L589.7 46.0L590.5 49.2L591.3 50.7L592.1 48.6L592.9 50.5L593.7 53.2L594.4 51.3L595.2 52.6L595.9 55.7L596.6 54.4L597.3 54.3L598.0 57.5L598.7 56.4L599.3 56.1L600.0 59.0L600.6 58.9L601.2 58.1L601.9 60.5L602.5 62.0L603.1 60.6L603.7 61.9L604.3 63.1L604.8 61.5L605.4 62.4L606.0 64.3L606.5 64.5L607.1 64.3L607.6 66.7L608.1 66.2L608.7 65.7L609.2 67.7L609.7 68.6L610.2 67.4L611.2 70.1L612.1 70.4L613.1 69.7L614.0 73.6L614.9 72.4L615.8 74.0L616.7 75.5L617.5 74.7L618.3 77.5L619.1 76.6L619.9 77.1L620.7 78.7L621.5 78.0L622.2 81.0L623.0 82.1L623.7 80.8L624.4 83.3L625.1 82.5L625.8 84.3L626.4 84.0L627.1 85.9L627.8 85.7L628.4 87.7L629.0 85.7L629.6 88.1L630.3 87.9L630.9 88.4L631.5 90.1L632.0 88.2L632.6 89.4L633.2 91.0L633.7 89.9L634.3 93.2L634.8 91.9L635.4 92.4L635.9 92.0L636.4 91.9L637.0 92.6L637.5 94.0L638.0 94.2L638.7 94.0L639.4 95.3L640.2 94.9L640.9 95.9L641.6 96.3L642.2 97.1L642.9 98.4L643.6 99.6L644.2 99.4L644.9 99.2L645.5 101.2L646.1 101.3L646.7 100.1L647.3 100.3L647.9 99.3L648.5 102.2L649.1 99.5L649.6 99.6L650.2 103.2L650.7 103.5L651.3 105.1L651.8 102.9L652.3 104.3L652.9 103.9L653.4 105.3L653.9 105.7L654.4 107.6L655.1 107.0L655.7 106.1L656.3 107.8L657.0 108.0L657.6 108.8L658.2 109.9L658.8 107.7L659.4 111.7L660.0 112.5L660.5 111.0L661.1 111.4L661.7 111.2L662.2 114.1L662.8 114.1L663.3 111.6L663.8 114.7L664.4 115.2L664.9 113.5L665.4 114.9L665.9 119.3L666.5 116.5L667.1 116.0L667.7 115.9L668.3 118.5L668.9 116.8L669.5 118.7L670.0 117.4L670.6 122.9L671.1 124.7L671.7 120.3L672.1 123.2" stroke="#1f77b4" stroke-width="0.7" stroke-opacity="0.7"/>
<path d="M423.0 58.3L434.5 58.3L462.3 39.4L478.6 28.3L490.1 32.1L499.0 37.5L506.4 26.3L512.5 27.4L517.9 34.3L522.6 26.4L526.8 24.2L530.7 32.1L534.1 27.7L537.3 23.6L540.3 30.7L543.1 29.5L545.7 24.4L548.1 30.1L550.4 31.9L552.6 27.0L554.6 30.5L556.6 33.9L558.4 29.6L560.2 30.9L561.9 35.5L563.6 32.5L565.1 32.2L566.6 36.9L568.1 35.3L569.5 33.6L570.9 37.8L572.2 37.8L573.5 35.1L574.7 38.5L575.9 40.0L577.0 37.4L578.2 39.7L579.3 42.6L580.3 40.3L581.4 41.3L582.4 44.5L583.4 42.5L584.4 42.4L585.3 46.5L586.2 45.2L587.1 43.8L588.0 47.4L588.9 48.1L589.7 46.0L590.5 49.2L591.3 50.7L592.1 48.6L592.9 50.5L593.7 53.1L594.4 51.4L595.2 52.6L595.9 55.7L596.6 54.5L597.3 54.2L598.0 57.6L598.7 56.6L599.3 56.2L600.0 58.9L600.6 59.4L601.2 57.8L601.9 60.1L602.5 62.1L603.1 60.4L603.7 62.2L604.3 62.6L604.8 61.8L605.4 62.5L606.0 65.3L606.5 64.6L607.1 64.6L607.6 66.0L608.1 66.0L608.7 65.9L609.2 68.5L609.7 68.2L610.2 66.8L611.2 70.2L612.1 69.8L613.1 70.3L614.0 73.7L614.9 72.3L615.8 73.9L616.7 75.4L617.5 75.5L618.3 76.8L619.1 77.0L619.9 77.9L620.7 79.3L621.5 78.6L622.2 81.2L623.0 80.2L623.7 80.6L624.4 83.4L625.1 82.7L625.8 83.7L626.4 85.7L627.1 84.5L627.8 85.8L628.4 87.3L629.0 85.3L629.6 87.8L630.3 86.8L630.9 88.6L631.5 89.9L632.0 87.9L632.6 89.7L633.2 91.4L633.7 90.2L634.3 91.8L634.8 90.0L635.4 91.0L635.9 93.4L636.4 91.8L637.0 92.7L637.5 95.6L638.0 92.0L638.7 93.7L639.4 95.5L640.2 96.2L640.9 97.6L641.6 96.4L642.2 97.5L642.9 99.6L643.6 99.7L644.2 98.8L644.9 99.5L645.5 99.1L646.1 99.6L646.7 101.2L647.3 102.1L647.9 101.4L648.5 100.9L649.1 100.0L649.6 100.8L650.2 101.0L650.7 103.3L651.3 102.4L651.8 105.9L652.3 103.3L652.9 107.7L653.4 104.4L653.9 105.5L654.4 105.2L655.1 105.4L655.7 104.2L656.3 110.4L657.0 110.7L657.6 109.0L658.2 111.9L658.8 110.8L659.4 111.1L660.0 112.3L660.5 110.5L661.1 111.2L661.7 110.7L662.2 112.4L662.8 113.0L663.3 112.1L663.8 114.7L664.4 113.2L664.9 113.8L665.4 113.2L665.9 117.5L666.5 114.2L667.1 118.1L667.7 118.3L668.3 119.3L668.9 117.5L669.5 120.3L670.0 119.5L670.6 120.2L671.1 122.3L671.7 120.1L672.1 124.6" stroke="#1f77b4" stroke-width="0.7" stroke-opacity="0.7"/>
<path d="M478.3 28.4L671.5 118" stroke="#1a1a1a" stroke-width="1.3" stroke-dasharray="4.2 2.2"/>
<path d="M558.3 11.3L670.4 89.6" stroke="#1a1a1a" stroke-width="1.3" stroke-dasharray="4.2 2.2"/>
</g>
<text x="604" y="27.7" class="fl">f</text><text x="615.5" y="19.8" class="fe">−3</text>
<text x="536.5" y="118.7" class="fl">f</text><text x="548.0" y="110.8" class="fe">−2</text>
<path d="M632 31.5Q647 44 650.5 66" fill="none" stroke="#222" stroke-width="0.9"/>
<path d="M646.4 59.7L650.5 66L652.7 58.8" fill="none" stroke="#222" stroke-width="0.9"/>
<path d="M563.5 112.5Q584 110 598.5 91" fill="none" stroke="#222" stroke-width="0.9"/>
<path d="M596.8 98.3L598.5 91L591.8 94.4" fill="none" stroke="#222" stroke-width="0.9"/>
<rect x="429.8" y="66.6" width="71.4" height="98" rx="2" fill="#eaeaf2" fill-opacity="0.8" stroke="#cfcfd6" stroke-width="1"/>
<line x1="434" x2="460" y1="78.5" y2="78.5" stroke="#1f77b4" stroke-width="0.6" stroke-opacity="0.55"/>
<text x="470" y="82.1" class="lg">grey</text>
<line x1="434" x2="460" y1="97.2" y2="97.2" stroke="#ff7f0e" stroke-width="0.6" stroke-opacity="0.55"/>
<text x="470" y="100.8" class="lg">white</text>
<line x1="434" x2="460" y1="116.0" y2="116.0" stroke="#2ca02c" stroke-width="0.6" stroke-opacity="0.55"/>
<text x="470" y="119.6" class="lg">csf</text>
<line x1="434" x2="460" y1="134.8" y2="134.8" stroke="#d62728" stroke-width="0.6" stroke-opacity="0.55"/>
<text x="470" y="138.3" class="lg">skull</text>
<line x1="434" x2="460" y1="153.5" y2="153.5" stroke="#9467bd" stroke-width="0.6" stroke-opacity="0.55"/>
<text x="470" y="157.1" class="lg">scalp</text>
<rect x="423" y="4.4" width="260.4" height="166.7" fill="none" stroke="#2b2b2b" stroke-width="1.25"/>
<line x1="423.0" x2="423.0" y1="171.1" y2="175.1" stroke="#333" stroke-width="1"/>
<g transform="translate(406.7 194.9) scale(0.93 1)"><text class="tk">10</text></g><text x="428.9" y="185.3" class="tk" style="font-size:17px">1</text>
<line x1="515.3" x2="515.3" y1="171.1" y2="175.1" stroke="#333" stroke-width="1"/>
<g transform="translate(499.0 194.9) scale(0.93 1)"><text class="tk">10</text></g><text x="521.2" y="185.3" class="tk" style="font-size:17px">2</text>
<line x1="607.6" x2="607.6" y1="171.1" y2="175.1" stroke="#333" stroke-width="1"/>
<g transform="translate(591.3 194.9) scale(0.93 1)"><text class="tk">10</text></g><text x="613.5" y="185.3" class="tk" style="font-size:17px">3</text>
<line x1="450.8" x2="450.8" y1="171.1" y2="173.29999999999998" stroke="#333" stroke-width="0.7"/>
<line x1="467.0" x2="467.0" y1="171.1" y2="173.29999999999998" stroke="#333" stroke-width="0.7"/>
<line x1="478.6" x2="478.6" y1="171.1" y2="173.29999999999998" stroke="#333" stroke-width="0.7"/>
<line x1="487.5" x2="487.5" y1="171.1" y2="173.29999999999998" stroke="#333" stroke-width="0.7"/>
<line x1="494.8" x2="494.8" y1="171.1" y2="173.29999999999998" stroke="#333" stroke-width="0.7"/>
<line x1="501.0" x2="501.0" y1="171.1" y2="173.29999999999998" stroke="#333" stroke-width="0.7"/>
<line x1="506.4" x2="506.4" y1="171.1" y2="173.29999999999998" stroke="#333" stroke-width="0.7"/>
<line x1="511.1" x2="511.1" y1="171.1" y2="173.29999999999998" stroke="#333" stroke-width="0.7"/>
<line x1="543.1" x2="543.1" y1="171.1" y2="173.29999999999998" stroke="#333" stroke-width="0.7"/>
<line x1="559.3" x2="559.3" y1="171.1" y2="173.29999999999998" stroke="#333" stroke-width="0.7"/>
<line x1="570.9" x2="570.9" y1="171.1" y2="173.29999999999998" stroke="#333" stroke-width="0.7"/>
<line x1="579.8" x2="579.8" y1="171.1" y2="173.29999999999998" stroke="#333" stroke-width="0.7"/>
<line x1="587.1" x2="587.1" y1="171.1" y2="173.29999999999998" stroke="#333" stroke-width="0.7"/>
<line x1="593.3" x2="593.3" y1="171.1" y2="173.29999999999998" stroke="#333" stroke-width="0.7"/>
<line x1="598.7" x2="598.7" y1="171.1" y2="173.29999999999998" stroke="#333" stroke-width="0.7"/>
<line x1="603.4" x2="603.4" y1="171.1" y2="173.29999999999998" stroke="#333" stroke-width="0.7"/>
<line x1="635.4" x2="635.4" y1="171.1" y2="173.29999999999998" stroke="#333" stroke-width="0.7"/>
<line x1="651.6" x2="651.6" y1="171.1" y2="173.29999999999998" stroke="#333" stroke-width="0.7"/>
<line x1="663.2" x2="663.2" y1="171.1" y2="173.29999999999998" stroke="#333" stroke-width="0.7"/>
<line x1="672.1" x2="672.1" y1="171.1" y2="173.29999999999998" stroke="#333" stroke-width="0.7"/>
<line x1="679.4" x2="679.4" y1="171.1" y2="173.29999999999998" stroke="#333" stroke-width="0.7"/>
<line x1="419" x2="423" y1="51.5" y2="51.5" stroke="#333" stroke-width="1"/>
<g transform="translate(373.6 60.1) scale(0.93 1)"><text class="tk">10</text></g><text x="395.8" y="50.5" class="tk" style="font-size:17px">−3</text>
<line x1="419" x2="423" y1="115.7" y2="115.7" stroke="#333" stroke-width="1"/>
<g transform="translate(373.6 124.3) scale(0.93 1)"><text class="tk">10</text></g><text x="395.8" y="114.7" class="tk" style="font-size:17px">−6</text>
<g transform="translate(365.3 177.5) rotate(-90) scale(0.835 1)"><text class="al">Power</text></g>
<g transform="translate(365.8 117.0) rotate(-90) scale(0.85 1)"><text class="rm" letter-spacing="2.5">[mV<tspan dy="-9" font-size="16">2</tspan><tspan dy="9"> Hz</tspan><tspan dy="-9" font-size="16">−</tspan><tspan dy="9">1]</tspan></text></g>
<g transform="translate(480.6 218.6) scale(0.853 1)"><text class="al">Frequency</text></g>
<g transform="translate(584 218.6) scale(0.85 1)"><text class="rm">[Hz]</text></g>
</g>
<g id="pd">
<rect x="423" y="254.9" width="260.4" height="170.4" fill="#eaeaf2"/>
<line x1="515.3" x2="515.3" y1="254.9" y2="425.3" stroke="#fff" stroke-width="1"/>
<line x1="607.6" x2="607.6" y1="254.9" y2="425.3" stroke="#fff" stroke-width="1"/>
<line x1="423" x2="683.4" y1="293.2" y2="293.2" stroke="#fff" stroke-width="1"/>
<line x1="423" x2="683.4" y1="364.2" y2="364.2" stroke="#fff" stroke-width="1"/>
<g clip-path="url(#cd)" fill="none" stroke-linejoin="round">
<path d="M423.0 333.0L450.8 334.0L467.0 333.8L478.6 331.3L487.5 328.9L494.8 326.7L501.0 324.7L506.4 323.0L511.1 322.6L515.3 323.4L519.1 323.2L522.6 318.2L525.8 308.5L528.8 301.6L531.6 296.3L534.1 298.0L536.6 300.2L538.9 302.1L541.0 303.3L543.1 305.0L545.0 305.3L546.9 306.4L548.7 306.2L550.4 305.9L552.0 305.4L553.6 306.0L555.1 306.4L556.6 306.5L558.0 307.0L559.3 307.6L560.7 308.3L561.9 309.4L563.2 309.5L564.4 309.0L565.5 308.7L566.6 308.7L567.7 308.7L568.8 308.6L569.9 308.0L570.9 307.6L571.9 308.0L572.8 308.9L573.8 309.5L574.7 309.5L575.6 309.3L576.5 309.3L577.3 309.2L578.2 309.0L579.0 309.2L579.8 309.6L580.6 310.3L581.4 311.1L582.2 311.9L582.9 312.7L583.6 314.6L584.4 316.6L585.1 318.6L585.8 320.5L586.4 320.8L587.1 320.3L587.8 319.5L588.4 318.3L589.1 317.3L589.7 317.4L590.3 318.0L590.9 318.8L591.5 319.5L592.1 320.4L592.7 320.6L593.3 320.9L593.9 320.8L594.4 321.2L595.0 321.3L595.5 322.0L596.1 322.8L596.6 323.2L597.1 323.6L597.6 324.1L598.2 324.5L598.7 324.9L599.6 326.4L600.6 327.5L601.6 327.7L602.5 326.8L603.4 325.3L604.3 324.4L605.1 324.2L606.0 324.1L606.8 324.8L607.6 325.2L608.4 326.0L609.2 326.2L609.9 326.5L610.7 326.3L611.4 328.0L612.1 328.5L612.9 329.1L613.5 329.7L614.2 329.5L614.9 330.3L615.6 330.7L616.2 331.2L616.9 332.2L617.5 333.2L618.1 333.9L618.7 335.3L619.3 335.4L619.9 336.2L620.5 336.6L621.1 337.6L621.7 337.2L622.2 338.2L622.8 338.2L623.3 338.1L623.9 339.1L624.4 339.7L624.9 338.7L625.4 338.0L625.9 339.4L626.4 338.3L627.2 340.0L627.9 341.5L628.6 342.8L629.3 344.5L630.0 345.5L630.7 346.2L631.4 346.6L632.0 347.8L632.7 347.0L633.3 348.8L634.0 348.7L634.6 348.4L635.2 349.3L635.8 350.0L636.4 351.5L637.0 353.4L637.5 353.4L638.1 354.6L638.7 352.9L639.2 354.3L639.7 354.8L640.3 356.3L640.8 357.1L641.3 357.4L641.8 356.5L642.4 356.4L642.9 357.0L643.5 358.7L644.2 359.2L644.8 360.3L645.4 360.2L646.1 362.3L646.7 362.3L647.3 362.3L647.9 362.0L648.4 363.3L649.0 363.2L649.6 362.4L650.1 365.3L650.7 365.6L651.2 365.3L651.8 366.6L652.3 365.4L652.8 366.0L653.3 367.4L653.8 367.5L654.4 367.6L655.0 366.8L655.6 366.3L656.2 367.8L656.8 366.2L657.4 367.0L657.9 368.1L658.5 367.8L659.1 369.2L659.6 369.6L660.2 369.1L660.7 370.5L661.2 370.9L661.7 370.7L662.3 371.2L662.8 369.9L663.3 370.0L663.9 370.0L664.5 370.9L665.0 371.1L665.6 372.8L666.2 371.3L666.7 373.0L667.3 372.6L667.8 372.5L668.3 373.0L668.9 371.4L669.4 372.9L669.9 375.2L670.4 370.8L671.0 372.0L671.5 373.7L672.1 372.8" stroke="#1f77b4" stroke-width="1.3"/>
<path d="M423.0 319.6L450.8 320.5L467.0 320.3L478.6 318.3L487.5 315.4L494.8 316.2L501.0 318.3L506.4 319.8L511.1 321.2L515.3 321.5L519.1 320.0L522.6 317.4L525.8 311.3L528.8 305.1L531.6 299.0L534.1 295.7L536.6 295.5L538.9 295.2L541.0 293.8L543.1 293.9L545.0 294.9L546.9 295.5L548.7 296.1L550.4 296.5L552.0 296.9L553.6 297.5L555.1 298.2L556.6 299.8L558.0 303.3L559.3 306.3L560.7 304.8L561.9 303.0L563.2 302.5L564.4 304.5L565.5 306.2L566.6 306.7L567.7 307.1L568.8 307.8L569.9 308.6L570.9 308.3L571.9 307.4L572.8 306.6L573.8 306.7L574.7 307.3L575.6 307.8L576.5 308.0L577.3 307.8L578.2 307.4L579.0 307.3L579.8 307.5L580.6 308.0L581.4 308.5L582.2 309.0L582.9 309.5L583.6 310.1L584.4 311.0L585.1 312.0L585.8 312.9L586.4 313.7L587.1 314.4L587.8 315.1L588.4 315.8L589.1 315.9L589.7 315.5L590.3 315.2L590.9 314.8L591.5 314.9L592.1 314.9L592.7 315.2L593.3 315.7L593.9 315.9L594.4 315.8L595.0 316.1L595.5 316.2L596.1 316.5L596.6 316.5L597.1 316.8L597.6 316.9L598.2 317.2L598.7 317.4L599.6 318.1L600.6 318.7L601.6 319.1L602.5 320.0L603.4 320.4L604.3 320.9L605.1 321.3L606.0 321.0L606.8 320.7L607.6 321.0L608.4 319.7L609.2 319.6L609.9 319.2L610.7 319.9L611.4 319.4L612.1 319.9L612.9 320.0L613.5 320.9L614.2 321.4L614.9 323.6L615.6 323.6L616.2 324.5L616.9 325.2L617.5 325.4L618.1 326.0L618.7 326.4L619.3 327.1L619.9 326.6L620.5 326.6L621.1 327.2L621.7 328.1L622.2 327.9L622.8 328.0L623.3 329.2L623.9 329.7L624.4 330.1L624.9 330.2L625.4 330.6L625.9 330.7L626.4 331.1L627.2 331.0L627.9 331.7L628.6 332.3L629.3 332.8L630.0 333.2L630.7 333.5L631.4 335.1L632.0 335.6L632.7 335.3L633.3 335.7L634.0 335.5L634.6 335.9L635.2 336.3L635.8 336.3L636.4 338.8L637.0 337.6L637.5 338.0L638.1 338.7L638.7 337.8L639.2 339.1L639.7 338.9L640.3 340.2L640.8 339.6L641.3 340.1L641.8 341.4L642.4 341.6L642.9 341.7L643.5 341.0L644.2 341.7L644.8 343.2L645.4 342.0L646.1 343.4L646.7 345.2L647.3 344.9L647.9 344.7L648.4 347.2L649.0 344.2L649.6 346.3L650.1 346.4L650.7 346.2L651.2 346.5L651.8 347.5L652.3 346.9L652.8 346.5L653.3 347.6L653.8 347.3L654.4 347.7L655.0 347.1L655.6 347.6L656.2 348.1L656.8 349.5L657.4 347.9L657.9 349.5L658.5 350.5L659.1 349.5L659.6 350.9L660.2 352.1L660.7 351.5L661.2 352.2L661.7 353.1L662.3 353.4L662.8 354.7L663.3 354.8L663.9 354.6L664.5 356.1L665.0 355.8L665.6 355.4L666.2 356.3L666.7 357.1L667.3 357.8L667.8 357.9L668.3 358.4L668.9 359.2L669.4 358.8L669.9 360.0L670.4 360.2L671.0 361.1L671.5 361.1L672.1 360.8" stroke="#ff7f0e" stroke-width="1.3"/>
<path d="M423.0 340.3L450.8 340.7L467.0 340.9L478.6 341.0L487.5 343.3L494.8 345.3L501.0 345.8L506.4 344.0L511.1 344.4L515.3 344.7L519.1 343.7L522.6 341.1L525.8 333.4L528.8 324.6L531.6 318.9L534.1 317.5L536.6 318.6L538.9 319.6L541.0 320.5L543.1 322.1L545.0 322.8L546.9 322.7L548.7 322.7L550.4 322.4L552.0 323.3L553.6 323.7L555.1 324.8L556.6 325.7L558.0 325.7L559.3 325.9L560.7 326.8L561.9 328.1L563.2 328.4L564.4 328.2L565.5 328.6L566.6 329.2L567.7 329.6L568.8 330.0L569.9 330.3L570.9 330.3L571.9 330.1L572.8 330.0L573.8 330.3L574.7 330.9L575.6 331.5L576.5 331.9L577.3 331.9L578.2 331.7L579.0 332.1L579.8 332.8L580.6 333.6L581.4 334.3L582.2 335.0L582.9 335.7L583.6 337.3L584.4 338.9L585.1 340.5L585.8 342.0L586.4 342.1L587.1 341.4L587.8 340.9L588.4 340.2L589.1 339.6L589.7 339.9L590.3 340.0L590.9 340.2L591.5 340.5L592.1 340.8L592.7 340.8L593.3 341.1L593.9 341.4L594.4 341.5L595.0 342.1L595.5 342.8L596.1 342.9L596.6 343.0L597.1 343.5L597.6 343.8L598.2 344.2L598.7 344.2L599.6 344.7L600.6 346.2L601.6 348.6L602.5 352.5L603.4 352.1L604.3 350.9L605.1 349.8L606.0 348.8L606.8 349.6L607.6 351.1L608.4 352.3L609.2 352.2L609.9 352.4L610.7 352.6L611.4 353.0L612.1 353.6L612.9 353.7L613.5 354.7L614.2 356.0L614.9 355.9L615.6 357.3L616.2 358.0L616.9 358.2L617.5 359.2L618.1 359.3L618.7 359.7L619.3 360.0L619.9 361.2L620.5 361.4L621.1 361.1L621.7 361.9L622.2 361.3L622.8 362.3L623.3 362.3L623.9 362.3L624.4 362.7L624.9 363.9L625.4 364.1L625.9 363.8L626.4 363.8L627.2 363.0L627.9 363.6L628.6 365.7L629.3 366.5L630.0 367.1L630.7 368.3L631.4 370.6L632.0 371.0L632.7 370.8L633.3 371.9L634.0 371.7L634.6 372.1L635.2 371.4L635.8 373.5L636.4 372.4L637.0 374.2L637.5 373.5L638.1 373.7L638.7 374.8L639.2 374.6L639.7 375.2L640.3 374.0L640.8 374.5L641.3 375.2L641.8 375.7L642.4 376.6L642.9 378.8L643.5 378.9L644.2 379.4L644.8 379.5L645.4 380.7L646.1 380.8L646.7 379.8L647.3 381.9L647.9 383.0L648.4 383.5L649.0 383.7L649.6 384.8L650.1 384.2L650.7 384.1L651.2 385.3L651.8 384.9L652.3 386.8L652.8 388.5L653.3 388.7L653.8 387.7L654.4 388.9L655.0 388.4L655.6 389.8L656.2 389.2L656.8 391.9L657.4 391.7L657.9 392.5L658.5 393.6L659.1 393.6L659.6 394.9L660.2 394.7L660.7 396.8L661.2 396.5L661.7 396.1L662.3 397.0L662.8 397.4L663.3 396.3L663.9 397.4L664.5 398.3L665.0 396.8L665.6 398.9L666.2 399.8L666.7 399.6L667.3 399.6L667.8 401.2L668.3 401.7L668.9 402.4L669.4 401.3L669.9 402.5L670.4 403.7L671.0 405.9L671.5 404.9L672.1 406.2" stroke="#2ca02c" stroke-width="1.3"/>
<path d="M423.0 342.7L450.8 343.1L467.0 343.3L478.6 343.4L487.5 345.7L494.8 347.7L501.0 348.2L506.4 346.5L511.1 347.0L515.3 347.5L519.1 347.1L522.6 345.0L525.8 338.1L528.8 329.8L531.6 324.4L534.1 322.9L536.6 323.9L538.9 324.8L541.0 326.2L543.1 328.2L545.0 329.1L546.9 328.7L548.7 328.3L550.4 327.6L552.0 328.1L553.6 328.7L555.1 330.0L556.6 330.9L558.0 330.9L559.3 330.9L560.7 331.7L561.9 332.9L563.2 333.1L564.4 333.0L565.5 333.4L566.6 334.2L567.7 334.8L568.8 335.2L569.9 335.5L570.9 335.5L571.9 335.2L572.8 335.2L573.8 335.5L574.7 336.1L575.6 336.7L576.5 337.0L577.3 336.9L578.2 336.7L579.0 337.0L579.8 337.7L580.6 338.6L581.4 339.3L582.2 340.0L582.9 340.6L583.6 342.0L584.4 343.6L585.1 345.3L585.8 346.8L586.4 347.0L587.1 346.4L587.8 345.7L588.4 345.0L589.1 344.4L589.7 344.7L590.3 345.0L590.9 345.5L591.5 345.7L592.1 346.1L592.7 346.4L593.3 346.6L593.9 347.0L594.4 347.4L595.0 347.5L595.5 348.3L596.1 348.5L596.6 348.8L597.1 348.8L597.6 348.9L598.2 349.0L598.7 349.4L599.6 349.6L600.6 350.8L601.6 353.8L602.5 358.3L603.4 357.1L604.3 356.0L605.1 354.8L606.0 353.7L606.8 354.9L607.6 355.6L608.4 357.0L609.2 356.8L609.9 357.9L610.7 357.5L611.4 358.8L612.1 359.1L612.9 359.5L613.5 360.2L614.2 360.8L614.9 361.3L615.6 362.3L616.2 362.0L616.9 363.5L617.5 362.9L618.1 363.9L618.7 363.7L619.3 365.3L619.9 365.6L620.5 366.5L621.1 366.4L621.7 367.0L622.2 367.1L622.8 366.9L623.3 367.5L623.9 366.7L624.4 367.3L624.9 368.3L625.4 368.4L625.9 368.4L626.4 368.4L627.2 369.3L627.9 369.4L628.6 369.6L629.3 370.7L630.0 372.2L630.7 373.5L631.4 374.8L632.0 375.5L632.7 376.0L633.3 375.7L634.0 375.7L634.6 377.5L635.2 376.1L635.8 377.5L636.4 378.4L637.0 378.8L637.5 378.7L638.1 378.4L638.7 378.8L639.2 379.2L639.7 380.4L640.3 380.6L640.8 380.5L641.3 381.0L641.8 381.8L642.4 381.7L642.9 381.8L643.5 383.3L644.2 383.7L644.8 384.8L645.4 387.0L646.1 385.6L646.7 386.7L647.3 385.0L647.9 386.6L648.4 387.6L649.0 389.1L649.6 389.2L650.1 388.5L650.7 388.5L651.2 390.3L651.8 389.3L652.3 389.6L652.8 391.2L653.3 391.0L653.8 390.4L654.4 390.1L655.0 390.7L655.6 391.8L656.2 392.5L656.8 393.8L657.4 394.3L657.9 395.7L658.5 394.9L659.1 396.7L659.6 396.9L660.2 398.0L660.7 397.8L661.2 398.7L661.7 398.0L662.3 400.3L662.8 398.7L663.3 399.8L663.9 400.0L664.5 400.1L665.0 401.0L665.6 400.3L666.2 399.4L666.7 402.8L667.3 402.3L667.8 402.5L668.3 403.6L668.9 404.3L669.4 405.2L669.9 405.8L670.4 405.9L671.0 407.7L671.5 408.4L672.1 407.2" stroke="#d62728" stroke-width="1.3"/>
<path d="M423.0 344.7L450.8 345.1L467.0 345.3L478.6 345.4L487.5 347.7L494.8 349.7L501.0 350.2L506.4 348.5L511.1 349.2L515.3 349.8L519.1 349.8L522.6 348.2L525.8 341.9L528.8 334.1L531.6 328.9L534.1 327.4L536.6 328.1L538.9 329.0L541.0 330.5L543.1 332.4L545.0 333.2L546.9 332.5L548.7 332.2L550.4 331.6L552.0 332.0L553.6 332.6L555.1 334.0L556.6 334.9L558.0 334.9L559.3 335.2L560.7 336.1L561.9 337.1L563.2 336.9L564.4 336.6L565.5 337.0L566.6 337.7L567.7 338.0L568.8 338.3L569.9 338.8L570.9 339.0L571.9 338.8L572.8 338.6L573.8 339.0L574.7 339.7L575.6 340.4L576.5 340.8L577.3 340.7L578.2 340.3L579.0 340.5L579.8 341.2L580.6 342.2L581.4 343.0L582.2 343.8L582.9 344.4L583.6 345.8L584.4 347.4L585.1 349.0L585.8 350.5L586.4 350.7L587.1 350.1L587.8 349.4L588.4 348.6L589.1 348.0L589.7 348.3L590.3 348.4L590.9 348.9L591.5 349.3L592.1 349.6L592.7 349.7L593.3 349.9L593.9 350.4L594.4 350.6L595.0 351.0L595.5 351.7L596.1 351.7L596.6 352.0L597.1 352.1L597.6 352.3L598.2 352.3L598.7 352.6L599.6 353.2L600.6 354.0L601.6 357.3L602.5 361.9L603.4 361.0L604.3 359.8L605.1 358.5L606.0 357.7L606.8 358.5L607.6 359.4L608.4 360.1L609.2 361.0L609.9 361.9L610.7 361.5L611.4 362.3L612.1 362.2L612.9 362.6L613.5 363.6L614.2 364.7L614.9 364.5L615.6 366.1L616.2 366.7L616.9 367.1L617.5 367.4L618.1 367.9L618.7 367.8L619.3 369.1L619.9 369.6L620.5 369.6L621.1 370.6L621.7 370.3L622.2 369.8L622.8 370.0L623.3 369.9L623.9 370.6L624.4 370.7L624.9 371.3L625.4 371.5L625.9 372.3L626.4 371.6L627.2 372.8L627.9 372.7L628.6 374.3L629.3 374.3L630.0 375.6L630.7 377.5L631.4 377.8L632.0 379.5L632.7 378.7L633.3 379.9L634.0 380.5L634.6 379.0L635.2 379.4L635.8 380.5L636.4 382.0L637.0 381.0L637.5 383.0L638.1 382.0L638.7 382.5L639.2 383.1L639.7 383.5L640.3 383.7L640.8 384.6L641.3 383.1L641.8 385.8L642.4 386.1L642.9 386.9L643.5 387.1L644.2 387.4L644.8 389.0L645.4 388.5L646.1 388.5L646.7 388.3L647.3 388.5L647.9 390.0L648.4 390.1L649.0 390.4L649.6 391.5L650.1 391.9L650.7 391.1L651.2 390.9L651.8 391.3L652.3 392.5L652.8 392.3L653.3 393.6L653.8 393.1L654.4 393.9L655.0 392.3L655.6 392.4L656.2 394.2L656.8 394.6L657.4 394.9L657.9 395.2L658.5 398.6L659.1 397.2L659.6 398.2L660.2 398.8L660.7 399.5L661.2 400.3L661.7 400.6L662.3 399.9L662.8 400.6L663.3 401.1L663.9 401.7L664.5 401.6L665.0 401.4L665.6 402.8L666.2 403.2L666.7 404.1L667.3 402.5L667.8 405.3L668.3 406.0L668.9 406.3L669.4 407.3L669.9 406.7L670.4 407.6L671.0 409.1L671.5 410.9L672.1 411.3" stroke="#9467bd" stroke-width="1.3"/>
<path d="M513 263L671.4 343.8" stroke="#1a1a1a" stroke-width="1.3" stroke-dasharray="4.2 2.2"/>
<path d="M513 315.9L669.6 416.2" stroke="#1a1a1a" stroke-width="1.3" stroke-dasharray="4.2 2.2"/>
</g>
<text x="588" y="293.7" class="fl">f</text><text x="599.5" y="285.8" class="fe">−4</text>
<text x="534" y="396.7" class="fl">f</text><text x="545.5" y="388.8" class="fe">−5</text>
<path d="M614 290Q632 294 640 313" fill="none" stroke="#222" stroke-width="0.9"/>
<path d="M634.7 307.7L640 313L640.7 305.5" fill="none" stroke="#222" stroke-width="0.9"/>
<path d="M563 392.5Q583 393 598.5 379.5" fill="none" stroke="#222" stroke-width="0.9"/>
<path d="M595.3 386.3L598.5 379.5L591.3 381.4" fill="none" stroke="#222" stroke-width="0.9"/>
<rect x="429.8" y="320.4" width="71.4" height="98" rx="2" fill="#eaeaf2" fill-opacity="0.8" stroke="#cfcfd6" stroke-width="1"/>
<line x1="434" x2="460" y1="332.3" y2="332.3" stroke="#1f77b4" stroke-width="1.6"/>
<text x="470" y="335.9" class="lg">grey</text>
<line x1="434" x2="460" y1="351.0" y2="351.0" stroke="#ff7f0e" stroke-width="1.6"/>
<text x="470" y="354.6" class="lg">white</text>
<line x1="434" x2="460" y1="369.8" y2="369.8" stroke="#2ca02c" stroke-width="1.6"/>
<text x="470" y="373.4" class="lg">csf</text>
<line x1="434" x2="460" y1="388.5" y2="388.5" stroke="#d62728" stroke-width="1.6"/>
<text x="470" y="392.1" class="lg">skull</text>
<line x1="434" x2="460" y1="407.3" y2="407.3" stroke="#9467bd" stroke-width="1.6"/>
<text x="470" y="410.9" class="lg">scalp</text>
<rect x="423" y="254.9" width="260.4" height="170.4" fill="none" stroke="#2b2b2b" stroke-width="1.25"/>
<line x1="423.0" x2="423.0" y1="425.3" y2="429.3" stroke="#333" stroke-width="1"/>
<g transform="translate(406.7 449.1) scale(0.93 1)"><text class="tk">10</text></g><text x="428.9" y="439.5" class="tk" style="font-size:17px">1</text>
<line x1="515.3" x2="515.3" y1="425.3" y2="429.3" stroke="#333" stroke-width="1"/>
<g transform="translate(499.0 449.1) scale(0.93 1)"><text class="tk">10</text></g><text x="521.2" y="439.5" class="tk" style="font-size:17px">2</text>
<line x1="607.6" x2="607.6" y1="425.3" y2="429.3" stroke="#333" stroke-width="1"/>
<g transform="translate(591.3 449.1) scale(0.93 1)"><text class="tk">10</text></g><text x="613.5" y="439.5" class="tk" style="font-size:17px">3</text>
<line x1="450.8" x2="450.8" y1="425.3" y2="427.5" stroke="#333" stroke-width="0.7"/>
<line x1="467.0" x2="467.0" y1="425.3" y2="427.5" stroke="#333" stroke-width="0.7"/>
<line x1="478.6" x2="478.6" y1="425.3" y2="427.5" stroke="#333" stroke-width="0.7"/>
<line x1="487.5" x2="487.5" y1="425.3" y2="427.5" stroke="#333" stroke-width="0.7"/>
<line x1="494.8" x2="494.8" y1="425.3" y2="427.5" stroke="#333" stroke-width="0.7"/>
<line x1="501.0" x2="501.0" y1="425.3" y2="427.5" stroke="#333" stroke-width="0.7"/>
<line x1="506.4" x2="506.4" y1="425.3" y2="427.5" stroke="#333" stroke-width="0.7"/>
<line x1="511.1" x2="511.1" y1="425.3" y2="427.5" stroke="#333" stroke-width="0.7"/>
<line x1="543.1" x2="543.1" y1="425.3" y2="427.5" stroke="#333" stroke-width="0.7"/>
<line x1="559.3" x2="559.3" y1="425.3" y2="427.5" stroke="#333" stroke-width="0.7"/>
<line x1="570.9" x2="570.9" y1="425.3" y2="427.5" stroke="#333" stroke-width="0.7"/>
<line x1="579.8" x2="579.8" y1="425.3" y2="427.5" stroke="#333" stroke-width="0.7"/>
<line x1="587.1" x2="587.1" y1="425.3" y2="427.5" stroke="#333" stroke-width="0.7"/>
<line x1="593.3" x2="593.3" y1="425.3" y2="427.5" stroke="#333" stroke-width="0.7"/>
<line x1="598.7" x2="598.7" y1="425.3" y2="427.5" stroke="#333" stroke-width="0.7"/>
<line x1="603.4" x2="603.4" y1="425.3" y2="427.5" stroke="#333" stroke-width="0.7"/>
<line x1="635.4" x2="635.4" y1="425.3" y2="427.5" stroke="#333" stroke-width="0.7"/>
<line x1="651.6" x2="651.6" y1="425.3" y2="427.5" stroke="#333" stroke-width="0.7"/>
<line x1="663.2" x2="663.2" y1="425.3" y2="427.5" stroke="#333" stroke-width="0.7"/>
<line x1="672.1" x2="672.1" y1="425.3" y2="427.5" stroke="#333" stroke-width="0.7"/>
<line x1="679.4" x2="679.4" y1="425.3" y2="427.5" stroke="#333" stroke-width="0.7"/>
<line x1="419" x2="423" y1="293.2" y2="293.2" stroke="#333" stroke-width="1"/>
<g transform="translate(383.2 301.8) scale(0.93 1)"><text class="tk">10</text></g><text x="405.4" y="292.2" class="tk" style="font-size:17px">0</text>
<line x1="419" x2="423" y1="364.2" y2="364.2" stroke="#333" stroke-width="1"/>
<g transform="translate(373.6 372.8) scale(0.93 1)"><text class="tk">10</text></g><text x="395.8" y="363.2" class="tk" style="font-size:17px">−6</text>
<g transform="translate(365.3 431) rotate(-90) scale(0.835 1)"><text class="al">Power</text></g>
<g transform="translate(365.8 370.5) rotate(-90) scale(0.85 1)"><text class="rm" letter-spacing="2.5">[mV<tspan dy="-9" font-size="16">2</tspan><tspan dy="9"> Hz</tspan><tspan dy="-9" font-size="16">−</tspan><tspan dy="9">1]</tspan></text></g>
<g transform="translate(480.6 472.6) scale(0.853 1)"><text class="al">Frequency</text></g>
<g transform="translate(584 472.6) scale(0.85 1)"><text class="rm">[Hz]</text></g>
</g>
<text x="167.4" y="248.6" text-anchor="middle" class="pl">(a)</text>
<text x="513" y="246.7" text-anchor="middle" class="pl">(b)</text>
<text x="167.8" y="498.6" text-anchor="middle" class="pl">(c)</text>
<text x="515.5" y="499.5" text-anchor="middle" class="pl">(d)</text>

</svg>
</body></html>
